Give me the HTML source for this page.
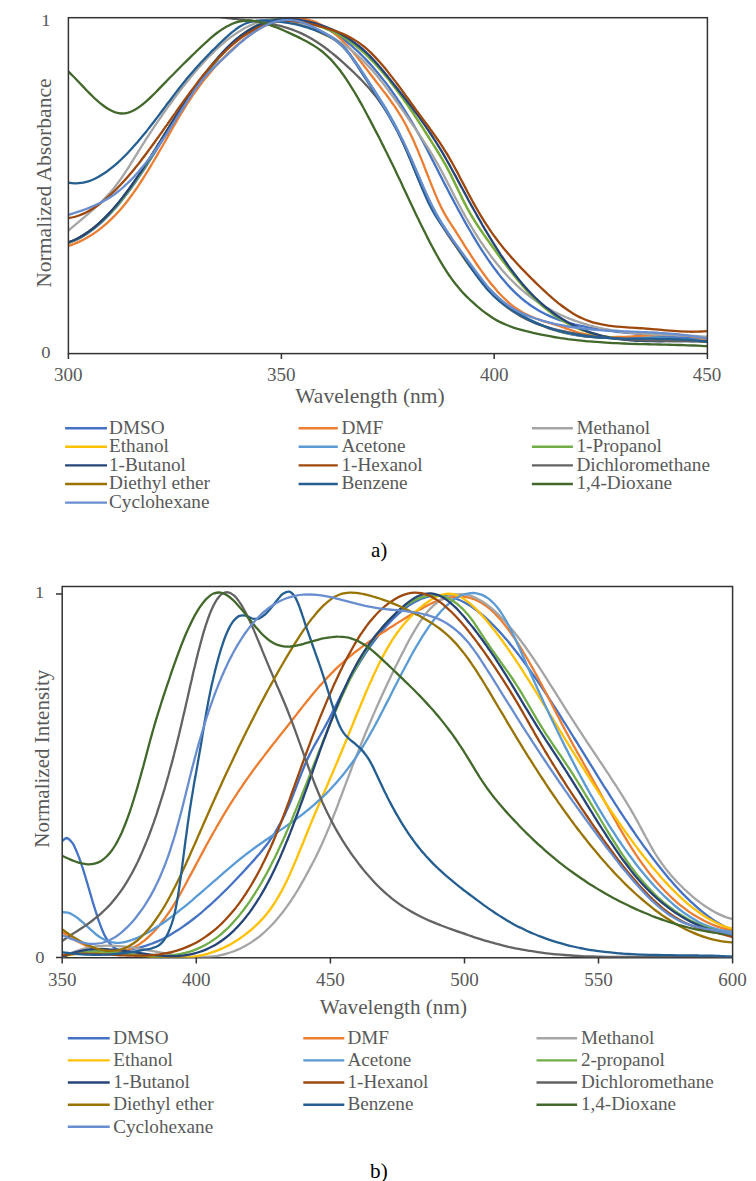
<!DOCTYPE html>
<html><head><meta charset="utf-8"><style>html,body{margin:0;padding:0;background:#fff;}svg{display:block;}</style></head>
<body><svg width="756" height="1181" viewBox="0 0 756 1181">
<defs>
<clipPath id="p1"><rect x="68" y="17.5" width="639" height="335.5"/></clipPath>
<clipPath id="p2"><rect x="62" y="586.5" width="670.5" height="371"/></clipPath>
</defs>
<rect width="756" height="1181" fill="#fff"/>
<path d="M62.2,957.7 H732.6" stroke="#333333" stroke-width="1.5"/>
<g fill="none" stroke-width="2.3" stroke-linejoin="round" stroke-linecap="round">
<path d="M67.6,242.8 C68.7,242.4 72.0,241.2 74.1,240.2 C76.2,239.2 78.3,238.1 80.3,237.0 C82.3,235.8 84.3,234.6 86.3,233.3 C88.2,232.0 90.1,230.6 92.0,229.2 C93.8,227.8 95.6,226.3 97.4,224.8 C99.2,223.3 100.9,221.7 102.6,220.1 C104.3,218.5 106.0,216.9 107.6,215.2 C109.2,213.5 110.8,211.8 112.4,210.1 C114.0,208.4 115.5,206.6 117.0,204.8 C118.5,203.0 120.0,201.2 121.5,199.4 C122.9,197.6 124.4,195.7 125.8,193.9 C127.2,192.0 128.6,190.1 129.9,188.2 C131.3,186.4 132.6,184.4 134.0,182.5 C135.3,180.6 136.6,178.7 137.9,176.7 C139.2,174.8 140.5,172.8 141.8,170.9 C143.0,168.9 144.3,167.0 145.6,165.0 C146.8,163.0 148.1,161.1 149.3,159.1 C150.5,157.1 151.8,155.1 153.0,153.1 C154.2,151.1 155.5,149.2 156.7,147.2 C157.9,145.2 159.1,143.2 160.4,141.2 C161.6,139.2 162.8,137.2 164.0,135.2 C165.2,133.2 166.5,131.3 167.7,129.3 C168.9,127.3 170.2,125.3 171.4,123.3 C172.6,121.3 173.9,119.4 175.1,117.4 C176.4,115.4 177.6,113.4 178.9,111.5 C180.2,109.5 181.4,107.6 182.7,105.6 C184.0,103.7 185.3,101.7 186.6,99.8 C187.9,97.8 189.2,95.9 190.5,94.0 C191.9,92.1 193.2,90.1 194.5,88.2 C195.9,86.3 197.2,84.4 198.6,82.5 C200.0,80.7 201.4,78.8 202.8,76.9 C204.2,75.1 205.6,73.2 207.1,71.4 C208.5,69.5 209.9,67.7 211.4,65.9 C212.9,64.1 214.4,62.3 215.9,60.5 C217.4,58.7 219.0,57.0 220.5,55.3 C222.1,53.5 223.7,51.8 225.3,50.1 C226.9,48.5 228.6,46.8 230.3,45.2 C232.0,43.6 233.7,42.0 235.4,40.4 C237.2,38.9 239.0,37.4 240.8,35.9 C242.6,34.5 244.5,33.1 246.4,31.8 C248.4,30.5 250.3,29.2 252.4,28.0 C254.4,26.9 256.4,25.8 258.6,24.8 C260.7,23.8 262.9,22.9 265.1,22.2 C267.3,21.5 269.6,20.9 271.9,20.5 C274.1,20.1 276.5,19.8 278.8,19.8 C281.1,19.7 283.5,19.8 285.8,20.1 C288.1,20.4 290.4,20.9 292.7,21.4 C294.9,22.0 297.2,22.7 299.4,23.5 C301.6,24.2 303.8,25.1 305.9,26.0 C308.1,26.9 310.2,27.8 312.3,28.8 C314.5,29.7 316.6,30.8 318.7,31.8 C320.8,32.8 322.9,33.8 325.0,34.8 C327.1,35.8 329.3,36.7 331.3,37.8 C333.3,38.9 335.4,40.1 337.3,41.5 C339.1,42.9 340.9,44.5 342.5,46.1 C344.2,47.7 345.8,49.5 347.3,51.3 C348.8,53.0 350.2,54.9 351.6,56.7 C353.0,58.6 354.4,60.5 355.7,62.4 C357.1,64.3 358.4,66.3 359.6,68.2 C360.9,70.2 362.2,72.1 363.4,74.1 C364.7,76.1 366.0,78.1 367.2,80.0 C368.5,82.0 369.7,84.0 371.0,85.9 C372.2,87.9 373.5,89.8 374.8,91.8 C376.0,93.8 377.3,95.7 378.5,97.7 C379.8,99.7 381.0,101.7 382.3,103.7 C383.5,105.6 384.7,107.6 385.9,109.6 C387.1,111.6 388.3,113.7 389.4,115.7 C390.6,117.7 391.7,119.8 392.8,121.8 C394.0,123.9 395.0,125.9 396.1,128.0 C397.2,130.1 398.2,132.2 399.3,134.3 C400.3,136.4 401.3,138.5 402.3,140.6 C403.3,142.7 404.2,144.8 405.2,147.0 C406.1,149.1 407.1,151.2 408.0,153.4 C408.9,155.5 409.9,157.6 410.8,159.8 C411.7,161.9 412.6,164.1 413.5,166.2 C414.4,168.4 415.4,170.5 416.3,172.7 C417.2,174.8 418.1,177.0 419.1,179.1 C420.0,181.3 420.9,183.4 421.9,185.5 C422.8,187.7 423.8,189.8 424.8,191.9 C425.7,194.0 426.7,196.2 427.7,198.3 C428.7,200.4 429.8,202.5 430.8,204.5 C431.9,206.6 433.0,208.7 434.1,210.7 C435.2,212.8 436.4,214.8 437.6,216.8 C438.7,218.8 439.9,220.8 441.2,222.8 C442.4,224.8 443.7,226.8 444.9,228.8 C446.1,230.7 447.4,232.7 448.7,234.7 C449.9,236.6 451.2,238.6 452.4,240.6 C453.7,242.5 454.9,244.5 456.2,246.5 C457.5,248.4 458.7,250.4 460.0,252.3 C461.3,254.3 462.6,256.2 463.9,258.1 C465.3,260.1 466.6,262.0 468.0,263.9 C469.3,265.8 470.7,267.6 472.2,269.5 C473.6,271.3 475.0,273.2 476.5,275.0 C478.0,276.8 479.5,278.6 481.0,280.4 C482.5,282.1 484.1,283.9 485.7,285.6 C487.3,287.3 488.9,289.0 490.5,290.6 C492.2,292.3 493.9,293.9 495.6,295.5 C497.3,297.1 499.0,298.6 500.8,300.2 C502.6,301.7 504.4,303.2 506.2,304.6 C508.0,306.1 509.9,307.5 511.8,308.8 C513.7,310.2 515.6,311.5 517.6,312.8 C519.5,314.1 521.5,315.3 523.5,316.5 C525.5,317.7 527.6,318.8 529.6,319.9 C531.7,321.0 533.8,322.0 535.9,323.0 C538.0,324.0 540.2,324.9 542.3,325.8 C544.5,326.7 546.7,327.5 548.9,328.3 C551.1,329.0 553.3,329.8 555.6,330.4 C557.8,331.1 560.1,331.7 562.3,332.3 C564.6,332.8 566.9,333.3 569.2,333.8 C571.4,334.3 573.7,334.7 576.0,335.0 C578.4,335.4 580.7,335.7 583.0,336.0 C585.3,336.3 587.6,336.6 589.9,336.8 C592.3,337.0 594.6,337.1 596.9,337.3 C599.3,337.4 601.6,337.5 603.9,337.6 C606.3,337.7 608.6,337.8 610.9,337.8 C613.3,337.9 615.6,337.9 617.9,337.9 C620.3,337.9 622.6,337.9 624.9,337.9 C627.3,337.8 629.6,337.8 631.9,337.8 C634.3,337.7 636.6,337.7 639.0,337.7 C641.3,337.6 643.6,337.6 646.0,337.6 C648.3,337.5 650.6,337.5 653.0,337.5 C655.3,337.5 657.6,337.5 660.0,337.5 C662.3,337.5 664.6,337.5 667.0,337.6 C669.3,337.6 671.6,337.7 674.0,337.8 C676.3,337.9 678.6,338.1 681.0,338.2 C683.3,338.4 685.6,338.6 687.9,338.8 C690.3,339.1 692.6,339.3 694.9,339.6 C697.2,340.0 699.5,340.3 701.8,340.7 C704.1,341.1 707.6,341.8 708.7,342.0" stroke="#997300" clip-path="url(#p1)"/>
<path d="M67.9,242.8 C69.0,242.4 72.3,241.1 74.4,240.2 C76.5,239.2 78.6,238.1 80.7,236.9 C82.7,235.8 84.7,234.5 86.7,233.2 C88.6,231.9 90.5,230.5 92.4,229.1 C94.2,227.7 96.0,226.2 97.8,224.7 C99.6,223.1 101.3,221.6 103.0,220.0 C104.8,218.3 106.4,216.7 108.1,215.0 C109.7,213.3 111.3,211.6 112.9,209.9 C114.4,208.1 116.0,206.4 117.5,204.6 C119.0,202.8 120.5,201.0 122.0,199.1 C123.4,197.3 124.9,195.4 126.3,193.6 C127.7,191.7 129.1,189.8 130.5,187.9 C131.8,186.0 133.2,184.1 134.5,182.2 C135.9,180.2 137.2,178.3 138.5,176.3 C139.8,174.4 141.1,172.4 142.3,170.4 C143.6,168.5 144.9,166.5 146.2,164.5 C147.4,162.6 148.7,160.6 149.9,158.6 C151.2,156.6 152.4,154.6 153.6,152.6 C154.9,150.6 156.1,148.6 157.3,146.6 C158.6,144.6 159.8,142.6 161.0,140.6 C162.3,138.6 163.5,136.6 164.7,134.6 C165.9,132.6 167.2,130.6 168.4,128.6 C169.6,126.6 170.9,124.6 172.1,122.7 C173.4,120.7 174.6,118.7 175.9,116.7 C177.1,114.7 178.4,112.7 179.7,110.8 C181.0,108.8 182.2,106.8 183.5,104.9 C184.8,102.9 186.1,101.0 187.4,99.0 C188.7,97.1 190.1,95.1 191.4,93.2 C192.7,91.3 194.1,89.4 195.4,87.4 C196.8,85.5 198.2,83.6 199.5,81.7 C200.9,79.8 202.3,78.0 203.8,76.1 C205.2,74.2 206.6,72.4 208.0,70.5 C209.5,68.7 211.0,66.8 212.5,65.0 C214.0,63.2 215.5,61.4 217.0,59.6 C218.5,57.9 220.1,56.1 221.7,54.4 C223.2,52.6 224.9,50.9 226.5,49.2 C228.1,47.6 229.8,45.9 231.5,44.3 C233.2,42.7 234.9,41.1 236.7,39.6 C238.5,38.0 240.3,36.5 242.1,35.1 C244.0,33.7 245.9,32.3 247.8,31.0 C249.8,29.7 251.8,28.4 253.8,27.3 C255.9,26.1 258.0,25.0 260.1,24.1 C262.2,23.1 264.4,22.3 266.7,21.6 C268.9,20.9 271.2,20.4 273.5,20.0 C275.8,19.6 278.2,19.4 280.5,19.3 C282.9,19.2 285.2,19.3 287.6,19.4 C289.9,19.5 292.2,19.8 294.6,20.1 C296.9,20.5 299.2,20.9 301.5,21.3 C303.8,21.8 306.1,22.3 308.4,22.9 C310.6,23.5 312.9,24.1 315.1,24.8 C317.4,25.5 319.6,26.2 321.8,27.0 C324.0,27.8 326.2,28.7 328.4,29.6 C330.5,30.5 332.7,31.5 334.8,32.6 C336.9,33.6 338.9,34.7 341.0,35.9 C343.0,37.0 345.0,38.3 347.0,39.5 C348.9,40.8 350.9,42.2 352.8,43.5 C354.7,44.9 356.5,46.4 358.3,47.8 C360.2,49.3 361.9,50.9 363.7,52.4 C365.4,54.0 367.1,55.6 368.8,57.3 C370.5,58.9 372.1,60.6 373.7,62.3 C375.3,64.0 376.9,65.7 378.5,67.5 C380.1,69.2 381.6,71.0 383.1,72.8 C384.6,74.6 386.1,76.4 387.6,78.2 C389.1,80.0 390.5,81.9 392.0,83.7 C393.4,85.6 394.8,87.4 396.2,89.3 C397.6,91.2 399.0,93.1 400.4,95.0 C401.8,96.9 403.1,98.8 404.5,100.7 C405.9,102.6 407.2,104.6 408.5,106.5 C409.9,108.4 411.2,110.4 412.5,112.3 C413.8,114.2 415.1,116.2 416.4,118.2 C417.7,120.1 419.0,122.1 420.3,124.0 C421.5,126.0 422.8,128.0 424.1,130.0 C425.3,131.9 426.6,133.9 427.9,135.9 C429.1,137.9 430.4,139.9 431.6,141.9 C432.8,143.8 434.1,145.8 435.3,147.8 C436.6,149.8 437.8,151.8 439.0,153.8 C440.2,155.8 441.4,157.8 442.6,159.9 C443.8,161.9 445.0,163.9 446.1,166.0 C447.3,168.0 448.4,170.1 449.4,172.2 C450.5,174.3 451.6,176.4 452.6,178.5 C453.6,180.6 454.6,182.7 455.7,184.8 C456.7,186.9 457.7,189.0 458.7,191.2 C459.7,193.3 460.8,195.4 461.8,197.5 C462.8,199.6 463.9,201.7 464.9,203.8 C466.0,205.9 467.1,207.9 468.2,210.0 C469.4,212.1 470.5,214.1 471.7,216.1 C472.9,218.1 474.2,220.1 475.4,222.1 C476.7,224.1 478.0,226.1 479.3,228.0 C480.6,229.9 481.9,231.9 483.3,233.8 C484.6,235.7 486.0,237.6 487.3,239.5 C488.7,241.5 490.1,243.4 491.4,245.3 C492.8,247.2 494.2,249.1 495.5,251.0 C496.9,252.9 498.3,254.8 499.7,256.7 C501.1,258.5 502.5,260.4 503.9,262.3 C505.3,264.2 506.7,266.0 508.2,267.9 C509.6,269.8 511.0,271.6 512.5,273.4 C514.0,275.3 515.4,277.1 516.9,278.9 C518.4,280.7 519.9,282.5 521.4,284.3 C523.0,286.1 524.5,287.9 526.1,289.6 C527.7,291.4 529.3,293.1 530.9,294.8 C532.5,296.5 534.2,298.1 535.8,299.8 C537.5,301.4 539.2,303.0 541.0,304.6 C542.8,306.1 544.5,307.6 546.4,309.1 C548.2,310.6 550.0,312.0 551.9,313.4 C553.8,314.8 555.7,316.2 557.7,317.5 C559.6,318.8 561.6,320.0 563.7,321.2 C565.7,322.4 567.7,323.5 569.8,324.6 C571.9,325.7 574.0,326.7 576.2,327.6 C578.3,328.6 580.5,329.5 582.7,330.3 C584.9,331.2 587.1,331.9 589.3,332.7 C591.5,333.4 593.8,334.0 596.1,334.6 C598.3,335.2 600.6,335.7 602.9,336.2 C605.2,336.7 607.5,337.1 609.8,337.5 C612.2,337.9 614.5,338.2 616.8,338.5 C619.1,338.8 621.5,339.0 623.8,339.2 C626.2,339.4 628.5,339.6 630.8,339.7 C633.2,339.8 635.5,339.9 637.9,340.0 C640.2,340.1 642.6,340.1 644.9,340.2 C647.3,340.2 649.6,340.2 651.9,340.2 C654.3,340.2 656.6,340.2 659.0,340.2 C661.3,340.2 663.7,340.1 666.0,340.1 C668.4,340.1 670.7,340.1 673.1,340.1 C675.4,340.1 677.8,340.1 680.1,340.2 C682.4,340.2 684.8,340.2 687.1,340.3 C689.5,340.4 691.8,340.5 694.2,340.6 C696.5,340.7 698.9,340.9 701.2,341.1 C703.5,341.3 707.0,341.7 708.2,341.8" stroke="#FFC000" clip-path="url(#p1)"/>
<path d="M67.7,242.8 C68.8,242.4 72.1,241.1 74.2,240.2 C76.3,239.2 78.4,238.1 80.4,237.0 C82.5,235.8 84.5,234.6 86.4,233.3 C88.3,232.0 90.2,230.6 92.1,229.2 C93.9,227.8 95.8,226.3 97.5,224.8 C99.3,223.2 101.0,221.7 102.7,220.1 C104.4,218.5 106.1,216.8 107.7,215.1 C109.4,213.5 110.9,211.8 112.5,210.0 C114.1,208.3 115.6,206.5 117.1,204.8 C118.6,203.0 120.1,201.2 121.6,199.3 C123.0,197.5 124.5,195.7 125.9,193.8 C127.3,191.9 128.7,190.1 130.1,188.2 C131.4,186.3 132.8,184.4 134.1,182.4 C135.4,180.5 136.8,178.6 138.1,176.6 C139.4,174.7 140.6,172.7 141.9,170.8 C143.2,168.8 144.5,166.9 145.7,164.9 C147.0,162.9 148.2,161.0 149.5,159.0 C150.7,157.0 151.9,155.0 153.2,153.0 C154.4,151.0 155.6,149.1 156.9,147.1 C158.1,145.1 159.3,143.1 160.5,141.1 C161.8,139.1 163.0,137.1 164.2,135.1 C165.4,133.1 166.7,131.1 167.9,129.2 C169.1,127.2 170.4,125.2 171.6,123.2 C172.8,121.2 174.1,119.2 175.3,117.3 C176.6,115.3 177.9,113.3 179.1,111.4 C180.4,109.4 181.7,107.4 182.9,105.5 C184.2,103.5 185.5,101.6 186.8,99.6 C188.1,97.7 189.4,95.8 190.8,93.8 C192.1,91.9 193.4,90.0 194.8,88.1 C196.1,86.2 197.5,84.3 198.9,82.4 C200.2,80.5 201.6,78.6 203.0,76.8 C204.4,74.9 205.9,73.0 207.3,71.2 C208.7,69.4 210.2,67.5 211.7,65.7 C213.1,63.9 214.6,62.1 216.2,60.3 C217.7,58.6 219.2,56.8 220.8,55.1 C222.4,53.3 224.0,51.6 225.6,49.9 C227.2,48.3 228.8,46.6 230.5,45.0 C232.2,43.4 233.9,41.8 235.7,40.2 C237.4,38.7 239.2,37.2 241.1,35.7 C242.9,34.3 244.8,32.9 246.7,31.6 C248.6,30.3 250.6,29.0 252.6,27.8 C254.7,26.7 256.7,25.6 258.9,24.6 C261.0,23.6 263.2,22.8 265.4,22.1 C267.6,21.4 269.9,20.8 272.2,20.4 C274.5,20.0 276.8,19.7 279.2,19.6 C281.5,19.6 283.8,19.7 286.2,19.9 C288.5,20.1 290.8,20.4 293.1,20.9 C295.4,21.3 297.6,21.9 299.9,22.6 C302.1,23.3 304.3,24.0 306.5,24.8 C308.7,25.7 310.9,26.6 313.0,27.5 C315.2,28.4 317.3,29.4 319.4,30.4 C321.5,31.4 323.6,32.5 325.6,33.6 C327.7,34.7 329.8,35.7 331.8,37.0 C333.8,38.2 335.7,39.5 337.5,41.0 C339.3,42.4 341.0,44.1 342.7,45.7 C344.3,47.4 345.8,49.2 347.3,51.0 C348.8,52.8 350.2,54.6 351.6,56.5 C353.0,58.4 354.4,60.3 355.7,62.2 C357.1,64.1 358.4,66.0 359.7,68.0 C361.0,69.9 362.3,71.9 363.6,73.8 C364.9,75.8 366.1,77.7 367.4,79.7 C368.7,81.6 370.0,83.6 371.3,85.6 C372.5,87.5 373.8,89.5 375.1,91.4 C376.4,93.4 377.6,95.3 378.9,97.3 C380.2,99.3 381.4,101.3 382.6,103.2 C383.9,105.2 385.1,107.2 386.3,109.2 C387.5,111.2 388.7,113.3 389.8,115.3 C391.0,117.3 392.1,119.4 393.2,121.4 C394.3,123.5 395.4,125.6 396.5,127.6 C397.5,129.7 398.5,131.8 399.6,133.9 C400.6,136.0 401.6,138.1 402.6,140.3 C403.5,142.4 404.5,144.5 405.5,146.7 C406.4,148.8 407.4,150.9 408.3,153.1 C409.2,155.2 410.2,157.3 411.1,159.5 C412.0,161.6 412.9,163.8 413.9,165.9 C414.8,168.1 415.7,170.2 416.6,172.4 C417.6,174.5 418.5,176.7 419.4,178.8 C420.4,180.9 421.3,183.1 422.3,185.2 C423.2,187.4 424.2,189.5 425.1,191.6 C426.1,193.7 427.1,195.9 428.1,198.0 C429.1,200.1 430.1,202.2 431.2,204.3 C432.3,206.3 433.3,208.4 434.5,210.5 C435.6,212.5 436.7,214.5 437.9,216.6 C439.1,218.6 440.3,220.6 441.5,222.6 C442.8,224.6 444.0,226.5 445.3,228.5 C446.5,230.5 447.8,232.4 449.1,234.4 C450.3,236.4 451.6,238.4 452.8,240.3 C454.1,242.3 455.3,244.3 456.6,246.2 C457.9,248.2 459.1,250.2 460.4,252.1 C461.7,254.1 463.0,256.0 464.3,257.9 C465.6,259.9 467.0,261.8 468.3,263.7 C469.7,265.6 471.1,267.5 472.5,269.3 C473.9,271.2 475.4,273.0 476.8,274.8 C478.3,276.6 479.8,278.4 481.3,280.2 C482.9,282.0 484.4,283.7 486.0,285.4 C487.6,287.2 489.2,288.8 490.9,290.5 C492.5,292.2 494.2,293.8 495.9,295.4 C497.6,297.0 499.3,298.5 501.1,300.0 C502.9,301.6 504.7,303.1 506.5,304.5 C508.4,305.9 510.2,307.4 512.1,308.7 C514.0,310.1 516.0,311.4 517.9,312.7 C519.9,314.0 521.9,315.2 523.9,316.4 C525.9,317.6 527.9,318.7 530.0,319.8 C532.1,320.9 534.2,321.9 536.3,322.9 C538.4,323.9 540.5,324.8 542.7,325.7 C544.9,326.6 547.1,327.4 549.3,328.2 C551.5,329.0 553.7,329.7 555.9,330.4 C558.2,331.0 560.4,331.6 562.7,332.2 C565.0,332.8 567.2,333.3 569.5,333.8 C571.8,334.2 574.1,334.6 576.4,335.0 C578.7,335.4 581.0,335.7 583.4,336.0 C585.7,336.3 588.0,336.5 590.3,336.7 C592.7,337.0 595.0,337.1 597.3,337.3 C599.7,337.4 602.0,337.5 604.3,337.6 C606.7,337.7 609.0,337.8 611.3,337.8 C613.7,337.9 616.0,337.9 618.3,337.9 C620.7,337.9 623.0,337.9 625.4,337.9 C627.7,337.9 630.0,337.8 632.4,337.8 C634.7,337.8 637.0,337.7 639.4,337.7 C641.7,337.7 644.1,337.6 646.4,337.6 C648.7,337.6 651.1,337.5 653.4,337.5 C655.7,337.5 658.1,337.5 660.4,337.5 C662.8,337.5 665.1,337.6 667.4,337.6 C669.8,337.7 672.1,337.8 674.4,337.9 C676.8,338.0 679.1,338.1 681.4,338.3 C683.8,338.4 686.1,338.6 688.4,338.8 C690.7,339.1 693.1,339.3 695.4,339.7 C697.7,340.0 700.0,340.3 702.3,340.7 C704.6,341.1 708.1,341.8 709.2,342.0" stroke="#5B9BD5" clip-path="url(#p1)"/>
<path d="M68.9,242.7 C70.0,242.3 73.3,241.1 75.5,240.2 C77.6,239.2 79.7,238.1 81.8,237.0 C83.8,235.8 85.8,234.6 87.7,233.3 C89.7,232.0 91.6,230.6 93.4,229.2 C95.3,227.7 97.1,226.2 98.9,224.7 C100.7,223.2 102.4,221.6 104.1,219.9 C105.8,218.3 107.4,216.7 109.1,215.0 C110.7,213.3 112.3,211.5 113.8,209.8 C115.4,208.1 116.9,206.3 118.5,204.5 C120.0,202.7 121.5,200.9 122.9,199.0 C124.4,197.2 125.8,195.3 127.2,193.5 C128.6,191.6 130.0,189.7 131.4,187.8 C132.8,185.9 134.1,184.0 135.5,182.1 C136.8,180.1 138.1,178.2 139.5,176.2 C140.8,174.3 142.1,172.3 143.4,170.4 C144.6,168.4 145.9,166.4 147.2,164.5 C148.5,162.5 149.7,160.5 151.0,158.5 C152.2,156.6 153.5,154.6 154.7,152.6 C156.0,150.6 157.2,148.6 158.4,146.6 C159.7,144.6 160.9,142.6 162.2,140.6 C163.4,138.6 164.6,136.6 165.9,134.6 C167.1,132.6 168.3,130.6 169.6,128.6 C170.8,126.7 172.0,124.7 173.3,122.7 C174.5,120.7 175.8,118.7 177.0,116.7 C178.3,114.7 179.6,112.7 180.8,110.8 C182.1,108.8 183.4,106.8 184.7,104.9 C185.9,102.9 187.2,100.9 188.5,99.0 C189.8,97.0 191.1,95.1 192.5,93.1 C193.8,91.2 195.1,89.3 196.5,87.4 C197.8,85.4 199.2,83.5 200.5,81.6 C201.9,79.7 203.3,77.8 204.7,75.9 C206.1,74.0 207.5,72.2 209.0,70.3 C210.4,68.5 211.9,66.6 213.3,64.8 C214.8,63.0 216.3,61.2 217.9,59.4 C219.4,57.6 220.9,55.9 222.5,54.1 C224.1,52.4 225.7,50.7 227.4,49.0 C229.0,47.3 230.7,45.7 232.4,44.1 C234.1,42.5 235.9,41.0 237.7,39.5 C239.5,38.0 241.3,36.5 243.2,35.1 C245.1,33.7 247.1,32.4 249.0,31.1 C251.0,29.9 253.1,28.7 255.1,27.6 C257.2,26.5 259.3,25.5 261.5,24.6 C263.6,23.7 265.9,22.9 268.1,22.1 C270.3,21.4 272.6,20.8 274.9,20.3 C277.2,19.8 279.5,19.5 281.8,19.2 C284.2,18.9 286.5,18.8 288.9,18.8 C291.2,18.8 293.6,18.9 295.9,19.1 C298.2,19.3 300.6,19.6 302.9,20.1 C305.2,20.5 307.4,21.1 309.7,21.7 C312.0,22.4 314.2,23.1 316.4,24.0 C318.6,24.8 320.7,25.7 322.9,26.7 C325.0,27.7 327.1,28.8 329.1,29.9 C331.2,31.1 333.2,32.3 335.2,33.5 C337.1,34.8 339.1,36.1 341.0,37.5 C342.9,38.9 344.8,40.3 346.6,41.7 C348.4,43.2 350.2,44.7 352.0,46.2 C353.8,47.8 355.5,49.3 357.3,50.9 C359.0,52.5 360.7,54.2 362.3,55.8 C364.0,57.5 365.6,59.2 367.2,60.9 C368.8,62.6 370.4,64.3 372.0,66.1 C373.5,67.8 375.1,69.6 376.6,71.4 C378.1,73.2 379.6,75.0 381.0,76.9 C382.5,78.7 383.9,80.5 385.4,82.4 C386.8,84.3 388.2,86.2 389.6,88.0 C391.0,89.9 392.3,91.9 393.7,93.8 C395.0,95.7 396.4,97.6 397.7,99.6 C399.0,101.5 400.3,103.5 401.6,105.4 C402.8,107.4 404.1,109.4 405.3,111.4 C406.6,113.4 407.8,115.4 409.0,117.4 C410.3,119.4 411.5,121.4 412.6,123.4 C413.8,125.4 415.0,127.5 416.2,129.5 C417.3,131.6 418.5,133.6 419.6,135.7 C420.8,137.7 421.9,139.8 423.0,141.8 C424.1,143.9 425.2,146.0 426.3,148.0 C427.4,150.1 428.5,152.2 429.5,154.3 C430.6,156.4 431.7,158.5 432.8,160.6 C433.8,162.7 434.9,164.8 435.9,166.8 C437.0,168.9 438.1,171.0 439.1,173.1 C440.2,175.2 441.3,177.3 442.4,179.4 C443.4,181.5 444.5,183.6 445.6,185.6 C446.7,187.7 447.7,189.8 448.8,191.9 C449.9,194.0 451.0,196.0 452.1,198.1 C453.2,200.2 454.3,202.3 455.4,204.3 C456.5,206.4 457.6,208.5 458.7,210.5 C459.9,212.6 461.0,214.7 462.1,216.7 C463.3,218.8 464.4,220.8 465.5,222.9 C466.7,224.9 467.9,227.0 469.0,229.0 C470.2,231.0 471.4,233.0 472.6,235.1 C473.8,237.1 475.0,239.1 476.2,241.1 C477.4,243.1 478.7,245.1 479.9,247.1 C481.2,249.1 482.4,251.0 483.7,253.0 C485.0,255.0 486.3,256.9 487.6,258.9 C489.0,260.8 490.3,262.7 491.7,264.6 C493.0,266.6 494.4,268.5 495.8,270.3 C497.2,272.2 498.7,274.1 500.1,275.9 C501.6,277.7 503.1,279.5 504.6,281.3 C506.1,283.1 507.7,284.9 509.3,286.6 C510.9,288.3 512.5,290.0 514.2,291.6 C515.9,293.3 517.6,294.9 519.3,296.4 C521.1,298.0 522.9,299.5 524.7,301.0 C526.6,302.4 528.4,303.8 530.4,305.2 C532.3,306.5 534.3,307.8 536.3,309.0 C538.3,310.3 540.3,311.4 542.4,312.5 C544.4,313.6 546.6,314.7 548.7,315.6 C550.8,316.6 553.0,317.5 555.2,318.4 C557.4,319.2 559.6,320.0 561.8,320.7 C564.0,321.5 566.3,322.2 568.5,322.8 C570.8,323.4 573.1,324.0 575.3,324.6 C577.6,325.1 579.9,325.7 582.2,326.2 C584.5,326.7 586.8,327.1 589.1,327.6 C591.4,328.0 593.7,328.4 596.0,328.8 C598.3,329.2 600.7,329.6 603.0,329.9 C605.3,330.3 607.6,330.6 610.0,330.9 C612.3,331.2 614.6,331.5 616.9,331.8 C619.3,332.1 621.6,332.3 623.9,332.6 C626.3,332.8 628.6,333.0 631.0,333.2 C633.3,333.5 635.6,333.7 638.0,333.9 C640.3,334.0 642.6,334.2 645.0,334.4 C647.3,334.6 649.7,334.7 652.0,334.9 C654.4,335.0 656.7,335.2 659.0,335.3 C661.4,335.5 663.7,335.6 666.1,335.8 C668.4,335.9 670.7,336.1 673.1,336.2 C675.4,336.4 677.8,336.5 680.1,336.7 C682.5,336.8 684.8,337.0 687.1,337.1 C689.5,337.3 691.8,337.5 694.2,337.6 C696.5,337.8 698.8,338.0 701.2,338.2 C703.5,338.4 707.0,338.7 708.2,338.8" stroke="#4472C4" clip-path="url(#p1)"/>
<path d="M67.4,246.2 C68.5,245.8 71.9,244.7 74.0,243.9 C76.2,243.0 78.4,242.1 80.5,241.1 C82.6,240.1 84.7,239.0 86.7,237.8 C88.8,236.7 90.8,235.4 92.7,234.2 C94.7,232.9 96.6,231.5 98.5,230.1 C100.4,228.7 102.2,227.3 104.0,225.7 C105.8,224.2 107.5,222.7 109.2,221.1 C111.0,219.5 112.6,217.8 114.3,216.2 C115.9,214.5 117.5,212.8 119.1,211.0 C120.6,209.3 122.1,207.5 123.6,205.7 C125.1,203.9 126.6,202.0 128.0,200.2 C129.4,198.3 130.8,196.4 132.2,194.5 C133.6,192.6 134.9,190.7 136.3,188.8 C137.6,186.9 138.9,184.9 140.2,182.9 C141.4,181.0 142.7,179.0 144.0,177.0 C145.2,175.0 146.4,173.0 147.7,171.1 C148.9,169.1 150.1,167.0 151.3,165.0 C152.5,163.0 153.7,161.0 154.9,159.0 C156.1,157.0 157.3,154.9 158.4,152.9 C159.6,150.9 160.8,148.9 162.0,146.8 C163.1,144.8 164.3,142.8 165.5,140.7 C166.6,138.7 167.8,136.7 168.9,134.6 C170.1,132.6 171.3,130.5 172.4,128.5 C173.6,126.5 174.7,124.4 175.9,122.4 C177.1,120.4 178.3,118.4 179.5,116.3 C180.7,114.3 181.9,112.3 183.1,110.3 C184.3,108.3 185.5,106.3 186.8,104.3 C188.1,102.4 189.3,100.4 190.7,98.5 C192.0,96.5 193.3,94.6 194.6,92.7 C196.0,90.8 197.4,88.9 198.8,87.0 C200.2,85.1 201.6,83.2 203.0,81.4 C204.5,79.5 205.9,77.7 207.4,75.9 C208.9,74.1 210.4,72.3 211.9,70.5 C213.5,68.7 215.0,67.0 216.6,65.2 C218.2,63.5 219.8,61.8 221.4,60.1 C223.0,58.4 224.6,56.7 226.3,55.1 C228.0,53.4 229.7,51.8 231.4,50.2 C233.1,48.6 234.8,47.0 236.6,45.5 C238.4,44.0 240.2,42.4 242.0,41.0 C243.8,39.5 245.7,38.1 247.5,36.7 C249.4,35.3 251.3,33.9 253.3,32.6 C255.3,31.3 257.2,30.1 259.3,28.9 C261.3,27.7 263.3,26.6 265.4,25.5 C267.5,24.5 269.7,23.5 271.9,22.7 C274.0,21.8 276.3,21.1 278.5,20.4 C280.8,19.8 283.1,19.2 285.4,18.8 C287.7,18.4 290.0,18.2 292.4,18.1 C294.7,18.0 297.0,18.0 299.4,18.2 C301.7,18.4 304.0,18.8 306.3,19.3 C308.6,19.8 310.9,20.4 313.1,21.2 C315.3,22.0 317.4,23.0 319.5,24.0 C321.6,25.0 323.7,26.2 325.7,27.4 C327.7,28.6 329.6,30.0 331.5,31.4 C333.4,32.7 335.2,34.2 337.0,35.7 C338.8,37.3 340.5,38.8 342.2,40.5 C343.9,42.1 345.5,43.8 347.1,45.5 C348.7,47.2 350.3,48.9 351.8,50.7 C353.4,52.5 354.9,54.3 356.4,56.1 C357.8,57.9 359.3,59.7 360.7,61.6 C362.2,63.4 363.6,65.3 365.0,67.2 C366.5,69.0 367.9,70.9 369.3,72.7 C370.7,74.6 372.1,76.5 373.6,78.3 C375.0,80.2 376.4,82.0 377.9,83.9 C379.3,85.7 380.8,87.6 382.2,89.4 C383.6,91.3 385.1,93.1 386.5,95.0 C387.9,96.9 389.3,98.8 390.6,100.7 C392.0,102.6 393.4,104.5 394.7,106.4 C396.0,108.4 397.3,110.3 398.5,112.3 C399.8,114.3 401.0,116.3 402.1,118.3 C403.3,120.4 404.5,122.4 405.6,124.5 C406.7,126.5 407.8,128.6 408.8,130.7 C409.9,132.8 410.9,134.9 411.9,137.0 C412.9,139.2 413.8,141.3 414.8,143.5 C415.7,145.6 416.6,147.8 417.6,149.9 C418.5,152.1 419.4,154.2 420.2,156.4 C421.1,158.6 422.0,160.8 422.9,162.9 C423.7,165.1 424.6,167.3 425.4,169.5 C426.3,171.7 427.1,173.8 428.0,176.0 C428.9,178.2 429.7,180.4 430.6,182.6 C431.4,184.8 432.3,186.9 433.2,189.1 C434.1,191.3 435.0,193.4 435.9,195.6 C436.8,197.8 437.7,199.9 438.7,202.0 C439.7,204.2 440.7,206.3 441.7,208.4 C442.8,210.5 443.9,212.5 445.1,214.6 C446.2,216.6 447.5,218.6 448.7,220.6 C450.0,222.6 451.3,224.5 452.5,226.5 C453.8,228.5 455.1,230.4 456.3,232.4 C457.6,234.4 458.8,236.4 460.1,238.4 C461.3,240.3 462.6,242.3 463.8,244.3 C465.1,246.3 466.3,248.3 467.6,250.2 C468.9,252.2 470.1,254.2 471.4,256.1 C472.7,258.1 474.0,260.1 475.3,262.0 C476.6,264.0 477.9,265.9 479.3,267.8 C480.6,269.7 482.0,271.6 483.3,273.5 C484.7,275.4 486.1,277.3 487.5,279.2 C489.0,281.0 490.4,282.9 491.9,284.7 C493.4,286.5 494.9,288.3 496.4,290.1 C498.0,291.9 499.5,293.6 501.1,295.3 C502.8,297.0 504.4,298.6 506.1,300.2 C507.9,301.8 509.6,303.4 511.4,304.8 C513.3,306.3 515.2,307.7 517.1,309.0 C519.1,310.3 521.1,311.5 523.1,312.7 C525.2,313.8 527.3,314.8 529.4,315.8 C531.5,316.8 533.7,317.6 535.9,318.5 C538.1,319.3 540.3,320.0 542.6,320.8 C544.8,321.5 547.0,322.2 549.3,322.9 C551.5,323.6 553.7,324.3 556.0,325.0 C558.2,325.7 560.4,326.4 562.7,327.2 C564.9,328.0 567.1,328.8 569.3,329.5 C571.5,330.3 573.7,331.1 575.9,331.8 C578.2,332.5 580.4,333.2 582.7,333.7 C585.0,334.3 587.3,334.8 589.6,335.2 C591.9,335.6 594.2,335.9 596.5,336.2 C598.9,336.5 601.2,336.7 603.5,336.8 C605.9,336.9 608.2,337.0 610.6,337.1 C612.9,337.1 615.3,337.1 617.6,337.0 C619.9,337.0 622.3,336.9 624.6,336.8 C627.0,336.7 629.3,336.5 631.6,336.4 C634.0,336.2 636.3,336.1 638.7,335.9 C641.0,335.7 643.3,335.6 645.7,335.4 C648.0,335.3 650.3,335.1 652.7,335.0 C655.0,334.8 657.4,334.7 659.7,334.6 C662.1,334.6 664.4,334.5 666.7,334.5 C669.1,334.5 671.4,334.5 673.8,334.6 C676.1,334.7 678.5,334.8 680.8,335.0 C683.1,335.2 685.5,335.5 687.8,335.8 C690.1,336.2 692.4,336.6 694.7,337.0 C697.0,337.5 699.3,338.1 701.5,338.7 C703.8,339.4 707.1,340.6 708.2,340.9" stroke="#ED7D31" clip-path="url(#p1)"/>
<path d="M67.4,231.5 C68.3,230.7 70.9,228.4 72.7,226.9 C74.5,225.3 76.3,223.8 78.1,222.3 C79.8,220.8 81.7,219.3 83.5,217.8 C85.3,216.3 87.1,214.8 88.9,213.3 C90.6,211.7 92.4,210.2 94.2,208.6 C95.9,207.1 97.6,205.5 99.3,203.9 C101.0,202.2 102.7,200.6 104.3,198.9 C106.0,197.2 107.6,195.5 109.1,193.7 C110.7,192.0 112.2,190.2 113.7,188.4 C115.2,186.6 116.6,184.7 118.0,182.8 C119.4,180.9 120.8,179.0 122.1,177.1 C123.4,175.2 124.7,173.2 126.0,171.2 C127.3,169.3 128.6,167.3 129.8,165.3 C131.1,163.3 132.3,161.3 133.5,159.3 C134.8,157.3 136.0,155.3 137.2,153.3 C138.5,151.3 139.7,149.3 140.9,147.4 C142.2,145.4 143.4,143.4 144.7,141.4 C145.9,139.4 147.2,137.4 148.5,135.5 C149.8,133.5 151.1,131.5 152.4,129.6 C153.7,127.6 155.0,125.7 156.3,123.7 C157.6,121.8 158.9,119.9 160.3,117.9 C161.6,116.0 163.0,114.1 164.3,112.1 C165.6,110.2 167.0,108.3 168.4,106.4 C169.7,104.5 171.1,102.6 172.5,100.7 C173.9,98.8 175.3,96.9 176.7,95.0 C178.1,93.1 179.5,91.3 180.9,89.4 C182.4,87.6 183.8,85.7 185.3,83.9 C186.7,82.0 188.2,80.2 189.7,78.4 C191.1,76.5 192.6,74.7 194.2,72.9 C195.7,71.2 197.2,69.4 198.8,67.6 C200.3,65.8 201.9,64.1 203.5,62.4 C205.0,60.6 206.7,58.9 208.3,57.2 C209.9,55.6 211.6,53.9 213.3,52.3 C214.9,50.6 216.6,49.0 218.4,47.4 C220.1,45.8 221.9,44.3 223.7,42.8 C225.5,41.3 227.3,39.8 229.2,38.4 C231.0,36.9 232.9,35.5 234.9,34.2 C236.8,32.9 238.8,31.6 240.8,30.4 C242.8,29.2 244.8,28.0 246.9,27.0 C249.0,25.9 251.1,24.9 253.3,24.1 C255.5,23.2 257.7,22.4 260.0,21.7 C262.2,21.0 264.5,20.5 266.8,20.1 C269.1,19.7 271.5,19.4 273.8,19.2 C276.1,19.1 278.5,19.1 280.8,19.2 C283.2,19.4 285.5,19.6 287.8,20.0 C290.1,20.3 292.4,20.8 294.7,21.4 C297.0,21.9 299.3,22.6 301.5,23.3 C303.7,24.1 305.9,24.9 308.1,25.7 C310.3,26.6 312.4,27.5 314.6,28.5 C316.7,29.5 318.8,30.5 320.9,31.5 C323.0,32.6 325.1,33.7 327.2,34.8 C329.3,35.9 331.3,37.0 333.4,38.2 C335.4,39.4 337.4,40.5 339.4,41.8 C341.4,43.0 343.4,44.3 345.3,45.6 C347.2,47.0 349.1,48.4 351.0,49.8 C352.8,51.2 354.6,52.7 356.4,54.3 C358.2,55.8 359.9,57.4 361.6,59.0 C363.3,60.7 364.9,62.4 366.5,64.1 C368.1,65.8 369.7,67.5 371.3,69.3 C372.8,71.0 374.4,72.8 375.9,74.6 C377.4,76.4 378.9,78.2 380.3,80.1 C381.8,81.9 383.2,83.7 384.7,85.6 C386.1,87.5 387.5,89.3 388.9,91.2 C390.3,93.1 391.7,95.0 393.1,96.9 C394.5,98.8 395.8,100.7 397.2,102.6 C398.6,104.5 399.9,106.4 401.3,108.4 C402.6,110.3 403.9,112.2 405.3,114.1 C406.6,116.1 408.0,118.0 409.3,119.9 C410.6,121.9 411.9,123.8 413.3,125.7 C414.6,127.7 415.9,129.6 417.2,131.6 C418.6,133.5 419.9,135.4 421.2,137.4 C422.5,139.4 423.8,141.3 425.0,143.3 C426.3,145.3 427.6,147.2 428.8,149.2 C430.1,151.2 431.3,153.2 432.5,155.2 C433.7,157.2 434.9,159.3 436.1,161.3 C437.2,163.3 438.4,165.4 439.5,167.4 C440.7,169.5 441.8,171.6 442.9,173.6 C444.0,175.7 445.0,177.8 446.1,179.9 C447.2,182.0 448.3,184.0 449.4,186.1 C450.4,188.2 451.5,190.3 452.6,192.4 C453.7,194.5 454.7,196.6 455.8,198.6 C456.9,200.7 458.0,202.8 459.1,204.9 C460.2,207.0 461.3,209.0 462.4,211.1 C463.5,213.1 464.7,215.2 465.8,217.2 C467.0,219.3 468.2,221.3 469.4,223.3 C470.5,225.4 471.8,227.4 473.0,229.4 C474.2,231.4 475.4,233.4 476.7,235.4 C478.0,237.3 479.2,239.3 480.5,241.3 C481.8,243.2 483.1,245.2 484.5,247.1 C485.8,249.0 487.2,250.9 488.6,252.8 C489.9,254.7 491.3,256.6 492.8,258.5 C494.2,260.4 495.6,262.2 497.1,264.0 C498.6,265.9 500.1,267.7 501.6,269.4 C503.1,271.2 504.7,273.0 506.3,274.7 C507.9,276.4 509.5,278.2 511.1,279.8 C512.8,281.5 514.4,283.1 516.2,284.8 C517.9,286.4 519.6,287.9 521.4,289.5 C523.1,291.0 524.9,292.5 526.8,294.0 C528.6,295.5 530.5,296.9 532.4,298.3 C534.3,299.7 536.2,301.0 538.1,302.3 C540.1,303.6 542.1,304.9 544.1,306.1 C546.1,307.3 548.1,308.4 550.2,309.6 C552.3,310.7 554.3,311.8 556.4,312.8 C558.6,313.9 560.7,314.9 562.8,315.8 C565.0,316.8 567.1,317.7 569.3,318.6 C571.5,319.4 573.7,320.3 575.9,321.0 C578.1,321.8 580.3,322.6 582.6,323.3 C584.8,324.0 587.1,324.7 589.3,325.3 C591.6,325.9 593.9,326.5 596.1,327.0 C598.4,327.6 600.7,328.1 603.0,328.6 C605.3,329.1 607.6,329.5 609.9,329.9 C612.2,330.3 614.6,330.7 616.9,331.0 C619.2,331.4 621.5,331.7 623.9,332.0 C626.2,332.3 628.5,332.5 630.9,332.8 C633.2,333.0 635.5,333.2 637.9,333.4 C640.2,333.6 642.5,333.8 644.9,333.9 C647.2,334.1 649.6,334.2 651.9,334.3 C654.3,334.5 656.6,334.6 659.0,334.7 C661.3,334.8 663.6,334.9 666.0,335.0 C668.3,335.1 670.7,335.2 673.0,335.2 C675.4,335.3 677.7,335.4 680.1,335.5 C682.4,335.6 684.8,335.7 687.1,335.7 C689.4,335.8 691.8,335.9 694.1,336.0 C696.5,336.1 698.8,336.3 701.2,336.4 C703.5,336.5 707.0,336.7 708.2,336.8" stroke="#A5A5A5" clip-path="url(#p1)"/>
<path d="M68.2,242.8 C69.3,242.4 72.6,241.1 74.7,240.2 C76.8,239.2 78.9,238.1 81.0,236.9 C83.0,235.8 85.0,234.5 86.9,233.2 C88.9,231.9 90.8,230.5 92.7,229.1 C94.5,227.7 96.3,226.2 98.1,224.7 C99.9,223.2 101.6,221.6 103.3,220.0 C105.0,218.4 106.7,216.7 108.3,215.0 C110.0,213.3 111.6,211.6 113.2,209.9 C114.7,208.1 116.3,206.4 117.8,204.6 C119.3,202.8 120.8,201.0 122.3,199.1 C123.7,197.3 125.2,195.5 126.6,193.6 C128.0,191.7 129.4,189.8 130.7,187.9 C132.1,186.0 133.5,184.1 134.8,182.2 C136.1,180.2 137.4,178.3 138.8,176.4 C140.1,174.4 141.3,172.4 142.6,170.5 C143.9,168.5 145.2,166.5 146.4,164.6 C147.7,162.6 148.9,160.6 150.2,158.6 C151.4,156.6 152.7,154.6 153.9,152.6 C155.2,150.6 156.4,148.6 157.6,146.7 C158.8,144.7 160.1,142.7 161.3,140.7 C162.5,138.7 163.8,136.7 165.0,134.7 C166.2,132.7 167.4,130.7 168.7,128.7 C169.9,126.7 171.2,124.7 172.4,122.7 C173.6,120.7 174.9,118.7 176.2,116.7 C177.4,114.8 178.7,112.8 179.9,110.8 C181.2,108.9 182.5,106.9 183.8,104.9 C185.1,103.0 186.4,101.0 187.7,99.1 C189.0,97.1 190.3,95.2 191.7,93.3 C193.0,91.3 194.3,89.4 195.7,87.5 C197.1,85.6 198.4,83.7 199.8,81.8 C201.2,79.9 202.6,78.0 204.0,76.1 C205.4,74.3 206.9,72.4 208.3,70.6 C209.8,68.7 211.2,66.9 212.7,65.1 C214.2,63.3 215.7,61.5 217.2,59.7 C218.8,57.9 220.3,56.2 221.9,54.4 C223.5,52.7 225.1,51.0 226.7,49.3 C228.4,47.6 230.0,46.0 231.7,44.4 C233.4,42.7 235.2,41.2 236.9,39.6 C238.7,38.1 240.5,36.6 242.4,35.2 C244.2,33.7 246.1,32.3 248.1,31.0 C250.0,29.7 252.0,28.4 254.0,27.3 C256.1,26.2 258.2,25.1 260.3,24.1 C262.5,23.2 264.7,22.3 266.9,21.6 C269.1,21.0 271.4,20.4 273.7,20.0 C276.0,19.6 278.4,19.4 280.7,19.3 C283.1,19.2 285.4,19.3 287.8,19.4 C290.1,19.6 292.4,19.8 294.8,20.2 C297.1,20.5 299.4,20.9 301.7,21.3 C304.0,21.8 306.3,22.3 308.6,22.9 C310.8,23.5 313.1,24.1 315.3,24.8 C317.6,25.5 319.8,26.3 322.0,27.1 C324.2,27.9 326.4,28.8 328.5,29.7 C330.7,30.6 332.8,31.6 334.9,32.7 C337.0,33.7 339.1,34.8 341.1,36.0 C343.1,37.1 345.2,38.4 347.1,39.6 C349.1,40.9 351.0,42.3 352.9,43.6 C354.8,45.0 356.7,46.5 358.5,47.9 C360.3,49.4 362.1,51.0 363.8,52.5 C365.5,54.1 367.2,55.7 368.9,57.4 C370.6,59.0 372.2,60.7 373.8,62.4 C375.5,64.1 377.0,65.8 378.6,67.6 C380.2,69.3 381.7,71.1 383.2,72.9 C384.7,74.7 386.2,76.5 387.7,78.3 C389.2,80.1 390.6,82.0 392.1,83.8 C393.5,85.7 394.9,87.6 396.3,89.4 C397.7,91.3 399.1,93.2 400.5,95.1 C401.9,97.0 403.2,98.9 404.6,100.8 C405.9,102.7 407.3,104.7 408.6,106.6 C409.9,108.5 411.3,110.5 412.6,112.4 C413.9,114.4 415.2,116.3 416.5,118.3 C417.8,120.2 419.1,122.2 420.3,124.2 C421.6,126.1 422.9,128.1 424.1,130.1 C425.4,132.0 426.7,134.0 427.9,136.0 C429.2,138.0 430.4,140.0 431.7,142.0 C432.9,144.0 434.1,145.9 435.4,147.9 C436.6,149.9 437.9,151.9 439.1,153.9 C440.3,155.9 441.5,157.9 442.7,160.0 C443.9,162.0 445.0,164.0 446.2,166.1 C447.3,168.1 448.4,170.2 449.5,172.3 C450.6,174.4 451.6,176.5 452.6,178.6 C453.7,180.7 454.7,182.8 455.7,184.9 C456.7,187.0 457.7,189.1 458.8,191.3 C459.8,193.4 460.8,195.5 461.8,197.6 C462.9,199.7 463.9,201.8 465.0,203.9 C466.1,206.0 467.2,208.0 468.3,210.1 C469.4,212.1 470.6,214.2 471.8,216.2 C473.0,218.2 474.2,220.2 475.5,222.2 C476.7,224.2 478.0,226.1 479.3,228.1 C480.6,230.0 482.0,232.0 483.3,233.9 C484.7,235.8 486.0,237.7 487.4,239.6 C488.7,241.5 490.1,243.4 491.5,245.3 C492.8,247.2 494.2,249.1 495.6,251.0 C497.0,252.9 498.4,254.8 499.7,256.7 C501.1,258.6 502.5,260.5 504.0,262.4 C505.4,264.2 506.8,266.1 508.2,268.0 C509.6,269.8 511.1,271.7 512.5,273.5 C514.0,275.3 515.5,277.2 517.0,279.0 C518.5,280.8 520.0,282.6 521.5,284.4 C523.0,286.2 524.6,287.9 526.1,289.7 C527.7,291.4 529.3,293.1 530.9,294.8 C532.6,296.5 534.2,298.2 535.9,299.8 C537.6,301.4 539.3,303.0 541.0,304.6 C542.8,306.2 544.6,307.7 546.4,309.2 C548.2,310.6 550.1,312.1 552.0,313.5 C553.9,314.9 555.8,316.2 557.7,317.5 C559.7,318.8 561.7,320.0 563.7,321.2 C565.7,322.4 567.8,323.5 569.9,324.6 C572.0,325.7 574.1,326.7 576.2,327.7 C578.3,328.6 580.5,329.5 582.7,330.3 C584.9,331.2 587.1,332.0 589.4,332.7 C591.6,333.4 593.8,334.0 596.1,334.6 C598.4,335.2 600.7,335.8 603.0,336.2 C605.3,336.7 607.6,337.1 609.9,337.5 C612.2,337.9 614.5,338.2 616.8,338.5 C619.2,338.8 621.5,339.0 623.8,339.2 C626.2,339.4 628.5,339.6 630.9,339.7 C633.2,339.8 635.5,339.9 637.9,340.0 C640.2,340.1 642.6,340.1 644.9,340.2 C647.3,340.2 649.6,340.2 652.0,340.2 C654.3,340.2 656.7,340.2 659.0,340.2 C661.3,340.2 663.7,340.1 666.0,340.1 C668.4,340.1 670.7,340.1 673.1,340.1 C675.4,340.1 677.8,340.1 680.1,340.2 C682.5,340.2 684.8,340.2 687.1,340.3 C689.5,340.4 691.8,340.5 694.2,340.6 C696.5,340.7 698.9,340.9 701.2,341.1 C703.5,341.3 707.0,341.7 708.2,341.8" stroke="#70AD47" clip-path="url(#p1)"/>
<path d="M67.4,242.6 C68.5,242.2 71.9,241.1 74.0,240.2 C76.2,239.2 78.3,238.2 80.3,237.0 C82.4,235.9 84.4,234.7 86.3,233.3 C88.3,232.0 90.2,230.6 92.0,229.2 C93.9,227.8 95.7,226.3 97.4,224.7 C99.2,223.2 100.9,221.6 102.6,219.9 C104.3,218.3 106.0,216.6 107.6,214.9 C109.2,213.2 110.8,211.5 112.3,209.7 C113.9,208.0 115.4,206.2 116.9,204.4 C118.4,202.6 119.9,200.8 121.4,198.9 C122.8,197.1 124.3,195.2 125.7,193.3 C127.1,191.5 128.5,189.6 129.9,187.7 C131.3,185.8 132.6,183.9 134.0,181.9 C135.3,180.0 136.6,178.1 137.9,176.1 C139.3,174.2 140.6,172.2 141.9,170.3 C143.2,168.3 144.4,166.3 145.7,164.4 C147.0,162.4 148.3,160.4 149.5,158.5 C150.8,156.5 152.0,154.5 153.3,152.5 C154.6,150.5 155.8,148.5 157.0,146.5 C158.3,144.5 159.5,142.5 160.8,140.6 C162.0,138.6 163.3,136.6 164.5,134.6 C165.7,132.6 167.0,130.6 168.2,128.6 C169.5,126.6 170.7,124.6 171.9,122.6 C173.2,120.6 174.4,118.6 175.7,116.6 C176.9,114.7 178.2,112.7 179.5,110.7 C180.7,108.7 182.0,106.7 183.3,104.8 C184.6,102.8 185.9,100.8 187.2,98.9 C188.5,96.9 189.8,95.0 191.1,93.0 C192.4,91.1 193.7,89.2 195.1,87.2 C196.4,85.3 197.8,83.4 199.2,81.5 C200.5,79.6 201.9,77.7 203.3,75.8 C204.7,73.9 206.1,72.0 207.6,70.2 C209.0,68.3 210.5,66.5 212.0,64.7 C213.4,62.9 214.9,61.0 216.5,59.3 C218.0,57.5 219.5,55.7 221.1,54.0 C222.7,52.2 224.3,50.5 226.0,48.9 C227.6,47.2 229.3,45.5 231.0,43.9 C232.7,42.3 234.5,40.7 236.3,39.2 C238.1,37.7 239.9,36.3 241.8,34.9 C243.7,33.5 245.6,32.1 247.6,30.9 C249.6,29.7 251.6,28.5 253.7,27.4 C255.8,26.3 257.9,25.3 260.1,24.5 C262.3,23.6 264.5,22.8 266.7,22.1 C269.0,21.4 271.3,20.9 273.6,20.4 C275.9,20.0 278.2,19.7 280.6,19.4 C282.9,19.2 285.2,19.1 287.6,19.1 C289.9,19.1 292.3,19.2 294.6,19.4 C297.0,19.6 299.3,19.9 301.6,20.3 C303.9,20.6 306.2,21.1 308.5,21.6 C310.8,22.2 313.1,22.8 315.3,23.4 C317.6,24.1 319.8,24.8 322.0,25.6 C324.3,26.4 326.5,27.2 328.6,28.1 C330.8,29.0 333.0,29.9 335.1,30.9 C337.2,31.9 339.3,33.0 341.3,34.2 C343.4,35.3 345.4,36.5 347.4,37.7 C349.4,39.0 351.3,40.3 353.2,41.7 C355.1,43.1 357.0,44.5 358.8,46.0 C360.6,47.5 362.4,49.0 364.2,50.6 C365.9,52.1 367.6,53.8 369.3,55.4 C370.9,57.1 372.5,58.8 374.1,60.5 C375.7,62.2 377.3,64.0 378.8,65.8 C380.4,67.6 381.9,69.4 383.4,71.2 C384.8,73.0 386.3,74.8 387.8,76.6 C389.3,78.5 390.7,80.3 392.2,82.2 C393.6,84.0 395.1,85.8 396.6,87.7 C398.0,89.5 399.5,91.4 400.9,93.2 C402.4,95.1 403.8,96.9 405.3,98.8 C406.7,100.6 408.1,102.5 409.6,104.4 C411.0,106.2 412.4,108.1 413.8,110.0 C415.2,111.9 416.6,113.7 418.0,115.6 C419.4,117.5 420.7,119.4 422.1,121.4 C423.5,123.3 424.8,125.2 426.1,127.1 C427.5,129.1 428.8,131.0 430.1,133.0 C431.4,134.9 432.7,136.9 433.9,138.9 C435.2,140.8 436.5,142.8 437.7,144.8 C438.9,146.8 440.2,148.8 441.4,150.8 C442.6,152.9 443.7,154.9 444.9,156.9 C446.1,159.0 447.2,161.0 448.4,163.1 C449.5,165.1 450.7,167.2 451.8,169.2 C452.9,171.3 454.0,173.3 455.2,175.4 C456.3,177.5 457.4,179.6 458.5,181.6 C459.6,183.7 460.7,185.8 461.8,187.8 C462.9,189.9 464.1,192.0 465.2,194.0 C466.3,196.1 467.4,198.2 468.5,200.2 C469.7,202.3 470.8,204.3 471.9,206.4 C473.1,208.4 474.2,210.5 475.4,212.5 C476.5,214.6 477.7,216.6 478.8,218.7 C480.0,220.7 481.2,222.8 482.3,224.8 C483.5,226.8 484.7,228.8 485.9,230.9 C487.1,232.9 488.3,234.9 489.5,236.9 C490.7,238.9 492.0,240.9 493.2,242.9 C494.5,244.9 495.7,246.9 497.0,248.9 C498.2,250.8 499.5,252.8 500.8,254.8 C502.1,256.7 503.4,258.7 504.8,260.6 C506.1,262.5 507.4,264.5 508.8,266.4 C510.2,268.3 511.6,270.2 513.0,272.0 C514.4,273.9 515.8,275.8 517.3,277.6 C518.8,279.4 520.3,281.3 521.8,283.1 C523.3,284.8 524.9,286.6 526.4,288.4 C528.0,290.1 529.6,291.8 531.2,293.5 C532.9,295.2 534.5,296.9 536.2,298.5 C537.9,300.1 539.6,301.7 541.4,303.3 C543.1,304.8 544.9,306.4 546.7,307.8 C548.6,309.3 550.4,310.8 552.3,312.2 C554.2,313.6 556.1,315.0 558.0,316.3 C560.0,317.6 562.0,318.9 564.0,320.1 C566.0,321.3 568.0,322.5 570.1,323.6 C572.1,324.7 574.2,325.7 576.4,326.7 C578.5,327.7 580.6,328.7 582.8,329.6 C585.0,330.5 587.2,331.3 589.4,332.1 C591.6,332.9 593.9,333.6 596.1,334.2 C598.4,334.9 600.6,335.5 602.9,336.1 C605.2,336.6 607.5,337.1 609.8,337.6 C612.1,338.0 614.4,338.4 616.7,338.8 C619.1,339.1 621.4,339.4 623.7,339.7 C626.1,340.0 628.4,340.2 630.7,340.4 C633.1,340.5 635.4,340.7 637.8,340.8 C640.1,340.9 642.5,341.0 644.8,341.1 C647.2,341.2 649.5,341.2 651.8,341.2 C654.2,341.3 656.5,341.3 658.9,341.3 C661.2,341.3 663.6,341.2 665.9,341.2 C668.3,341.2 670.6,341.2 673.0,341.1 C675.3,341.1 677.7,341.1 680.0,341.1 C682.4,341.0 684.7,341.0 687.1,341.0 C689.4,341.0 691.8,341.0 694.1,341.1 C696.5,341.1 698.8,341.2 701.2,341.2 C703.5,341.3 707.0,341.5 708.2,341.5" stroke="#264478" clip-path="url(#p1)"/>
<path d="M67.4,218.3 C68.6,218.1 72.0,217.6 74.3,217.0 C76.6,216.4 78.8,215.6 81.0,214.7 C83.2,213.9 85.3,212.8 87.4,211.8 C89.4,210.7 91.4,209.5 93.4,208.2 C95.4,206.9 97.3,205.6 99.2,204.2 C101.1,202.8 102.9,201.3 104.8,199.8 C106.6,198.3 108.3,196.8 110.1,195.2 C111.8,193.6 113.5,192.0 115.2,190.3 C116.8,188.7 118.5,187.0 120.1,185.3 C121.7,183.6 123.3,181.9 124.9,180.1 C126.4,178.4 128.0,176.6 129.5,174.8 C131.0,173.0 132.5,171.2 134.0,169.4 C135.5,167.6 136.9,165.7 138.4,163.9 C139.8,162.1 141.3,160.2 142.7,158.3 C144.1,156.5 145.5,154.6 146.9,152.7 C148.3,150.8 149.7,148.9 151.1,147.0 C152.5,145.1 153.9,143.2 155.3,141.3 C156.6,139.4 158.0,137.5 159.3,135.6 C160.7,133.7 162.1,131.8 163.4,129.8 C164.8,127.9 166.1,126.0 167.5,124.1 C168.8,122.2 170.2,120.2 171.5,118.3 C172.9,116.4 174.2,114.5 175.6,112.6 C176.9,110.6 178.3,108.7 179.6,106.8 C181.0,104.9 182.4,103.0 183.7,101.1 C185.1,99.2 186.5,97.3 187.9,95.4 C189.3,93.5 190.7,91.6 192.1,89.7 C193.5,87.8 194.9,86.0 196.3,84.1 C197.7,82.2 199.2,80.4 200.6,78.5 C202.1,76.7 203.6,74.9 205.1,73.0 C206.6,71.2 208.1,69.4 209.6,67.7 C211.1,65.9 212.7,64.1 214.3,62.4 C215.8,60.6 217.5,58.9 219.1,57.2 C220.7,55.6 222.4,53.9 224.1,52.3 C225.8,50.6 227.5,49.0 229.2,47.5 C231.0,45.9 232.7,44.4 234.6,42.9 C236.4,41.4 238.2,39.9 240.1,38.5 C242.0,37.1 243.9,35.8 245.9,34.5 C247.9,33.2 249.9,32.0 251.9,30.9 C254.0,29.7 256.1,28.6 258.2,27.6 C260.3,26.7 262.5,25.8 264.7,25.0 C266.9,24.2 269.2,23.5 271.4,22.9 C273.7,22.4 276.0,21.9 278.4,21.6 C280.7,21.3 283.0,21.1 285.4,21.0 C287.7,20.9 290.1,21.0 292.4,21.1 C294.8,21.3 297.1,21.5 299.4,21.9 C301.7,22.2 304.1,22.6 306.4,23.0 C308.7,23.5 311.0,24.0 313.2,24.6 C315.5,25.1 317.8,25.8 320.0,26.4 C322.3,27.0 324.6,27.7 326.8,28.3 C329.1,29.0 331.3,29.7 333.5,30.4 C335.8,31.2 338.0,32.0 340.2,32.8 C342.3,33.7 344.5,34.6 346.6,35.6 C348.8,36.6 350.8,37.7 352.9,38.9 C354.9,40.0 356.9,41.3 358.8,42.6 C360.7,44.0 362.6,45.4 364.4,46.9 C366.2,48.4 368.0,50.0 369.7,51.6 C371.4,53.2 373.0,54.9 374.7,56.6 C376.3,58.3 377.9,60.0 379.4,61.8 C381.0,63.5 382.5,65.3 384.0,67.1 C385.5,68.9 387.0,70.7 388.5,72.6 C389.9,74.4 391.4,76.3 392.8,78.1 C394.2,80.0 395.7,81.8 397.1,83.7 C398.5,85.6 399.9,87.5 401.3,89.4 C402.7,91.3 404.0,93.2 405.4,95.1 C406.8,97.0 408.2,98.9 409.6,100.8 C410.9,102.7 412.3,104.6 413.7,106.5 C415.1,108.4 416.4,110.3 417.8,112.2 C419.2,114.1 420.6,116.0 422.0,117.9 C423.4,119.8 424.8,121.6 426.2,123.5 C427.6,125.4 429.0,127.3 430.3,129.2 C431.7,131.1 433.1,133.0 434.4,134.9 C435.8,136.9 437.1,138.8 438.5,140.7 C439.8,142.7 441.1,144.6 442.4,146.6 C443.6,148.6 444.9,150.5 446.1,152.5 C447.4,154.5 448.6,156.6 449.7,158.6 C450.9,160.6 452.1,162.7 453.2,164.7 C454.3,166.8 455.4,168.8 456.6,170.9 C457.7,173.0 458.7,175.1 459.8,177.2 C460.9,179.2 462.0,181.3 463.1,183.4 C464.2,185.5 465.3,187.6 466.3,189.6 C467.4,191.7 468.5,193.8 469.6,195.9 C470.7,197.9 471.9,200.0 473.0,202.1 C474.1,204.1 475.3,206.2 476.4,208.2 C477.6,210.2 478.8,212.3 480.0,214.3 C481.2,216.3 482.4,218.3 483.7,220.3 C484.9,222.3 486.2,224.3 487.5,226.2 C488.7,228.2 490.1,230.1 491.4,232.1 C492.7,234.0 494.1,235.9 495.5,237.8 C496.9,239.7 498.3,241.6 499.8,243.4 C501.2,245.3 502.7,247.1 504.2,248.9 C505.7,250.7 507.2,252.5 508.7,254.3 C510.2,256.1 511.8,257.8 513.4,259.6 C514.9,261.3 516.5,263.1 518.1,264.8 C519.7,266.5 521.4,268.2 523.0,269.9 C524.6,271.6 526.3,273.2 527.9,274.9 C529.6,276.6 531.2,278.3 532.9,279.9 C534.5,281.6 536.2,283.2 537.9,284.8 C539.6,286.5 541.3,288.1 543.0,289.7 C544.7,291.3 546.4,292.9 548.2,294.5 C549.9,296.0 551.7,297.6 553.5,299.1 C555.3,300.6 557.1,302.1 558.9,303.6 C560.8,305.0 562.6,306.5 564.6,307.8 C566.5,309.2 568.4,310.5 570.4,311.8 C572.3,313.1 574.4,314.3 576.4,315.4 C578.5,316.5 580.6,317.6 582.7,318.5 C584.9,319.5 587.1,320.4 589.3,321.1 C591.5,321.9 593.7,322.6 596.0,323.2 C598.3,323.8 600.6,324.3 602.9,324.7 C605.2,325.2 607.5,325.5 609.8,325.8 C612.2,326.1 614.5,326.4 616.8,326.6 C619.2,326.8 621.5,327.0 623.9,327.1 C626.2,327.3 628.6,327.4 630.9,327.6 C633.2,327.7 635.6,327.8 637.9,328.0 C640.3,328.1 642.6,328.3 645.0,328.5 C647.3,328.7 649.6,328.9 652.0,329.1 C654.3,329.3 656.6,329.5 659.0,329.7 C661.3,330.0 663.7,330.2 666.0,330.4 C668.3,330.6 670.7,330.8 673.0,330.9 C675.4,331.1 677.7,331.3 680.1,331.4 C682.4,331.5 684.7,331.6 687.1,331.7 C689.4,331.7 691.8,331.8 694.1,331.7 C696.5,331.7 698.8,331.7 701.2,331.5 C703.5,331.4 707.0,331.1 708.2,331.0" stroke="#9E480E" clip-path="url(#p1)"/>
<path d="M203.8,14.0 C204.9,14.2 208.4,15.0 210.7,15.4 C213.0,15.9 215.3,16.3 217.6,16.6 C220.0,17.0 222.3,17.3 224.6,17.6 C227.0,17.9 229.3,18.2 231.6,18.5 C234.0,18.8 236.3,19.0 238.6,19.3 C241.0,19.5 243.3,19.8 245.6,20.1 C248.0,20.3 250.3,20.6 252.6,20.9 C255.0,21.2 257.3,21.5 259.6,21.8 C261.9,22.2 264.3,22.5 266.6,23.0 C268.9,23.4 271.2,23.8 273.5,24.3 C275.8,24.8 278.1,25.3 280.4,25.9 C282.6,26.5 284.9,27.2 287.1,27.9 C289.4,28.6 291.6,29.4 293.8,30.2 C296.0,31.1 298.1,32.0 300.3,32.9 C302.4,33.9 304.5,34.9 306.6,36.0 C308.7,37.1 310.7,38.3 312.8,39.5 C314.8,40.7 316.8,42.0 318.7,43.3 C320.7,44.6 322.6,45.9 324.5,47.3 C326.4,48.7 328.3,50.1 330.1,51.6 C332.0,53.0 333.8,54.5 335.6,56.0 C337.4,57.5 339.2,59.0 341.0,60.6 C342.7,62.1 344.5,63.7 346.2,65.3 C347.9,66.9 349.6,68.5 351.4,70.1 C353.1,71.7 354.7,73.4 356.4,75.0 C358.1,76.7 359.8,78.3 361.4,80.0 C363.0,81.7 364.6,83.4 366.2,85.1 C367.8,86.9 369.4,88.6 370.9,90.4 C372.4,92.2 373.9,94.0 375.4,95.9 C376.8,97.7 378.2,99.6 379.6,101.5 C381.0,103.4 382.4,105.3 383.7,107.3 C385.0,109.2 386.2,111.2 387.5,113.2 C388.7,115.2 389.9,117.2 391.1,119.2 C392.3,121.3 393.4,123.3 394.5,125.4 C395.6,127.5 396.7,129.6 397.8,131.7 C398.8,133.8 399.8,135.9 400.9,138.0 C401.9,140.1 402.8,142.3 403.8,144.4 C404.8,146.5 405.7,148.7 406.6,150.9 C407.5,153.0 408.4,155.2 409.3,157.4 C410.2,159.5 411.1,161.7 412.0,163.9 C412.9,166.1 413.8,168.2 414.7,170.4 C415.6,172.6 416.5,174.7 417.4,176.9 C418.3,179.1 419.3,181.2 420.2,183.4 C421.2,185.5 422.1,187.7 423.1,189.8 C424.1,192.0 425.1,194.1 426.1,196.2 C427.1,198.3 428.1,200.4 429.1,202.5 C430.2,204.7 431.3,206.7 432.4,208.8 C433.5,210.9 434.6,213.0 435.7,215.0 C436.9,217.1 438.0,219.1 439.2,221.1 C440.4,223.1 441.7,225.2 442.9,227.1 C444.2,229.1 445.5,231.1 446.8,233.1 C448.0,235.0 449.4,237.0 450.7,238.9 C452.0,240.8 453.4,242.7 454.8,244.7 C456.1,246.6 457.5,248.5 458.9,250.4 C460.3,252.3 461.7,254.2 463.1,256.1 C464.4,258.0 465.8,259.9 467.2,261.8 C468.6,263.7 470.0,265.6 471.4,267.5 C472.8,269.4 474.1,271.3 475.5,273.1 C476.9,275.0 478.3,276.9 479.8,278.8 C481.2,280.6 482.7,282.5 484.1,284.3 C485.6,286.1 487.1,287.9 488.7,289.7 C490.2,291.5 491.8,293.2 493.5,294.9 C495.1,296.6 496.8,298.2 498.5,299.8 C500.2,301.4 502.0,303.0 503.8,304.5 C505.6,306.0 507.4,307.4 509.3,308.8 C511.2,310.2 513.1,311.6 515.1,312.8 C517.1,314.1 519.1,315.3 521.2,316.5 C523.2,317.6 525.3,318.7 527.4,319.7 C529.5,320.7 531.7,321.7 533.9,322.6 C536.0,323.5 538.2,324.3 540.5,325.0 C542.7,325.8 544.9,326.5 547.2,327.2 C549.4,327.9 551.7,328.5 554.0,329.0 C556.3,329.6 558.5,330.2 560.8,330.7 C563.1,331.2 565.4,331.7 567.7,332.1 C570.0,332.6 572.3,333.1 574.7,333.5 C577.0,333.9 579.3,334.3 581.6,334.6 C583.9,335.0 586.3,335.4 588.6,335.7 C590.9,336.0 593.2,336.3 595.6,336.6 C597.9,336.9 600.2,337.2 602.6,337.4 C604.9,337.7 607.2,337.9 609.6,338.1 C611.9,338.3 614.3,338.5 616.6,338.7 C619.0,338.9 621.3,339.0 623.6,339.2 C626.0,339.4 628.3,339.5 630.7,339.6 C633.0,339.7 635.4,339.9 637.7,340.0 C640.1,340.1 642.4,340.2 644.8,340.3 C647.1,340.3 649.5,340.4 651.8,340.5 C654.2,340.6 656.5,340.6 658.9,340.7 C661.2,340.7 663.6,340.8 665.9,340.9 C668.3,340.9 670.6,340.9 673.0,341.0 C675.3,341.0 677.7,341.1 680.0,341.1 C682.4,341.2 684.7,341.2 687.1,341.2 C689.4,341.3 691.8,341.3 694.1,341.4 C696.5,341.4 698.8,341.5 701.2,341.5 C703.5,341.6 707.0,341.7 708.2,341.7" stroke="#636363" clip-path="url(#p1)"/>
<path d="M67.4,182.4 C68.6,182.6 72.0,183.3 74.4,183.3 C76.7,183.4 79.1,183.3 81.4,182.9 C83.7,182.6 86.0,182.0 88.3,181.3 C90.5,180.6 92.7,179.7 94.8,178.7 C96.9,177.7 99.0,176.6 101.0,175.3 C103.0,174.1 105.0,172.8 106.9,171.5 C108.8,170.1 110.7,168.7 112.5,167.2 C114.3,165.7 116.1,164.1 117.8,162.6 C119.6,161.0 121.3,159.4 123.0,157.7 C124.7,156.1 126.3,154.4 127.9,152.7 C129.5,151.0 131.1,149.3 132.7,147.5 C134.3,145.8 135.8,144.0 137.4,142.2 C138.9,140.4 140.4,138.6 141.9,136.8 C143.4,135.0 144.9,133.2 146.4,131.4 C147.8,129.5 149.3,127.7 150.7,125.8 C152.2,124.0 153.6,122.1 155.0,120.3 C156.5,118.4 157.9,116.5 159.3,114.6 C160.7,112.8 162.1,110.9 163.5,109.0 C164.9,107.1 166.3,105.2 167.7,103.3 C169.2,101.5 170.6,99.6 172.0,97.7 C173.4,95.8 174.8,93.9 176.2,92.1 C177.7,90.2 179.1,88.4 180.6,86.5 C182.0,84.7 183.5,82.8 185.0,81.0 C186.4,79.2 187.9,77.4 189.5,75.6 C191.0,73.8 192.5,72.0 194.1,70.2 C195.6,68.4 197.2,66.7 198.8,65.0 C200.3,63.2 201.9,61.5 203.6,59.8 C205.2,58.1 206.8,56.4 208.4,54.7 C210.1,53.0 211.7,51.3 213.4,49.7 C215.1,48.0 216.7,46.4 218.4,44.7 C220.1,43.1 221.8,41.4 223.5,39.8 C225.2,38.2 226.9,36.6 228.7,35.1 C230.5,33.6 232.3,32.0 234.2,30.6 C236.0,29.2 237.9,27.8 239.9,26.6 C241.9,25.4 244.0,24.2 246.2,23.3 C248.3,22.4 250.6,21.7 252.9,21.3 C255.2,20.8 257.6,20.6 259.9,20.5 C262.3,20.3 264.6,20.4 267.0,20.5 C269.3,20.6 271.7,20.8 274.0,21.1 C276.3,21.3 278.7,21.5 281.0,21.8 C283.3,22.1 285.7,22.5 288.0,22.9 C290.3,23.3 292.6,23.7 294.9,24.2 C297.2,24.7 299.5,25.2 301.8,25.8 C304.0,26.5 306.3,27.1 308.5,27.8 C310.8,28.5 313.0,29.3 315.2,30.1 C317.4,31.0 319.6,31.9 321.7,32.8 C323.9,33.8 326.0,34.7 328.1,35.8 C330.2,36.9 332.3,38.0 334.2,39.3 C336.2,40.6 338.1,42.0 339.8,43.6 C341.6,45.1 343.3,46.8 344.8,48.5 C346.4,50.3 347.8,52.2 349.2,54.0 C350.6,55.9 352.0,57.9 353.3,59.8 C354.6,61.8 355.9,63.7 357.2,65.7 C358.5,67.7 359.8,69.6 361.0,71.6 C362.3,73.6 363.6,75.5 364.9,77.5 C366.2,79.5 367.5,81.4 368.8,83.4 C370.0,85.4 371.3,87.3 372.6,89.3 C373.8,91.3 375.1,93.3 376.4,95.3 C377.6,97.3 378.9,99.3 380.1,101.3 C381.3,103.3 382.5,105.3 383.8,107.3 C385.0,109.3 386.2,111.3 387.4,113.3 C388.6,115.4 389.7,117.4 390.9,119.4 C392.1,121.5 393.2,123.5 394.3,125.6 C395.5,127.7 396.6,129.7 397.7,131.8 C398.7,133.9 399.8,136.0 400.8,138.1 C401.9,140.2 402.9,142.3 403.9,144.5 C404.9,146.6 405.8,148.8 406.8,150.9 C407.7,153.1 408.6,155.2 409.6,157.4 C410.5,159.6 411.4,161.7 412.2,163.9 C413.1,166.1 414.0,168.3 414.9,170.5 C415.8,172.6 416.6,174.8 417.5,177.0 C418.4,179.2 419.3,181.4 420.2,183.5 C421.1,185.7 422.0,187.9 422.9,190.0 C423.8,192.2 424.7,194.4 425.7,196.5 C426.6,198.7 427.6,200.8 428.6,202.9 C429.7,205.0 430.7,207.1 431.8,209.2 C432.9,211.3 434.1,213.3 435.3,215.3 C436.6,217.3 437.9,219.3 439.2,221.2 C440.5,223.2 441.9,225.0 443.3,226.9 C444.7,228.8 446.1,230.7 447.5,232.6 C448.8,234.6 450.2,236.5 451.5,238.4 C452.9,240.3 454.2,242.3 455.5,244.3 C456.8,246.2 458.1,248.2 459.4,250.1 C460.7,252.1 462.0,254.1 463.3,256.0 C464.5,258.0 465.8,259.9 467.1,261.9 C468.4,263.9 469.8,265.8 471.1,267.8 C472.4,269.7 473.7,271.6 475.1,273.6 C476.5,275.5 477.8,277.4 479.2,279.3 C480.7,281.1 482.1,283.0 483.6,284.8 C485.0,286.6 486.6,288.4 488.1,290.2 C489.7,291.9 491.4,293.6 493.0,295.3 C494.7,296.9 496.5,298.5 498.3,300.0 C500.1,301.5 501.9,303.0 503.8,304.4 C505.7,305.8 507.6,307.1 509.6,308.4 C511.5,309.8 513.5,311.0 515.5,312.2 C517.5,313.5 519.5,314.6 521.6,315.8 C523.6,316.9 525.7,318.0 527.8,319.1 C529.9,320.1 532.1,321.1 534.2,322.1 C536.3,323.1 538.5,324.0 540.7,324.8 C542.9,325.7 545.1,326.5 547.3,327.3 C549.5,328.1 551.8,328.8 554.0,329.5 C556.3,330.2 558.5,330.8 560.8,331.4 C563.1,332.0 565.4,332.5 567.7,333.0 C570.0,333.5 572.3,334.0 574.6,334.4 C576.9,334.8 579.2,335.2 581.5,335.5 C583.9,335.9 586.2,336.2 588.5,336.5 C590.9,336.7 593.2,337.0 595.5,337.2 C597.9,337.4 600.2,337.6 602.6,337.7 C604.9,337.9 607.3,338.0 609.6,338.1 C612.0,338.3 614.3,338.3 616.7,338.4 C619.0,338.5 621.4,338.5 623.7,338.6 C626.1,338.6 628.4,338.6 630.8,338.7 C633.1,338.7 635.5,338.7 637.8,338.7 C640.2,338.7 642.5,338.7 644.9,338.7 C647.2,338.7 649.6,338.7 651.9,338.7 C654.3,338.8 656.6,338.8 659.0,338.8 C661.3,338.8 663.7,338.8 666.0,338.9 C668.4,338.9 670.7,339.0 673.1,339.0 C675.4,339.1 677.8,339.2 680.1,339.3 C682.5,339.4 684.8,339.5 687.2,339.7 C689.5,339.9 691.9,340.0 694.2,340.3 C696.5,340.5 698.9,340.7 701.2,341.0 C703.5,341.2 707.0,341.7 708.2,341.9" stroke="#255E91" clip-path="url(#p1)"/>
<path d="M67.4,70.5 C68.2,71.4 70.8,73.8 72.4,75.5 C74.1,77.1 75.7,78.8 77.3,80.5 C78.9,82.2 80.5,83.9 82.2,85.6 C83.8,87.3 85.4,89.0 87.0,90.7 C88.7,92.4 90.3,94.1 92.0,95.7 C93.6,97.3 95.3,99.0 97.1,100.5 C98.8,102.1 100.6,103.6 102.5,105.0 C104.4,106.5 106.3,107.8 108.3,109.0 C110.3,110.2 112.4,111.3 114.6,112.1 C116.8,112.8 119.2,113.4 121.5,113.5 C123.8,113.5 126.2,113.2 128.4,112.6 C130.7,111.9 132.8,110.9 134.9,109.8 C136.9,108.6 138.8,107.3 140.7,105.9 C142.6,104.5 144.4,103.0 146.2,101.4 C147.9,99.9 149.6,98.3 151.3,96.6 C153.0,95.0 154.7,93.3 156.3,91.7 C157.9,90.0 159.6,88.3 161.2,86.6 C162.8,84.9 164.5,83.2 166.1,81.6 C167.7,79.9 169.4,78.2 171.0,76.5 C172.7,74.9 174.3,73.2 176.0,71.5 C177.6,69.9 179.3,68.2 180.9,66.5 C182.6,64.9 184.2,63.2 185.9,61.6 C187.6,59.9 189.3,58.3 190.9,56.6 C192.6,55.0 194.3,53.4 196.0,51.7 C197.7,50.1 199.4,48.5 201.1,46.9 C202.8,45.3 204.5,43.7 206.2,42.1 C208.0,40.5 209.7,38.9 211.5,37.4 C213.3,35.9 215.1,34.4 216.9,33.0 C218.8,31.6 220.7,30.2 222.7,28.9 C224.7,27.7 226.7,26.5 228.8,25.5 C230.9,24.4 233.1,23.5 235.3,22.7 C237.5,22.0 239.8,21.3 242.1,21.0 C244.4,20.6 246.8,20.5 249.1,20.5 C251.4,20.5 253.8,20.9 256.1,21.2 C258.4,21.6 260.7,22.2 262.9,22.8 C265.2,23.4 267.4,24.2 269.7,24.9 C271.9,25.7 274.1,26.5 276.3,27.3 C278.5,28.2 280.6,29.1 282.8,30.0 C284.9,30.9 287.1,31.9 289.2,32.9 C291.3,33.8 293.5,34.9 295.6,35.9 C297.7,36.9 299.8,37.9 301.9,39.0 C304.0,40.1 306.1,41.1 308.1,42.3 C310.1,43.4 312.2,44.6 314.2,45.9 C316.1,47.1 318.1,48.4 319.9,49.8 C321.8,51.2 323.7,52.7 325.4,54.3 C327.2,55.8 328.9,57.5 330.5,59.1 C332.1,60.8 333.7,62.6 335.2,64.4 C336.7,66.1 338.2,68.0 339.6,69.8 C341.0,71.7 342.4,73.6 343.8,75.5 C345.1,77.4 346.4,79.4 347.7,81.3 C349.0,83.3 350.3,85.3 351.5,87.3 C352.8,89.2 354.0,91.3 355.2,93.3 C356.4,95.3 357.5,97.3 358.7,99.4 C359.9,101.4 361.0,103.4 362.2,105.5 C363.3,107.5 364.4,109.6 365.5,111.7 C366.6,113.7 367.7,115.8 368.8,117.9 C369.9,119.9 371.0,122.0 372.1,124.1 C373.2,126.2 374.3,128.3 375.3,130.4 C376.4,132.4 377.5,134.5 378.6,136.6 C379.6,138.7 380.7,140.8 381.7,142.9 C382.8,145.0 383.9,147.1 384.9,149.2 C385.9,151.3 387.0,153.4 388.0,155.5 C389.1,157.6 390.1,159.7 391.1,161.8 C392.2,163.9 393.2,166.0 394.2,168.1 C395.2,170.2 396.2,172.3 397.2,174.5 C398.2,176.6 399.3,178.7 400.3,180.8 C401.3,182.9 402.3,185.1 403.2,187.2 C404.2,189.3 405.2,191.4 406.2,193.6 C407.2,195.7 408.2,197.8 409.2,199.9 C410.2,202.1 411.2,204.2 412.2,206.3 C413.2,208.4 414.2,210.5 415.2,212.7 C416.2,214.8 417.2,216.9 418.3,219.0 C419.3,221.1 420.3,223.2 421.3,225.3 C422.4,227.4 423.4,229.5 424.5,231.6 C425.5,233.7 426.6,235.8 427.6,237.9 C428.7,240.0 429.8,242.1 430.9,244.2 C432.0,246.2 433.1,248.3 434.2,250.4 C435.3,252.4 436.4,254.5 437.6,256.5 C438.7,258.6 439.9,260.6 441.1,262.6 C442.3,264.6 443.5,266.6 444.8,268.6 C446.0,270.6 447.3,272.6 448.6,274.5 C450.0,276.4 451.3,278.4 452.7,280.3 C454.1,282.1 455.5,284.0 457.0,285.8 C458.5,287.6 460.0,289.4 461.6,291.2 C463.1,292.9 464.8,294.6 466.4,296.3 C468.1,297.9 469.7,299.6 471.5,301.2 C473.2,302.8 474.9,304.3 476.7,305.9 C478.5,307.4 480.3,308.9 482.1,310.3 C484.0,311.8 485.9,313.2 487.8,314.5 C489.7,315.9 491.6,317.2 493.6,318.4 C495.6,319.6 497.7,320.8 499.8,321.9 C501.9,322.9 504.0,323.9 506.2,324.8 C508.3,325.7 510.5,326.5 512.8,327.3 C515.0,328.0 517.2,328.7 519.5,329.3 C521.7,330.0 524.0,330.6 526.3,331.2 C528.5,331.7 530.8,332.3 533.1,332.8 C535.4,333.4 537.7,333.9 540.0,334.3 C542.3,334.8 544.6,335.3 546.9,335.7 C549.2,336.2 551.5,336.6 553.8,337.0 C556.1,337.4 558.4,337.7 560.8,338.1 C563.1,338.4 565.4,338.7 567.7,339.1 C570.0,339.4 572.4,339.7 574.7,339.9 C577.0,340.2 579.4,340.5 581.7,340.7 C584.0,340.9 586.4,341.2 588.7,341.4 C591.0,341.6 593.4,341.8 595.7,341.9 C598.1,342.1 600.4,342.3 602.7,342.4 C605.1,342.6 607.4,342.7 609.8,342.8 C612.1,343.0 614.4,343.1 616.8,343.2 C619.1,343.3 621.5,343.4 623.8,343.5 C626.2,343.6 628.5,343.7 630.8,343.8 C633.2,343.8 635.5,343.9 637.9,344.0 C640.2,344.0 642.6,344.1 644.9,344.2 C647.3,344.2 649.6,344.3 651.9,344.3 C654.3,344.4 656.6,344.4 659.0,344.5 C661.3,344.6 663.7,344.6 666.0,344.7 C668.4,344.7 670.7,344.8 673.0,344.8 C675.4,344.9 677.7,345.0 680.1,345.0 C682.4,345.1 684.8,345.2 687.1,345.3 C689.5,345.3 691.8,345.4 694.1,345.5 C696.5,345.6 698.8,345.7 701.2,345.8 C703.5,345.9 707.0,346.1 708.2,346.2" stroke="#43682B" clip-path="url(#p1)"/>
<path d="M67.4,215.3 C68.5,214.9 71.9,213.8 74.1,213.1 C76.3,212.4 78.6,211.7 80.8,210.9 C83.0,210.1 85.2,209.4 87.4,208.5 C89.6,207.7 91.8,206.8 93.9,205.8 C96.1,204.9 98.2,203.9 100.3,202.8 C102.4,201.8 104.5,200.6 106.5,199.5 C108.5,198.3 110.5,197.0 112.4,195.7 C114.3,194.4 116.2,193.0 118.1,191.5 C119.9,190.1 121.7,188.6 123.5,187.0 C125.2,185.4 127.0,183.8 128.6,182.2 C130.3,180.6 131.9,178.9 133.6,177.2 C135.2,175.4 136.7,173.7 138.3,171.9 C139.8,170.2 141.3,168.4 142.8,166.6 C144.3,164.8 145.8,162.9 147.2,161.1 C148.7,159.2 150.1,157.4 151.5,155.5 C152.9,153.6 154.3,151.7 155.7,149.8 C157.0,147.9 158.4,146.0 159.7,144.0 C161.1,142.1 162.4,140.2 163.7,138.2 C165.0,136.3 166.3,134.3 167.6,132.3 C168.8,130.4 170.1,128.4 171.4,126.4 C172.6,124.4 173.9,122.4 175.1,120.5 C176.4,118.5 177.6,116.5 178.9,114.5 C180.1,112.5 181.3,110.5 182.6,108.5 C183.9,106.5 185.1,104.6 186.4,102.6 C187.7,100.6 189.0,98.7 190.3,96.7 C191.6,94.8 192.9,92.8 194.2,90.9 C195.6,89.0 196.9,87.1 198.4,85.2 C199.8,83.3 201.2,81.4 202.7,79.6 C204.2,77.8 205.7,76.1 207.3,74.3 C208.9,72.6 210.5,70.9 212.2,69.2 C213.8,67.6 215.5,66.0 217.2,64.3 C218.9,62.7 220.6,61.1 222.4,59.5 C224.1,57.9 225.8,56.3 227.5,54.7 C229.2,53.1 230.9,51.5 232.6,49.9 C234.3,48.3 236.1,46.7 237.8,45.1 C239.6,43.6 241.3,42.0 243.2,40.5 C245.0,39.0 246.8,37.5 248.6,36.1 C250.5,34.7 252.4,33.3 254.4,32.0 C256.3,30.7 258.3,29.4 260.3,28.2 C262.3,27.1 264.4,26.0 266.5,25.0 C268.7,24.0 270.9,23.1 273.1,22.4 C275.3,21.6 277.6,21.0 279.9,20.6 C282.2,20.2 284.6,19.9 286.9,19.9 C289.2,19.8 291.6,20.0 293.9,20.4 C296.2,20.7 298.5,21.3 300.8,21.9 C303.0,22.6 305.2,23.4 307.4,24.3 C309.6,25.1 311.7,26.1 313.8,27.2 C315.9,28.2 318.0,29.3 320.1,30.4 C322.1,31.5 324.2,32.7 326.2,33.9 C328.2,35.1 330.1,36.4 332.1,37.8 C334.0,39.1 335.8,40.6 337.6,42.1 C339.4,43.6 341.1,45.2 342.8,46.9 C344.4,48.5 346.0,50.3 347.5,52.1 C349.0,53.9 350.5,55.7 351.9,57.6 C353.3,59.4 354.7,61.4 356.1,63.3 C357.4,65.2 358.8,67.1 360.1,69.1 C361.4,71.0 362.7,72.9 364.0,74.9 C365.3,76.9 366.6,78.8 367.9,80.8 C369.1,82.8 370.4,84.7 371.7,86.7 C372.9,88.7 374.2,90.7 375.4,92.7 C376.7,94.7 377.9,96.7 379.1,98.7 C380.4,100.7 381.6,102.7 382.8,104.7 C384.0,106.7 385.2,108.7 386.4,110.7 C387.6,112.7 388.8,114.7 390.0,116.8 C391.2,118.8 392.3,120.8 393.5,122.9 C394.6,124.9 395.7,127.0 396.9,129.1 C398.0,131.1 399.1,133.2 400.1,135.3 C401.2,137.4 402.3,139.5 403.3,141.6 C404.3,143.7 405.4,145.8 406.4,147.9 C407.4,150.0 408.4,152.2 409.3,154.3 C410.3,156.4 411.2,158.6 412.2,160.7 C413.1,162.9 414.1,165.0 415.0,167.2 C415.9,169.4 416.8,171.5 417.8,173.7 C418.7,175.8 419.6,178.0 420.5,180.1 C421.5,182.3 422.4,184.5 423.3,186.6 C424.3,188.8 425.2,190.9 426.2,193.1 C427.1,195.2 428.1,197.3 429.1,199.5 C430.1,201.6 431.1,203.7 432.1,205.8 C433.2,207.9 434.2,210.0 435.3,212.1 C436.4,214.2 437.5,216.2 438.7,218.3 C439.9,220.3 441.1,222.3 442.3,224.3 C443.6,226.3 444.8,228.3 446.1,230.2 C447.4,232.2 448.7,234.1 450.1,236.1 C451.4,238.0 452.8,239.9 454.1,241.8 C455.5,243.7 456.9,245.6 458.3,247.5 C459.7,249.4 461.1,251.3 462.5,253.2 C463.9,255.1 465.3,256.9 466.6,258.8 C468.0,260.7 469.4,262.6 470.8,264.5 C472.2,266.4 473.6,268.3 475.0,270.2 C476.4,272.1 477.7,274.0 479.2,275.8 C480.6,277.7 482.0,279.6 483.5,281.4 C484.9,283.3 486.4,285.1 487.9,286.9 C489.4,288.7 491.0,290.4 492.6,292.1 C494.3,293.8 495.9,295.4 497.7,297.0 C499.4,298.6 501.2,300.1 503.0,301.6 C504.9,303.0 506.8,304.4 508.7,305.8 C510.6,307.1 512.6,308.3 514.7,309.5 C516.7,310.6 518.8,311.7 520.9,312.7 C523.0,313.8 525.2,314.7 527.4,315.6 C529.5,316.4 531.7,317.2 534.0,318.0 C536.2,318.8 538.4,319.5 540.7,320.2 C542.9,320.8 545.2,321.5 547.4,322.1 C549.7,322.7 552.0,323.2 554.3,323.8 C556.6,324.3 558.9,324.8 561.2,325.2 C563.5,325.7 565.8,326.1 568.1,326.5 C570.4,326.9 572.7,327.2 575.1,327.5 C577.4,327.9 579.7,328.2 582.0,328.4 C584.4,328.7 586.7,329.0 589.0,329.2 C591.4,329.4 593.7,329.6 596.1,329.8 C598.4,330.0 600.7,330.1 603.1,330.3 C605.4,330.4 607.8,330.6 610.1,330.7 C612.4,330.8 614.8,330.9 617.1,331.0 C619.5,331.2 621.8,331.2 624.2,331.3 C626.5,331.4 628.9,331.5 631.2,331.6 C633.6,331.7 635.9,331.8 638.2,331.9 C640.6,332.0 642.9,332.1 645.3,332.2 C647.6,332.3 650.0,332.4 652.3,332.5 C654.7,332.6 657.0,332.7 659.3,332.9 C661.7,333.0 664.0,333.1 666.4,333.3 C668.7,333.5 671.1,333.7 673.4,333.9 C675.7,334.1 678.1,334.3 680.4,334.6 C682.7,334.8 685.1,335.1 687.4,335.4 C689.7,335.7 692.0,336.1 694.4,336.4 C696.7,336.8 699.0,337.2 701.3,337.6 C703.6,338.0 707.0,338.8 708.2,339.0" stroke="#698ED0" clip-path="url(#p1)"/>
</g>
<g fill="none" stroke-width="2.3" stroke-linejoin="round" stroke-linecap="round">
<path d="M61.2,841.9 C62.1,841.3 64.8,838.0 66.6,838.0 C68.4,838.1 70.4,840.5 71.9,842.3 C73.4,844.0 74.3,846.3 75.3,848.4 C76.3,850.5 77.2,852.7 78.0,854.9 C78.9,857.1 79.7,859.3 80.5,861.5 C81.2,863.7 81.9,865.9 82.7,868.2 C83.4,870.4 84.1,872.6 84.8,874.9 C85.5,877.1 86.1,879.3 86.8,881.6 C87.5,883.8 88.1,886.1 88.8,888.3 C89.4,890.6 90.1,892.8 90.8,895.1 C91.4,897.3 92.1,899.6 92.7,901.8 C93.4,904.1 94.1,906.3 94.8,908.5 C95.5,910.8 96.2,913.0 96.9,915.2 C97.6,917.5 98.4,919.7 99.1,921.9 C99.9,924.1 100.7,926.3 101.6,928.5 C102.5,930.7 103.4,932.8 104.4,934.9 C105.5,937.0 106.6,939.1 107.9,941.0 C109.2,942.9 110.7,944.9 112.5,946.3 C114.2,947.8 116.4,949.1 118.5,949.7 C120.7,950.4 123.2,950.3 125.5,950.2 C127.8,950.1 130.1,949.5 132.4,949.1 C134.7,948.7 137.0,948.1 139.3,947.6 C141.6,947.0 143.8,946.4 146.1,945.7 C148.3,944.9 150.5,944.2 152.7,943.3 C154.9,942.5 157.0,941.5 159.2,940.6 C161.3,939.6 163.4,938.5 165.5,937.4 C167.5,936.4 169.6,935.2 171.6,934.0 C173.6,932.8 175.6,931.6 177.6,930.3 C179.6,929.1 181.5,927.8 183.4,926.4 C185.3,925.1 187.2,923.7 189.1,922.3 C191.0,920.9 192.9,919.5 194.7,918.0 C196.5,916.6 198.4,915.1 200.2,913.6 C202.0,912.1 203.7,910.6 205.5,909.0 C207.3,907.5 209.0,905.9 210.8,904.4 C212.5,902.8 214.2,901.2 215.9,899.6 C217.6,898.0 219.3,896.4 221.0,894.7 C222.7,893.1 224.4,891.5 226.0,889.8 C227.7,888.2 229.3,886.5 231.0,884.8 C232.6,883.1 234.2,881.5 235.8,879.8 C237.5,878.1 239.1,876.4 240.7,874.6 C242.3,872.9 243.9,871.2 245.4,869.5 C247.0,867.8 248.6,866.0 250.2,864.3 C251.7,862.6 253.3,860.8 254.9,859.1 C256.4,857.3 258.0,855.5 259.5,853.8 C261.0,852.0 262.5,850.2 263.9,848.3 C265.4,846.5 266.8,844.6 268.2,842.7 C269.5,840.8 270.9,838.9 272.2,836.9 C273.5,835.0 274.7,833.0 275.9,831.0 C277.1,829.0 278.3,827.0 279.4,824.9 C280.6,822.9 281.7,820.8 282.7,818.7 C283.8,816.6 284.8,814.5 285.8,812.4 C286.8,810.2 287.7,808.1 288.7,806.0 C289.6,803.8 290.5,801.6 291.4,799.5 C292.2,797.3 293.1,795.1 293.9,792.9 C294.8,790.7 295.6,788.5 296.4,786.4 C297.3,784.2 298.1,782.0 298.9,779.8 C299.8,777.6 300.6,775.4 301.5,773.2 C302.3,771.1 303.2,768.9 304.1,766.7 C305.0,764.6 305.9,762.4 306.9,760.3 C307.9,758.1 308.9,756.0 310.0,753.9 C311.0,751.8 312.1,749.8 313.2,747.7 C314.3,745.6 315.5,743.6 316.6,741.6 C317.8,739.5 319.0,737.5 320.1,735.5 C321.3,733.4 322.4,731.4 323.6,729.3 C324.7,727.3 325.8,725.2 326.9,723.1 C328.0,721.1 329.1,719.0 330.1,716.9 C331.2,714.8 332.2,712.7 333.3,710.6 C334.4,708.5 335.4,706.4 336.5,704.4 C337.5,702.3 338.6,700.2 339.7,698.1 C340.7,696.0 341.8,693.9 342.9,691.9 C344.0,689.8 345.1,687.7 346.2,685.7 C347.4,683.6 348.5,681.6 349.6,679.5 C350.8,677.5 352.0,675.4 353.1,673.4 C354.3,671.4 355.5,669.4 356.7,667.4 C357.9,665.4 359.1,663.4 360.4,661.4 C361.6,659.4 362.9,657.4 364.2,655.4 C365.4,653.5 366.7,651.5 368.1,649.6 C369.4,647.7 370.7,645.7 372.1,643.8 C373.5,641.9 374.8,640.0 376.3,638.2 C377.7,636.3 379.1,634.5 380.6,632.7 C382.1,630.8 383.6,629.0 385.1,627.3 C386.7,625.5 388.2,623.8 389.8,622.1 C391.4,620.4 393.1,618.7 394.8,617.1 C396.5,615.5 398.2,613.9 400.0,612.4 C401.8,610.8 403.6,609.4 405.5,608.0 C407.4,606.6 409.3,605.2 411.3,604.0 C413.3,602.8 415.3,601.6 417.5,600.6 C419.6,599.6 421.7,598.7 423.9,598.0 C426.2,597.2 428.4,596.6 430.7,596.1 C433.0,595.7 435.4,595.5 437.7,595.4 C440.0,595.3 442.4,595.5 444.7,595.8 C447.0,596.1 449.4,596.6 451.6,597.2 C453.9,597.8 456.1,598.6 458.2,599.5 C460.4,600.4 462.5,601.4 464.6,602.5 C466.6,603.7 468.6,604.9 470.6,606.1 C472.6,607.4 474.5,608.8 476.4,610.2 C478.2,611.6 480.1,613.0 481.9,614.5 C483.7,616.1 485.4,617.6 487.1,619.2 C488.9,620.8 490.6,622.4 492.2,624.1 C493.9,625.7 495.5,627.4 497.1,629.1 C498.7,630.8 500.3,632.5 501.9,634.3 C503.4,636.0 504.9,637.8 506.5,639.6 C508.0,641.4 509.5,643.2 510.9,645.0 C512.4,646.8 513.9,648.7 515.3,650.5 C516.8,652.3 518.2,654.2 519.6,656.1 C521.0,657.9 522.4,659.8 523.8,661.7 C525.2,663.6 526.6,665.5 527.9,667.4 C529.3,669.3 530.7,671.2 532.0,673.1 C533.4,675.0 534.7,677.0 536.0,678.9 C537.4,680.8 538.7,682.8 540.0,684.7 C541.3,686.7 542.6,688.6 543.9,690.5 C545.2,692.5 546.5,694.5 547.8,696.4 C549.1,698.4 550.3,700.3 551.6,702.3 C552.9,704.3 554.1,706.2 555.4,708.2 C556.7,710.2 557.9,712.2 559.2,714.1 C560.4,716.1 561.7,718.1 562.9,720.1 C564.2,722.1 565.4,724.0 566.7,726.0 C567.9,728.0 569.2,730.0 570.4,732.0 C571.6,734.0 572.9,736.0 574.1,738.0 C575.4,740.0 576.6,741.9 577.8,743.9 C579.0,745.9 580.3,747.9 581.5,749.9 C582.7,751.9 584.0,753.9 585.2,755.9 C586.4,757.9 587.7,759.9 588.9,761.9 C590.1,763.9 591.4,765.9 592.6,767.9 C593.8,769.9 595.1,771.8 596.3,773.8 C597.5,775.8 598.8,777.8 600.0,779.8 C601.2,781.8 602.5,783.8 603.7,785.8 C605.0,787.7 606.2,789.7 607.5,791.7 C608.7,793.7 610.0,795.7 611.2,797.7 C612.5,799.6 613.8,801.6 615.0,803.6 C616.3,805.5 617.6,807.5 618.8,809.5 C620.1,811.4 621.4,813.4 622.7,815.4 C624.0,817.3 625.3,819.3 626.6,821.2 C627.9,823.2 629.2,825.1 630.5,827.0 C631.8,829.0 633.1,830.9 634.5,832.8 C635.8,834.8 637.1,836.7 638.5,838.6 C639.8,840.5 641.2,842.4 642.5,844.3 C643.9,846.3 645.3,848.2 646.7,850.0 C648.1,851.9 649.5,853.8 650.9,855.7 C652.3,857.6 653.7,859.4 655.1,861.3 C656.5,863.1 658.0,865.0 659.4,866.8 C660.9,868.7 662.4,870.5 663.8,872.3 C665.3,874.1 666.8,875.9 668.3,877.7 C669.9,879.5 671.4,881.3 672.9,883.0 C674.5,884.8 676.0,886.5 677.6,888.3 C679.2,890.0 680.8,891.7 682.4,893.4 C684.1,895.1 685.7,896.7 687.4,898.4 C689.0,900.0 690.7,901.6 692.5,903.2 C694.2,904.8 695.9,906.4 697.7,907.9 C699.5,909.5 701.3,911.0 703.1,912.4 C704.9,913.9 706.8,915.3 708.7,916.7 C710.6,918.0 712.5,919.4 714.5,920.7 C716.5,921.9 718.5,923.1 720.5,924.3 C722.5,925.4 724.6,926.5 726.7,927.5 C728.9,928.5 732.1,929.8 733.2,930.3" stroke="#4472C4" clip-path="url(#p2)"/>
<path d="M61.2,931.4 C62.2,932.0 65.1,934.0 67.1,935.2 C69.1,936.5 71.0,937.7 73.1,938.9 C75.1,940.1 77.1,941.2 79.2,942.3 C81.2,943.4 83.3,944.5 85.5,945.4 C87.6,946.4 89.7,947.3 91.9,948.1 C94.1,948.9 96.4,949.7 98.6,950.3 C100.9,950.9 103.2,951.4 105.5,951.7 C107.8,952.0 110.1,952.3 112.5,952.3 C114.8,952.3 117.1,952.2 119.5,951.9 C121.8,951.5 124.1,951.0 126.3,950.4 C128.5,949.7 130.7,948.8 132.8,947.9 C135.0,946.9 137.0,945.7 139.0,944.5 C140.9,943.2 142.8,941.8 144.7,940.4 C146.5,938.9 148.2,937.3 149.9,935.7 C151.6,934.1 153.2,932.4 154.8,930.7 C156.4,929.0 157.9,927.2 159.4,925.4 C160.8,923.6 162.3,921.7 163.7,919.8 C165.1,918.0 166.4,916.0 167.7,914.1 C169.1,912.2 170.4,910.2 171.6,908.3 C172.9,906.3 174.1,904.3 175.3,902.3 C176.5,900.3 177.7,898.3 178.9,896.3 C180.1,894.3 181.2,892.2 182.3,890.2 C183.5,888.1 184.6,886.1 185.7,884.0 C186.8,882.0 187.9,879.9 189.0,877.8 C190.1,875.8 191.2,873.7 192.3,871.6 C193.4,869.6 194.5,867.5 195.6,865.4 C196.7,863.4 197.8,861.3 198.9,859.2 C200.0,857.2 201.1,855.1 202.2,853.1 C203.3,851.0 204.4,848.9 205.5,846.9 C206.6,844.8 207.8,842.8 208.9,840.7 C210.0,838.7 211.2,836.7 212.3,834.6 C213.4,832.6 214.6,830.5 215.8,828.5 C216.9,826.5 218.1,824.5 219.3,822.4 C220.4,820.4 221.6,818.4 222.8,816.4 C224.0,814.4 225.2,812.4 226.4,810.4 C227.6,808.4 228.9,806.4 230.1,804.4 C231.3,802.4 232.6,800.4 233.8,798.5 C235.1,796.5 236.4,794.6 237.7,792.6 C239.0,790.7 240.3,788.7 241.6,786.8 C242.9,784.8 244.2,782.9 245.6,781.0 C246.9,779.1 248.3,777.2 249.6,775.3 C251.0,773.4 252.4,771.5 253.7,769.6 C255.1,767.7 256.5,765.8 257.9,764.0 C259.3,762.1 260.7,760.2 262.2,758.4 C263.6,756.5 265.0,754.7 266.4,752.8 C267.9,751.0 269.3,749.1 270.7,747.3 C272.2,745.4 273.6,743.6 275.1,741.8 C276.5,739.9 278.0,738.1 279.4,736.3 C280.9,734.4 282.3,732.6 283.8,730.8 C285.2,728.9 286.7,727.1 288.1,725.2 C289.6,723.4 291.0,721.6 292.4,719.7 C293.9,717.9 295.3,716.0 296.8,714.2 C298.2,712.4 299.6,710.5 301.1,708.7 C302.5,706.8 304.0,705.0 305.4,703.2 C306.9,701.4 308.4,699.5 309.8,697.7 C311.3,695.9 312.8,694.1 314.3,692.3 C315.8,690.5 317.3,688.7 318.8,687.0 C320.4,685.2 321.9,683.4 323.5,681.7 C325.0,680.0 326.6,678.3 328.3,676.6 C329.9,674.9 331.5,673.2 333.2,671.6 C334.8,669.9 336.5,668.3 338.2,666.7 C339.9,665.1 341.7,663.5 343.4,662.0 C345.1,660.4 346.9,658.9 348.7,657.4 C350.5,655.9 352.3,654.4 354.1,652.9 C356.0,651.5 357.8,650.0 359.7,648.6 C361.5,647.2 363.4,645.8 365.3,644.4 C367.2,643.1 369.1,641.7 371.0,640.4 C372.9,639.0 374.9,637.7 376.8,636.4 C378.7,635.1 380.7,633.8 382.6,632.6 C384.6,631.3 386.6,630.0 388.5,628.7 C390.5,627.5 392.5,626.2 394.5,625.0 C396.4,623.7 398.4,622.5 400.4,621.2 C402.4,620.0 404.3,618.8 406.3,617.5 C408.3,616.3 410.3,615.0 412.3,613.8 C414.3,612.6 416.3,611.4 418.3,610.3 C420.4,609.1 422.4,608.0 424.5,606.9 C426.5,605.8 428.6,604.7 430.8,603.7 C432.9,602.8 435.0,601.8 437.2,601.0 C439.4,600.2 441.6,599.4 443.9,598.8 C446.1,598.1 448.4,597.6 450.7,597.2 C453.0,596.8 455.3,596.6 457.7,596.5 C460.0,596.5 462.4,596.6 464.7,596.9 C467.0,597.2 469.3,597.7 471.5,598.4 C473.7,599.1 475.9,600.0 478.0,601.0 C480.1,602.0 482.1,603.2 484.1,604.5 C486.0,605.8 487.9,607.2 489.6,608.7 C491.4,610.3 493.1,611.9 494.8,613.5 C496.4,615.2 498.0,616.9 499.6,618.6 C501.1,620.4 502.6,622.2 504.1,624.0 C505.5,625.8 507.0,627.7 508.4,629.6 C509.7,631.4 511.1,633.4 512.4,635.3 C513.8,637.2 515.1,639.1 516.4,641.1 C517.6,643.0 518.9,645.0 520.1,647.0 C521.4,649.0 522.6,651.0 523.8,653.0 C525.0,655.0 526.2,657.0 527.4,659.0 C528.6,661.0 529.7,663.0 530.9,665.1 C532.0,667.1 533.2,669.2 534.3,671.2 C535.4,673.2 536.6,675.3 537.7,677.4 C538.8,679.4 539.9,681.5 541.0,683.5 C542.1,685.6 543.2,687.7 544.3,689.7 C545.4,691.8 546.4,693.9 547.5,696.0 C548.6,698.0 549.6,700.1 550.7,702.2 C551.8,704.3 552.9,706.4 553.9,708.4 C555.0,710.5 556.1,712.6 557.1,714.7 C558.2,716.8 559.3,718.8 560.4,720.9 C561.4,723.0 562.5,725.0 563.6,727.1 C564.7,729.2 565.8,731.2 566.9,733.3 C568.0,735.4 569.1,737.4 570.3,739.5 C571.4,741.5 572.5,743.6 573.6,745.6 C574.8,747.7 575.9,749.7 577.0,751.8 C578.2,753.8 579.3,755.8 580.5,757.9 C581.6,759.9 582.8,761.9 583.9,764.0 C585.1,766.0 586.2,768.0 587.4,770.1 C588.5,772.1 589.7,774.2 590.8,776.2 C592.0,778.2 593.1,780.3 594.2,782.3 C595.4,784.4 596.5,786.4 597.6,788.4 C598.8,790.5 599.9,792.5 601.0,794.6 C602.1,796.6 603.3,798.7 604.4,800.7 C605.5,802.8 606.6,804.8 607.8,806.9 C608.9,808.9 610.0,811.0 611.2,813.0 C612.3,815.1 613.4,817.1 614.6,819.2 C615.7,821.2 616.9,823.2 618.0,825.3 C619.2,827.3 620.4,829.3 621.5,831.3 C622.7,833.4 623.9,835.4 625.1,837.4 C626.3,839.4 627.5,841.4 628.7,843.4 C630.0,845.4 631.2,847.3 632.5,849.3 C633.7,851.3 635.0,853.2 636.3,855.2 C637.6,857.1 639.0,859.0 640.3,860.9 C641.7,862.9 643.0,864.8 644.4,866.6 C645.8,868.5 647.2,870.4 648.6,872.2 C650.1,874.1 651.5,875.9 653.0,877.7 C654.5,879.5 656.0,881.3 657.6,883.0 C659.1,884.8 660.7,886.5 662.3,888.2 C663.9,889.9 665.5,891.6 667.2,893.3 C668.8,894.9 670.5,896.6 672.2,898.1 C673.9,899.7 675.7,901.3 677.5,902.8 C679.2,904.3 681.1,905.8 682.9,907.2 C684.7,908.6 686.6,910.0 688.5,911.4 C690.5,912.7 692.4,914.0 694.4,915.3 C696.4,916.5 698.4,917.7 700.4,918.8 C702.5,919.9 704.6,921.0 706.7,922.0 C708.8,923.0 710.9,924.0 713.1,924.9 C715.2,925.7 717.4,926.6 719.7,927.3 C721.9,928.0 724.1,928.7 726.4,929.3 C728.6,929.9 732.1,930.6 733.2,930.9" stroke="#ED7D31" clip-path="url(#p2)"/>
<path d="M61.2,958.0 C62.2,957.4 65.3,955.7 67.4,954.6 C69.5,953.6 71.6,952.7 73.8,951.8 C76.0,951.0 78.2,950.2 80.5,949.5 C82.7,948.9 85.0,948.3 87.3,947.8 C89.6,947.3 91.9,946.9 94.2,946.6 C96.5,946.3 98.9,946.0 101.2,945.9 C103.5,945.7 105.9,945.7 108.2,945.7 C110.6,945.7 112.9,945.7 115.3,945.8 C117.6,946.0 119.9,946.2 122.3,946.4 C124.6,946.6 126.9,946.9 129.3,947.2 C131.6,947.5 133.9,947.8 136.2,948.2 C138.5,948.6 140.8,949.0 143.2,949.4 C145.5,949.8 147.8,950.2 150.1,950.6 C152.4,951.1 154.7,951.5 157.0,951.9 C159.3,952.4 161.6,952.8 163.9,953.2 C166.2,953.6 168.5,954.0 170.8,954.4 C173.1,954.8 175.5,955.1 177.8,955.5 C180.1,955.8 182.4,956.1 184.8,956.3 C187.1,956.6 189.4,956.8 191.8,956.9 C194.1,957.1 196.4,957.1 198.8,957.2 C201.1,957.2 203.5,957.2 205.8,957.0 C208.2,956.9 210.5,956.7 212.8,956.4 C215.1,956.2 217.5,955.8 219.8,955.3 C222.1,954.9 224.4,954.4 226.6,953.7 C228.9,953.1 231.1,952.3 233.3,951.5 C235.5,950.7 237.7,949.8 239.8,948.8 C241.9,947.8 244.0,946.7 246.0,945.6 C248.1,944.4 250.0,943.2 252.0,941.9 C253.9,940.6 255.8,939.2 257.7,937.8 C259.6,936.3 261.4,934.8 263.1,933.3 C264.9,931.8 266.6,930.2 268.3,928.5 C270.0,926.9 271.6,925.2 273.2,923.5 C274.8,921.8 276.3,920.0 277.8,918.2 C279.4,916.4 280.8,914.6 282.3,912.8 C283.7,910.9 285.1,909.0 286.5,907.1 C287.9,905.2 289.2,903.3 290.5,901.4 C291.8,899.4 293.1,897.5 294.4,895.5 C295.6,893.5 296.9,891.5 298.1,889.5 C299.3,887.5 300.5,885.5 301.6,883.4 C302.8,881.4 303.9,879.4 305.1,877.3 C306.2,875.3 307.3,873.2 308.4,871.1 C309.5,869.1 310.6,867.0 311.7,864.9 C312.8,862.8 313.9,860.8 314.9,858.7 C316.0,856.6 317.0,854.5 318.0,852.4 C319.1,850.2 320.1,848.1 321.0,846.0 C322.0,843.9 323.0,841.7 323.9,839.6 C324.9,837.4 325.8,835.3 326.7,833.1 C327.6,830.9 328.5,828.8 329.4,826.6 C330.2,824.4 331.1,822.3 332.0,820.1 C332.8,817.9 333.7,815.7 334.5,813.5 C335.4,811.3 336.2,809.2 337.1,807.0 C337.9,804.8 338.7,802.6 339.5,800.4 C340.4,798.2 341.2,796.0 342.0,793.8 C342.8,791.6 343.7,789.4 344.5,787.2 C345.3,785.0 346.1,782.8 347.0,780.6 C347.8,778.4 348.6,776.2 349.4,774.1 C350.3,771.9 351.1,769.7 351.9,767.5 C352.8,765.3 353.6,763.1 354.5,760.9 C355.3,758.7 356.2,756.6 357.0,754.4 C357.9,752.2 358.7,750.0 359.6,747.8 C360.5,745.7 361.4,743.5 362.2,741.3 C363.1,739.1 364.0,737.0 364.9,734.8 C365.8,732.6 366.7,730.5 367.6,728.3 C368.5,726.2 369.4,724.0 370.4,721.8 C371.3,719.7 372.2,717.5 373.1,715.4 C374.1,713.2 375.0,711.1 376.0,708.9 C376.9,706.8 377.9,704.7 378.8,702.5 C379.8,700.4 380.7,698.2 381.7,696.1 C382.7,694.0 383.7,691.8 384.6,689.7 C385.6,687.6 386.6,685.5 387.6,683.3 C388.6,681.2 389.6,679.1 390.6,677.0 C391.6,674.9 392.7,672.8 393.7,670.7 C394.7,668.5 395.7,666.4 396.8,664.3 C397.8,662.2 398.9,660.1 399.9,658.0 C401.0,655.9 402.0,653.9 403.1,651.8 C404.2,649.7 405.2,647.6 406.3,645.5 C407.4,643.5 408.5,641.4 409.6,639.3 C410.8,637.3 411.9,635.2 413.1,633.2 C414.2,631.2 415.4,629.1 416.7,627.1 C417.9,625.2 419.2,623.2 420.5,621.2 C421.8,619.3 423.1,617.4 424.6,615.5 C426.0,613.7 427.5,611.8 429.0,610.1 C430.6,608.3 432.2,606.7 434.0,605.1 C435.7,603.5 437.5,602.0 439.5,600.7 C441.4,599.4 443.4,598.2 445.6,597.2 C447.7,596.2 449.9,595.4 452.2,594.9 C454.4,594.4 456.8,594.1 459.2,594.1 C461.5,594.0 463.9,594.3 466.1,594.7 C468.4,595.2 470.7,595.9 472.9,596.7 C475.1,597.5 477.2,598.5 479.2,599.7 C481.3,600.8 483.3,602.1 485.2,603.4 C487.1,604.7 489.0,606.2 490.8,607.6 C492.6,609.1 494.4,610.7 496.1,612.3 C497.8,613.9 499.5,615.5 501.1,617.2 C502.7,618.9 504.3,620.6 505.9,622.3 C507.5,624.1 509.0,625.9 510.5,627.7 C512.0,629.5 513.5,631.3 515.0,633.1 C516.4,634.9 517.8,636.8 519.3,638.7 C520.7,640.5 522.1,642.4 523.4,644.3 C524.8,646.2 526.2,648.1 527.5,650.0 C528.9,651.9 530.2,653.9 531.5,655.8 C532.9,657.7 534.2,659.7 535.5,661.6 C536.8,663.6 538.1,665.5 539.4,667.5 C540.6,669.5 541.9,671.4 543.2,673.4 C544.5,675.4 545.7,677.3 547.0,679.3 C548.2,681.3 549.5,683.3 550.8,685.3 C552.0,687.2 553.3,689.2 554.5,691.2 C555.8,693.2 557.0,695.2 558.2,697.2 C559.5,699.1 560.7,701.1 562.0,703.1 C563.2,705.1 564.5,707.1 565.7,709.1 C567.0,711.1 568.2,713.0 569.5,715.0 C570.7,717.0 572.0,719.0 573.3,720.9 C574.5,722.9 575.8,724.9 577.1,726.9 C578.3,728.8 579.6,730.8 580.9,732.7 C582.2,734.7 583.5,736.7 584.8,738.6 C586.1,740.6 587.4,742.5 588.7,744.5 C590.0,746.4 591.3,748.4 592.6,750.3 C593.9,752.3 595.2,754.2 596.5,756.2 C597.8,758.1 599.1,760.1 600.4,762.0 C601.7,764.0 603.0,765.9 604.3,767.9 C605.6,769.8 606.9,771.8 608.2,773.7 C609.5,775.7 610.8,777.6 612.0,779.6 C613.3,781.6 614.6,783.5 615.9,785.5 C617.1,787.5 618.4,789.5 619.6,791.4 C620.9,793.4 622.1,795.4 623.4,797.4 C624.6,799.4 625.8,801.4 627.0,803.4 C628.3,805.4 629.5,807.4 630.7,809.4 C631.8,811.4 633.0,813.5 634.2,815.5 C635.3,817.6 636.5,819.6 637.6,821.7 C638.7,823.7 639.8,825.8 640.9,827.9 C642.0,829.9 643.1,832.0 644.2,834.1 C645.3,836.1 646.4,838.2 647.6,840.2 C648.7,842.3 649.8,844.4 651.0,846.4 C652.1,848.4 653.3,850.5 654.5,852.5 C655.7,854.5 657.0,856.5 658.3,858.4 C659.6,860.4 660.9,862.3 662.3,864.2 C663.6,866.1 665.0,868.0 666.5,869.8 C668.0,871.7 669.5,873.5 671.0,875.2 C672.5,877.0 674.1,878.7 675.7,880.4 C677.3,882.2 678.9,883.8 680.6,885.5 C682.3,887.1 683.9,888.8 685.7,890.4 C687.4,892.0 689.1,893.6 690.9,895.1 C692.6,896.6 694.4,898.2 696.3,899.6 C698.1,901.1 700.0,902.5 701.9,903.9 C703.8,905.2 705.7,906.6 707.7,907.8 C709.6,909.1 711.6,910.3 713.7,911.4 C715.8,912.6 717.8,913.6 720.0,914.6 C722.1,915.6 724.3,916.5 726.5,917.3 C728.7,918.1 732.1,919.0 733.2,919.3" stroke="#A5A5A5" clip-path="url(#p2)"/>
<path d="M61.2,957.4 C62.3,957.1 65.7,956.1 68.0,955.5 C70.2,955.0 72.5,954.5 74.8,954.1 C77.2,953.8 79.5,953.4 81.8,953.2 C84.1,952.9 86.5,952.7 88.8,952.6 C91.1,952.5 93.5,952.4 95.8,952.4 C98.1,952.3 100.5,952.4 102.8,952.4 C105.2,952.5 107.5,952.6 109.8,952.8 C112.2,952.9 114.5,953.1 116.8,953.3 C119.2,953.4 121.5,953.7 123.8,953.9 C126.1,954.1 128.5,954.4 130.8,954.6 C133.1,954.9 135.4,955.1 137.8,955.4 C140.1,955.6 142.4,955.9 144.7,956.1 C147.1,956.4 149.4,956.6 151.7,956.8 C154.1,957.0 156.4,957.2 158.7,957.4 C161.1,957.5 163.4,957.7 165.7,957.8 C168.1,957.9 170.4,957.9 172.7,958.0 C175.1,958.0 177.4,958.0 179.8,957.9 C182.1,957.8 184.4,957.6 186.8,957.4 C189.1,957.2 191.4,957.0 193.7,956.6 C196.0,956.3 198.4,955.9 200.6,955.4 C202.9,955.0 205.2,954.4 207.5,953.8 C209.7,953.2 212.0,952.5 214.2,951.7 C216.4,950.9 218.5,950.1 220.7,949.1 C222.8,948.2 225.0,947.2 227.0,946.1 C229.1,945.1 231.2,943.9 233.2,942.7 C235.2,941.5 237.2,940.3 239.1,939.0 C241.0,937.7 242.9,936.3 244.8,934.9 C246.7,933.5 248.5,932.0 250.3,930.5 C252.1,929.0 253.8,927.4 255.5,925.8 C257.2,924.3 258.9,922.6 260.5,920.9 C262.1,919.2 263.7,917.5 265.2,915.7 C266.7,913.9 268.2,912.1 269.6,910.2 C271.0,908.3 272.3,906.4 273.6,904.5 C274.9,902.5 276.1,900.5 277.3,898.5 C278.6,896.5 279.7,894.5 280.8,892.4 C282.0,890.4 283.0,888.3 284.1,886.2 C285.2,884.1 286.2,882.0 287.2,879.9 C288.2,877.8 289.2,875.7 290.1,873.6 C291.1,871.4 292.0,869.3 292.9,867.1 C293.9,865.0 294.8,862.8 295.7,860.7 C296.6,858.5 297.5,856.4 298.4,854.2 C299.3,852.0 300.2,849.9 301.0,847.7 C301.9,845.5 302.8,843.4 303.7,841.2 C304.6,839.0 305.4,836.9 306.3,834.7 C307.2,832.5 308.1,830.4 309.0,828.2 C309.8,826.0 310.7,823.9 311.6,821.7 C312.5,819.5 313.4,817.4 314.3,815.2 C315.3,813.1 316.2,810.9 317.1,808.8 C318.0,806.6 318.9,804.5 319.8,802.3 C320.8,800.2 321.7,798.0 322.6,795.9 C323.5,793.7 324.5,791.6 325.4,789.4 C326.3,787.3 327.3,785.1 328.2,783.0 C329.1,780.8 330.0,778.7 331.0,776.6 C331.9,774.4 332.8,772.3 333.7,770.1 C334.7,768.0 335.6,765.8 336.5,763.7 C337.4,761.5 338.3,759.3 339.2,757.2 C340.1,755.0 341.0,752.9 341.9,750.7 C342.8,748.6 343.7,746.4 344.6,744.2 C345.5,742.1 346.4,739.9 347.3,737.7 C348.2,735.6 349.0,733.4 349.9,731.2 C350.8,729.1 351.7,726.9 352.6,724.7 C353.4,722.6 354.3,720.4 355.2,718.2 C356.1,716.1 357.0,713.9 357.9,711.7 C358.8,709.6 359.7,707.4 360.6,705.3 C361.5,703.1 362.4,700.9 363.3,698.8 C364.2,696.6 365.1,694.5 366.0,692.3 C366.9,690.2 367.9,688.0 368.8,685.9 C369.7,683.8 370.7,681.6 371.7,679.5 C372.6,677.4 373.6,675.2 374.6,673.1 C375.6,671.0 376.6,668.9 377.6,666.8 C378.6,664.7 379.6,662.6 380.7,660.5 C381.8,658.4 382.8,656.3 384.0,654.3 C385.1,652.2 386.2,650.2 387.4,648.1 C388.6,646.1 389.8,644.1 391.0,642.1 C392.2,640.1 393.5,638.2 394.8,636.2 C396.1,634.3 397.5,632.4 398.9,630.5 C400.3,628.7 401.7,626.8 403.2,625.0 C404.7,623.2 406.2,621.4 407.8,619.7 C409.4,618.0 411.0,616.3 412.6,614.6 C414.3,613.0 416.0,611.3 417.7,609.8 C419.5,608.2 421.3,606.7 423.1,605.3 C425.0,603.9 426.9,602.5 428.8,601.2 C430.8,599.9 432.8,598.7 434.9,597.6 C437.0,596.6 439.1,595.6 441.3,594.9 C443.5,594.2 445.9,593.7 448.2,593.6 C450.5,593.6 452.9,594.0 455.1,594.6 C457.3,595.3 459.5,596.3 461.5,597.5 C463.6,598.6 465.5,600.0 467.3,601.4 C469.2,602.8 471.0,604.3 472.7,605.9 C474.4,607.5 476.1,609.1 477.7,610.8 C479.3,612.5 480.9,614.2 482.5,615.9 C484.0,617.7 485.6,619.4 487.1,621.2 C488.6,623.0 490.1,624.8 491.5,626.7 C493.0,628.5 494.4,630.3 495.9,632.2 C497.3,634.0 498.7,635.9 500.1,637.8 C501.5,639.7 502.9,641.6 504.2,643.5 C505.6,645.4 506.9,647.3 508.3,649.2 C509.6,651.1 510.9,653.0 512.2,655.0 C513.6,656.9 514.9,658.9 516.2,660.8 C517.5,662.7 518.7,664.7 520.0,666.7 C521.3,668.6 522.6,670.6 523.8,672.5 C525.1,674.5 526.4,676.5 527.6,678.5 C528.9,680.4 530.1,682.4 531.4,684.4 C532.6,686.4 533.8,688.4 535.1,690.3 C536.3,692.3 537.6,694.3 538.8,696.3 C540.0,698.3 541.3,700.3 542.5,702.3 C543.7,704.3 544.9,706.2 546.2,708.2 C547.4,710.2 548.6,712.2 549.8,714.2 C551.1,716.2 552.3,718.2 553.5,720.2 C554.7,722.2 556.0,724.2 557.2,726.2 C558.4,728.2 559.6,730.2 560.9,732.1 C562.1,734.1 563.3,736.1 564.5,738.1 C565.8,740.1 567.0,742.1 568.2,744.1 C569.5,746.1 570.7,748.1 571.9,750.1 C573.2,752.0 574.4,754.0 575.6,756.0 C576.9,758.0 578.1,760.0 579.3,762.0 C580.6,764.0 581.8,765.9 583.1,767.9 C584.3,769.9 585.6,771.9 586.8,773.8 C588.1,775.8 589.3,777.8 590.6,779.8 C591.8,781.7 593.1,783.7 594.4,785.7 C595.6,787.6 596.9,789.6 598.2,791.6 C599.5,793.5 600.7,795.5 602.0,797.4 C603.3,799.4 604.6,801.4 605.9,803.3 C607.2,805.3 608.5,807.2 609.8,809.1 C611.1,811.1 612.4,813.0 613.7,815.0 C615.0,816.9 616.3,818.8 617.7,820.7 C619.0,822.7 620.3,824.6 621.7,826.5 C623.0,828.4 624.4,830.3 625.7,832.2 C627.1,834.1 628.5,836.0 629.8,837.9 C631.2,839.8 632.6,841.7 634.0,843.6 C635.4,845.5 636.8,847.3 638.2,849.2 C639.6,851.1 641.0,852.9 642.5,854.8 C643.9,856.6 645.4,858.4 646.8,860.3 C648.3,862.1 649.8,863.9 651.2,865.7 C652.7,867.5 654.2,869.3 655.7,871.1 C657.3,872.9 658.8,874.6 660.3,876.4 C661.9,878.2 663.4,879.9 665.0,881.6 C666.6,883.3 668.2,885.0 669.8,886.7 C671.5,888.4 673.1,890.1 674.8,891.7 C676.4,893.4 678.1,895.0 679.8,896.6 C681.5,898.2 683.2,899.8 685.0,901.3 C686.7,902.9 688.5,904.4 690.3,905.9 C692.1,907.4 694.0,908.8 695.9,910.2 C697.7,911.6 699.6,913.0 701.6,914.3 C703.5,915.6 705.5,916.9 707.5,918.1 C709.5,919.3 711.5,920.5 713.6,921.5 C715.7,922.6 717.8,923.6 719.9,924.6 C722.1,925.5 724.2,926.3 726.5,927.1 C728.7,927.8 732.1,928.7 733.2,929.0" stroke="#FFC000" clip-path="url(#p2)"/>
<path d="M61.2,912.3 C62.4,912.3 65.9,912.1 68.1,912.7 C70.3,913.3 72.4,914.6 74.4,915.8 C76.4,917.0 78.2,918.5 80.0,920.0 C81.8,921.4 83.5,923.0 85.2,924.6 C87.0,926.2 88.7,927.8 90.4,929.4 C92.1,930.9 93.8,932.5 95.6,934.0 C97.5,935.5 99.3,936.9 101.3,938.1 C103.3,939.3 105.4,940.4 107.6,941.2 C109.8,942.0 112.1,942.5 114.4,942.7 C116.7,943.0 119.1,942.9 121.4,942.6 C123.7,942.4 126.0,941.9 128.2,941.2 C130.5,940.6 132.7,939.8 134.9,938.9 C137.0,938.0 139.1,937.0 141.2,936.0 C143.3,935.0 145.4,933.9 147.4,932.8 C149.5,931.6 151.5,930.4 153.5,929.2 C155.5,928.0 157.4,926.7 159.4,925.4 C161.3,924.2 163.3,922.8 165.2,921.5 C167.1,920.1 169.0,918.7 170.8,917.4 C172.7,916.0 174.6,914.5 176.4,913.1 C178.2,911.7 180.1,910.2 181.9,908.7 C183.7,907.3 185.5,905.8 187.3,904.3 C189.1,902.8 190.9,901.3 192.7,899.8 C194.4,898.3 196.2,896.8 198.0,895.2 C199.8,893.7 201.5,892.2 203.3,890.6 C205.1,889.1 206.8,887.6 208.6,886.0 C210.3,884.5 212.1,883.0 213.8,881.4 C215.6,879.9 217.4,878.4 219.1,876.8 C220.9,875.3 222.7,873.8 224.4,872.2 C226.2,870.7 228.0,869.2 229.8,867.7 C231.5,866.2 233.3,864.7 235.1,863.2 C236.9,861.7 238.7,860.2 240.5,858.7 C242.4,857.3 244.2,855.8 246.0,854.4 C247.9,853.0 249.7,851.5 251.6,850.1 C253.5,848.7 255.4,847.4 257.3,846.0 C259.2,844.6 261.1,843.3 263.0,842.0 C264.9,840.6 266.8,839.3 268.8,838.0 C270.7,836.7 272.6,835.4 274.5,834.0 C276.5,832.7 278.4,831.4 280.3,830.1 C282.3,828.8 284.2,827.5 286.1,826.1 C288.0,824.8 290.0,823.5 291.9,822.1 C293.8,820.8 295.6,819.4 297.5,818.0 C299.4,816.6 301.3,815.2 303.1,813.8 C305.0,812.3 306.8,810.9 308.6,809.4 C310.4,807.9 312.2,806.4 314.0,804.9 C315.7,803.4 317.5,801.8 319.2,800.2 C320.9,798.7 322.6,797.1 324.3,795.4 C326.0,793.8 327.6,792.1 329.2,790.5 C330.8,788.8 332.4,787.1 334.0,785.3 C335.6,783.6 337.1,781.8 338.6,780.1 C340.1,778.3 341.6,776.5 343.1,774.7 C344.6,772.9 346.0,771.0 347.4,769.1 C348.8,767.3 350.2,765.4 351.6,763.5 C352.9,761.6 354.3,759.7 355.6,757.8 C356.9,755.8 358.2,753.9 359.4,751.9 C360.7,750.0 361.9,748.0 363.2,746.0 C364.4,744.0 365.6,742.0 366.8,740.0 C368.0,738.0 369.1,735.9 370.3,733.9 C371.4,731.9 372.5,729.8 373.7,727.8 C374.8,725.7 375.9,723.7 377.0,721.6 C378.1,719.5 379.2,717.5 380.2,715.4 C381.3,713.3 382.4,711.3 383.5,709.2 C384.5,707.1 385.6,705.0 386.7,702.9 C387.7,700.9 388.8,698.8 389.9,696.7 C390.9,694.6 392.0,692.5 393.0,690.5 C394.1,688.4 395.1,686.3 396.2,684.2 C397.3,682.1 398.3,680.0 399.4,678.0 C400.5,675.9 401.5,673.8 402.6,671.7 C403.7,669.7 404.8,667.6 405.9,665.5 C407.0,663.5 408.1,661.4 409.2,659.4 C410.3,657.3 411.4,655.3 412.5,653.2 C413.7,651.2 414.8,649.1 416.0,647.1 C417.2,645.1 418.4,643.1 419.6,641.1 C420.8,639.1 422.0,637.1 423.3,635.1 C424.5,633.2 425.8,631.2 427.1,629.3 C428.4,627.4 429.8,625.4 431.1,623.6 C432.5,621.7 433.9,619.8 435.4,618.0 C436.8,616.1 438.3,614.3 439.9,612.6 C441.4,610.8 443.0,609.1 444.7,607.5 C446.3,605.8 448.0,604.2 449.8,602.8 C451.6,601.3 453.5,599.9 455.5,598.6 C457.4,597.4 459.5,596.2 461.7,595.3 C463.8,594.4 466.1,593.7 468.4,593.4 C470.6,593.0 473.1,592.9 475.3,593.1 C477.6,593.4 480.0,594.1 482.1,594.9 C484.2,595.8 486.3,597.1 488.2,598.4 C490.0,599.8 491.8,601.4 493.4,603.0 C495.1,604.7 496.6,606.5 498.0,608.3 C499.4,610.2 500.8,612.1 502.0,614.0 C503.3,616.0 504.5,618.0 505.7,620.0 C506.8,622.1 507.9,624.1 509.0,626.2 C510.1,628.3 511.1,630.4 512.1,632.5 C513.2,634.6 514.2,636.7 515.2,638.8 C516.1,640.9 517.1,643.0 518.1,645.2 C519.0,647.3 520.0,649.4 520.9,651.6 C521.9,653.7 522.8,655.8 523.8,658.0 C524.7,660.1 525.7,662.2 526.6,664.4 C527.5,666.5 528.5,668.7 529.4,670.8 C530.4,672.9 531.3,675.1 532.3,677.2 C533.2,679.3 534.2,681.4 535.2,683.6 C536.1,685.7 537.1,687.8 538.1,690.0 C539.0,692.1 540.0,694.2 541.0,696.3 C542.0,698.4 542.9,700.6 543.9,702.7 C544.9,704.8 545.9,706.9 546.9,709.0 C547.9,711.1 548.9,713.3 549.9,715.4 C550.9,717.5 551.9,719.6 552.9,721.7 C553.9,723.8 554.9,725.9 555.9,728.0 C557.0,730.1 558.0,732.2 559.0,734.3 C560.0,736.4 561.1,738.5 562.1,740.6 C563.2,742.7 564.2,744.8 565.2,746.9 C566.3,748.9 567.4,751.0 568.4,753.1 C569.5,755.2 570.5,757.3 571.6,759.3 C572.7,761.4 573.8,763.5 574.9,765.6 C575.9,767.6 577.0,769.7 578.1,771.7 C579.2,773.8 580.3,775.9 581.4,777.9 C582.6,780.0 583.7,782.0 584.8,784.1 C585.9,786.1 587.1,788.2 588.2,790.2 C589.3,792.2 590.5,794.3 591.7,796.3 C592.8,798.3 594.0,800.3 595.2,802.4 C596.3,804.4 597.5,806.4 598.7,808.4 C599.9,810.4 601.1,812.4 602.3,814.4 C603.5,816.4 604.7,818.4 606.0,820.4 C607.2,822.4 608.4,824.4 609.7,826.3 C611.0,828.3 612.2,830.3 613.5,832.2 C614.8,834.2 616.0,836.1 617.3,838.1 C618.6,840.0 620.0,841.9 621.3,843.9 C622.6,845.8 623.9,847.7 625.3,849.6 C626.6,851.5 628.0,853.4 629.4,855.3 C630.8,857.2 632.2,859.1 633.6,860.9 C635.0,862.8 636.4,864.6 637.8,866.5 C639.3,868.3 640.7,870.1 642.2,871.9 C643.7,873.8 645.2,875.5 646.7,877.3 C648.2,879.1 649.8,880.9 651.3,882.6 C652.9,884.3 654.4,886.1 656.0,887.8 C657.6,889.5 659.3,891.2 660.9,892.8 C662.6,894.5 664.2,896.1 665.9,897.7 C667.6,899.3 669.3,900.9 671.1,902.4 C672.8,904.0 674.6,905.5 676.4,907.0 C678.2,908.4 680.1,909.9 682.0,911.3 C683.8,912.7 685.7,914.0 687.7,915.3 C689.6,916.6 691.6,917.9 693.6,919.1 C695.6,920.3 697.7,921.4 699.7,922.5 C701.8,923.5 703.9,924.5 706.1,925.4 C708.2,926.4 710.4,927.2 712.6,927.9 C714.8,928.7 717.1,929.3 719.3,929.9 C721.6,930.4 723.9,930.9 726.2,931.2 C728.5,931.5 732.0,931.7 733.2,931.9" stroke="#5B9BD5" clip-path="url(#p2)"/>
<path d="M61.2,956.7 C62.3,956.4 65.6,955.3 67.9,954.7 C70.2,954.1 72.4,953.6 74.7,953.2 C77.0,952.7 79.4,952.4 81.7,952.2 C84.0,951.9 86.3,951.7 88.7,951.6 C91.0,951.5 93.3,951.5 95.7,951.5 C98.0,951.5 100.3,951.5 102.7,951.6 C105.0,951.7 107.3,951.9 109.7,952.1 C112.0,952.2 114.3,952.5 116.6,952.7 C119.0,952.9 121.3,953.1 123.6,953.4 C125.9,953.6 128.3,953.9 130.6,954.1 C132.9,954.4 135.2,954.6 137.6,954.8 C139.9,955.1 142.2,955.3 144.5,955.4 C146.9,955.6 149.2,955.8 151.5,955.9 C153.9,956.0 156.2,956.0 158.5,956.0 C160.9,956.0 163.2,956.0 165.6,955.8 C167.9,955.7 170.2,955.5 172.5,955.3 C174.9,955.0 177.2,954.7 179.5,954.2 C181.8,953.8 184.0,953.3 186.3,952.7 C188.5,952.1 190.8,951.4 193.0,950.6 C195.2,949.8 197.3,948.9 199.5,947.9 C201.6,947.0 203.7,945.9 205.7,944.8 C207.8,943.6 209.8,942.4 211.7,941.1 C213.7,939.9 215.6,938.5 217.4,937.1 C219.3,935.7 221.1,934.2 222.8,932.6 C224.6,931.1 226.3,929.5 228.0,927.9 C229.6,926.2 231.3,924.5 232.8,922.8 C234.4,921.1 236.0,919.3 237.5,917.6 C239.0,915.8 240.4,913.9 241.9,912.1 C243.3,910.3 244.7,908.4 246.1,906.5 C247.5,904.6 248.8,902.7 250.1,900.8 C251.4,898.8 252.7,896.9 254.0,894.9 C255.2,893.0 256.5,891.0 257.7,889.0 C258.9,887.0 260.1,885.0 261.3,883.0 C262.5,880.9 263.6,878.9 264.7,876.9 C265.9,874.8 267.0,872.8 268.1,870.7 C269.2,868.6 270.3,866.6 271.3,864.5 C272.4,862.4 273.4,860.3 274.5,858.2 C275.5,856.1 276.5,854.0 277.5,851.9 C278.5,849.8 279.5,847.7 280.5,845.6 C281.5,843.5 282.5,841.3 283.4,839.2 C284.4,837.1 285.3,834.9 286.2,832.8 C287.2,830.7 288.1,828.5 289.0,826.4 C289.9,824.2 290.9,822.1 291.8,819.9 C292.7,817.8 293.6,815.6 294.4,813.4 C295.3,811.3 296.2,809.1 297.1,806.9 C298.0,804.8 298.9,802.6 299.7,800.5 C300.6,798.3 301.5,796.1 302.3,793.9 C303.2,791.8 304.1,789.6 304.9,787.4 C305.8,785.3 306.7,783.1 307.5,780.9 C308.4,778.7 309.2,776.6 310.1,774.4 C310.9,772.2 311.8,770.0 312.6,767.9 C313.5,765.7 314.4,763.5 315.2,761.4 C316.1,759.2 316.9,757.0 317.8,754.8 C318.6,752.7 319.5,750.5 320.4,748.3 C321.2,746.1 322.1,744.0 322.9,741.8 C323.8,739.6 324.7,737.5 325.6,735.3 C326.4,733.1 327.3,731.0 328.2,728.8 C329.1,726.6 330.0,724.5 330.9,722.3 C331.7,720.2 332.6,718.0 333.5,715.8 C334.5,713.7 335.4,711.5 336.3,709.4 C337.2,707.2 338.1,705.1 339.1,703.0 C340.0,700.8 340.9,698.7 341.9,696.6 C342.9,694.4 343.8,692.3 344.8,690.2 C345.8,688.1 346.8,685.9 347.8,683.8 C348.8,681.7 349.8,679.6 350.9,677.5 C351.9,675.5 353.0,673.4 354.1,671.3 C355.1,669.2 356.2,667.2 357.4,665.1 C358.5,663.1 359.6,661.0 360.8,659.0 C361.9,657.0 363.1,655.0 364.3,653.0 C365.6,651.0 366.8,649.0 368.1,647.0 C369.3,645.1 370.6,643.1 371.9,641.2 C373.3,639.3 374.6,637.4 376.0,635.5 C377.4,633.6 378.8,631.8 380.3,629.9 C381.7,628.1 383.2,626.3 384.8,624.6 C386.3,622.8 387.9,621.1 389.5,619.4 C391.1,617.7 392.8,616.1 394.5,614.5 C396.2,612.9 398.0,611.4 399.8,609.9 C401.7,608.4 403.5,607.0 405.4,605.7 C407.4,604.4 409.4,603.1 411.4,602.0 C413.4,600.9 415.5,599.8 417.7,598.9 C419.8,598.0 422.0,597.2 424.3,596.6 C426.5,596.0 428.9,595.6 431.2,595.4 C433.5,595.2 435.9,595.3 438.2,595.6 C440.5,595.9 442.8,596.4 445.0,597.2 C447.2,597.9 449.3,598.9 451.3,600.1 C453.4,601.2 455.3,602.6 457.2,604.0 C459.0,605.4 460.7,607.0 462.4,608.6 C464.1,610.2 465.6,612.0 467.2,613.8 C468.7,615.5 470.1,617.4 471.5,619.3 C472.9,621.1 474.2,623.1 475.5,625.0 C476.8,626.9 478.1,628.9 479.4,630.8 C480.7,632.8 481.9,634.8 483.2,636.7 C484.5,638.7 485.8,640.6 487.1,642.6 C488.4,644.5 489.7,646.4 491.0,648.3 C492.4,650.3 493.7,652.2 495.1,654.1 C496.4,656.0 497.8,657.9 499.2,659.8 C500.5,661.7 501.9,663.6 503.2,665.5 C504.6,667.4 505.9,669.3 507.3,671.2 C508.6,673.1 509.9,675.0 511.3,677.0 C512.6,678.9 513.9,680.8 515.1,682.8 C516.4,684.8 517.6,686.7 518.9,688.7 C520.1,690.7 521.3,692.7 522.5,694.7 C523.7,696.7 524.9,698.8 526.1,700.8 C527.2,702.8 528.4,704.8 529.6,706.8 C530.7,708.9 531.9,710.9 533.1,712.9 C534.3,714.9 535.5,716.9 536.6,718.9 C537.8,720.9 539.1,722.9 540.3,724.9 C541.5,726.9 542.8,728.9 544.0,730.9 C545.3,732.8 546.5,734.8 547.8,736.7 C549.1,738.7 550.4,740.6 551.7,742.6 C553.0,744.5 554.3,746.5 555.6,748.4 C556.9,750.3 558.2,752.3 559.6,754.2 C560.9,756.1 562.2,758.0 563.5,760.0 C564.8,761.9 566.1,763.9 567.4,765.8 C568.7,767.8 570.0,769.7 571.2,771.7 C572.5,773.6 573.8,775.6 575.0,777.6 C576.3,779.5 577.5,781.5 578.7,783.5 C580.0,785.5 581.2,787.5 582.4,789.5 C583.6,791.5 584.8,793.5 586.0,795.5 C587.3,797.5 588.5,799.5 589.7,801.5 C590.9,803.5 592.1,805.5 593.3,807.5 C594.5,809.5 595.7,811.5 596.9,813.5 C598.1,815.5 599.3,817.5 600.5,819.5 C601.7,821.5 602.9,823.5 604.1,825.5 C605.3,827.5 606.5,829.5 607.7,831.5 C609.0,833.5 610.2,835.5 611.4,837.5 C612.7,839.4 613.9,841.4 615.2,843.4 C616.4,845.3 617.7,847.3 619.0,849.3 C620.2,851.2 621.5,853.2 622.8,855.1 C624.2,857.0 625.5,859.0 626.8,860.9 C628.2,862.8 629.5,864.7 630.9,866.6 C632.3,868.4 633.7,870.3 635.1,872.2 C636.6,874.0 638.0,875.8 639.5,877.6 C641.0,879.4 642.5,881.2 644.1,883.0 C645.6,884.7 647.2,886.4 648.8,888.1 C650.4,889.8 652.0,891.5 653.7,893.2 C655.3,894.8 657.0,896.4 658.8,898.0 C660.5,899.6 662.2,901.1 664.0,902.6 C665.8,904.1 667.6,905.6 669.5,907.0 C671.3,908.4 673.2,909.8 675.2,911.1 C677.1,912.5 679.0,913.8 681.0,915.0 C683.0,916.2 685.0,917.4 687.0,918.6 C689.1,919.7 691.1,920.8 693.2,921.8 C695.3,922.8 697.5,923.8 699.6,924.7 C701.8,925.6 703.9,926.5 706.1,927.3 C708.3,928.1 710.5,928.9 712.8,929.6 C715.0,930.3 717.2,930.9 719.5,931.5 C721.8,932.1 724.0,932.6 726.3,933.1 C728.6,933.6 732.1,934.2 733.2,934.4" stroke="#70AD47" clip-path="url(#p2)"/>
<path d="M61.2,957.6 C62.3,957.2 65.4,955.6 67.6,954.8 C69.8,953.9 72.0,953.2 74.2,952.5 C76.5,951.8 78.7,951.3 81.0,950.8 C83.3,950.4 85.6,950.0 88.0,949.7 C90.3,949.4 92.6,949.3 95.0,949.1 C97.3,949.0 99.6,949.0 102.0,949.0 C104.3,949.1 106.6,949.2 109.0,949.3 C111.3,949.5 113.6,949.7 116.0,949.9 C118.3,950.1 120.6,950.4 122.9,950.7 C125.2,951.0 127.6,951.3 129.9,951.7 C132.2,952.0 134.5,952.3 136.8,952.7 C139.1,953.0 141.4,953.4 143.8,953.7 C146.1,954.0 148.4,954.3 150.7,954.6 C153.0,954.9 155.4,955.2 157.7,955.4 C160.0,955.6 162.3,955.8 164.7,955.9 C167.0,956.0 169.3,956.1 171.7,956.1 C174.0,956.1 176.4,956.0 178.7,955.8 C181.0,955.7 183.4,955.5 185.7,955.1 C188.0,954.8 190.3,954.4 192.6,953.9 C194.8,953.4 197.1,952.7 199.3,952.0 C201.6,951.3 203.8,950.5 205.9,949.6 C208.1,948.7 210.2,947.7 212.2,946.6 C214.3,945.5 216.3,944.3 218.3,943.0 C220.2,941.8 222.2,940.4 224.0,939.0 C225.9,937.6 227.7,936.1 229.5,934.6 C231.2,933.0 232.9,931.4 234.6,929.8 C236.3,928.1 237.9,926.5 239.4,924.7 C241.0,923.0 242.5,921.2 244.0,919.4 C245.5,917.6 247.0,915.8 248.4,913.9 C249.8,912.0 251.1,910.1 252.5,908.2 C253.8,906.3 255.1,904.4 256.4,902.4 C257.7,900.4 258.9,898.4 260.1,896.5 C261.3,894.5 262.5,892.4 263.7,890.4 C264.8,888.4 265.9,886.3 267.0,884.3 C268.2,882.2 269.2,880.1 270.3,878.1 C271.4,876.0 272.4,873.9 273.4,871.8 C274.5,869.7 275.5,867.6 276.4,865.4 C277.4,863.3 278.4,861.2 279.3,859.1 C280.3,856.9 281.2,854.8 282.1,852.6 C283.1,850.5 284.0,848.3 284.8,846.1 C285.7,844.0 286.6,841.8 287.5,839.7 C288.4,837.5 289.2,835.3 290.1,833.1 C290.9,830.9 291.8,828.8 292.6,826.6 C293.4,824.4 294.2,822.2 295.1,820.0 C295.9,817.8 296.7,815.6 297.5,813.5 C298.3,811.3 299.1,809.1 299.9,806.9 C300.7,804.7 301.5,802.5 302.3,800.3 C303.1,798.1 303.9,795.9 304.7,793.7 C305.5,791.5 306.3,789.3 307.1,787.1 C307.9,784.9 308.6,782.7 309.4,780.5 C310.2,778.3 311.0,776.1 311.8,773.9 C312.6,771.7 313.3,769.5 314.1,767.3 C314.9,765.0 315.7,762.8 316.5,760.6 C317.3,758.4 318.1,756.2 318.9,754.0 C319.6,751.8 320.4,749.6 321.2,747.4 C322.0,745.2 322.8,743.1 323.6,740.9 C324.4,738.7 325.3,736.5 326.1,734.3 C326.9,732.1 327.7,729.9 328.5,727.7 C329.4,725.5 330.2,723.3 331.0,721.2 C331.9,719.0 332.7,716.8 333.6,714.6 C334.4,712.4 335.3,710.3 336.2,708.1 C337.0,705.9 337.9,703.8 338.8,701.6 C339.7,699.4 340.6,697.3 341.6,695.1 C342.5,693.0 343.4,690.9 344.4,688.7 C345.3,686.6 346.3,684.5 347.3,682.4 C348.3,680.2 349.3,678.1 350.4,676.0 C351.4,674.0 352.5,671.9 353.6,669.8 C354.7,667.7 355.8,665.7 356.9,663.6 C358.0,661.6 359.2,659.6 360.4,657.6 C361.6,655.5 362.8,653.6 364.1,651.6 C365.4,649.6 366.7,647.7 368.0,645.8 C369.3,643.8 370.7,641.9 372.1,640.1 C373.5,638.2 374.9,636.4 376.4,634.5 C377.9,632.7 379.4,630.9 380.9,629.2 C382.4,627.4 384.0,625.6 385.6,623.9 C387.1,622.2 388.7,620.5 390.4,618.8 C392.0,617.1 393.6,615.4 395.3,613.8 C396.9,612.1 398.6,610.5 400.3,608.9 C402.0,607.3 403.8,605.8 405.6,604.3 C407.4,602.8 409.3,601.4 411.2,600.1 C413.1,598.8 415.1,597.5 417.2,596.5 C419.3,595.5 421.5,594.6 423.8,594.1 C426.0,593.5 428.4,593.2 430.7,593.3 C433.0,593.5 435.4,594.1 437.6,594.8 C439.7,595.6 441.8,596.8 443.8,598.0 C445.8,599.2 447.7,600.6 449.5,602.1 C451.3,603.5 453.1,605.1 454.7,606.7 C456.4,608.3 458.0,610.0 459.6,611.7 C461.2,613.5 462.8,615.2 464.3,617.0 C465.8,618.8 467.3,620.6 468.8,622.4 C470.3,624.2 471.7,626.0 473.2,627.8 C474.6,629.7 476.0,631.5 477.5,633.4 C478.9,635.3 480.3,637.1 481.7,639.0 C483.0,640.9 484.4,642.8 485.8,644.7 C487.1,646.6 488.5,648.5 489.8,650.4 C491.1,652.4 492.5,654.3 493.8,656.2 C495.1,658.2 496.4,660.1 497.6,662.1 C498.9,664.0 500.2,666.0 501.5,668.0 C502.7,669.9 504.0,671.9 505.2,673.9 C506.5,675.9 507.7,677.9 508.9,679.8 C510.1,681.8 511.4,683.8 512.6,685.8 C513.8,687.8 515.0,689.8 516.2,691.8 C517.4,693.8 518.6,695.8 519.8,697.8 C521.0,699.8 522.2,701.8 523.4,703.8 C524.6,705.9 525.8,707.9 527.1,709.9 C528.3,711.9 529.5,713.9 530.7,715.9 C531.9,717.8 533.1,719.8 534.4,721.8 C535.6,723.8 536.8,725.8 538.1,727.8 C539.3,729.8 540.6,731.7 541.8,733.7 C543.1,735.7 544.4,737.6 545.6,739.6 C546.9,741.6 548.2,743.5 549.5,745.5 C550.7,747.4 552.0,749.4 553.3,751.3 C554.6,753.3 555.9,755.3 557.1,757.2 C558.4,759.2 559.7,761.1 561.0,763.1 C562.2,765.1 563.5,767.0 564.8,769.0 C566.0,771.0 567.3,772.9 568.5,774.9 C569.8,776.9 571.0,778.9 572.3,780.8 C573.5,782.8 574.8,784.8 576.0,786.8 C577.2,788.8 578.5,790.8 579.7,792.7 C580.9,794.7 582.1,796.7 583.4,798.7 C584.6,800.7 585.8,802.7 587.0,804.7 C588.3,806.7 589.5,808.7 590.7,810.7 C592.0,812.6 593.2,814.6 594.4,816.6 C595.7,818.6 596.9,820.6 598.1,822.6 C599.4,824.6 600.6,826.5 601.9,828.5 C603.1,830.5 604.4,832.4 605.7,834.4 C606.9,836.4 608.2,838.3 609.5,840.3 C610.8,842.2 612.1,844.2 613.4,846.1 C614.7,848.1 616.0,850.0 617.3,851.9 C618.6,853.9 620.0,855.8 621.3,857.7 C622.7,859.6 624.1,861.5 625.5,863.3 C626.9,865.2 628.3,867.1 629.7,868.9 C631.1,870.8 632.6,872.6 634.1,874.4 C635.6,876.2 637.1,878.0 638.6,879.8 C640.1,881.5 641.7,883.3 643.3,885.0 C644.9,886.7 646.5,888.4 648.2,890.0 C649.8,891.7 651.5,893.3 653.2,894.9 C654.9,896.5 656.6,898.1 658.4,899.7 C660.1,901.2 661.9,902.7 663.8,904.2 C665.6,905.6 667.4,907.0 669.3,908.4 C671.2,909.8 673.1,911.2 675.0,912.5 C677.0,913.8 679.0,915.0 681.0,916.2 C683.0,917.4 685.0,918.6 687.0,919.7 C689.1,920.8 691.2,921.9 693.3,922.9 C695.4,923.9 697.5,924.9 699.7,925.8 C701.8,926.7 704.0,927.6 706.2,928.4 C708.4,929.2 710.6,930.0 712.8,930.7 C715.0,931.4 717.3,932.1 719.5,932.7 C721.8,933.3 724.1,933.9 726.3,934.4 C728.6,935.0 732.1,935.6 733.2,935.9" stroke="#264478" clip-path="url(#p2)"/>
<path d="M61.2,955.2 C62.4,955.1 65.8,954.6 68.2,954.4 C70.5,954.2 72.9,954.0 75.2,953.9 C77.5,953.8 79.9,953.8 82.2,953.7 C84.6,953.7 86.9,953.7 89.2,953.8 C91.6,953.8 93.9,953.9 96.3,954.0 C98.6,954.1 101.0,954.2 103.3,954.3 C105.6,954.4 108.0,954.6 110.3,954.7 C112.6,954.8 115.0,955.0 117.3,955.1 C119.7,955.2 122.0,955.4 124.3,955.4 C126.7,955.5 129.0,955.6 131.4,955.7 C133.7,955.7 136.1,955.8 138.4,955.7 C140.7,955.7 143.1,955.7 145.4,955.6 C147.8,955.5 150.1,955.3 152.4,955.1 C154.8,954.9 157.1,954.7 159.4,954.4 C161.7,954.0 164.1,953.7 166.4,953.2 C168.7,952.8 170.9,952.2 173.2,951.6 C175.5,951.0 177.7,950.4 179.9,949.6 C182.2,948.9 184.4,948.0 186.5,947.1 C188.7,946.2 190.8,945.3 192.9,944.2 C195.0,943.2 197.1,942.1 199.1,940.9 C201.1,939.7 203.1,938.4 205.0,937.1 C207.0,935.8 208.9,934.4 210.7,933.0 C212.6,931.6 214.4,930.1 216.2,928.6 C218.0,927.0 219.7,925.5 221.4,923.8 C223.1,922.2 224.7,920.5 226.3,918.8 C227.9,917.1 229.5,915.4 231.0,913.6 C232.5,911.8 234.0,910.0 235.5,908.2 C236.9,906.3 238.3,904.5 239.7,902.6 C241.1,900.7 242.4,898.8 243.7,896.8 C245.1,894.9 246.3,892.9 247.6,890.9 C248.9,889.0 250.1,887.0 251.3,885.0 C252.5,882.9 253.7,880.9 254.8,878.9 C256.0,876.8 257.1,874.8 258.2,872.7 C259.3,870.7 260.4,868.6 261.5,866.5 C262.5,864.4 263.6,862.3 264.6,860.2 C265.6,858.1 266.6,856.0 267.6,853.9 C268.6,851.7 269.6,849.6 270.6,847.5 C271.5,845.3 272.5,843.2 273.4,841.0 C274.3,838.9 275.2,836.7 276.1,834.6 C277.0,832.4 277.9,830.2 278.8,828.1 C279.7,825.9 280.5,823.7 281.4,821.5 C282.2,819.3 283.0,817.1 283.9,815.0 C284.7,812.8 285.5,810.6 286.3,808.4 C287.1,806.2 288.0,804.0 288.8,801.8 C289.6,799.6 290.4,797.4 291.1,795.2 C291.9,793.0 292.7,790.8 293.5,788.5 C294.3,786.3 295.1,784.1 295.9,781.9 C296.7,779.7 297.5,777.5 298.2,775.3 C299.0,773.1 299.8,770.9 300.6,768.7 C301.4,766.5 302.2,764.3 303.0,762.1 C303.8,759.9 304.6,757.7 305.4,755.5 C306.2,753.3 307.0,751.1 307.9,748.9 C308.7,746.7 309.5,744.5 310.3,742.3 C311.2,740.1 312.0,737.9 312.8,735.7 C313.7,733.6 314.5,731.4 315.4,729.2 C316.2,727.0 317.1,724.8 318.0,722.6 C318.8,720.5 319.7,718.3 320.6,716.1 C321.5,714.0 322.4,711.8 323.3,709.6 C324.2,707.5 325.1,705.3 326.0,703.1 C326.9,701.0 327.8,698.8 328.7,696.7 C329.7,694.5 330.6,692.4 331.6,690.2 C332.5,688.1 333.5,686.0 334.4,683.8 C335.4,681.7 336.4,679.6 337.4,677.5 C338.4,675.3 339.4,673.2 340.4,671.1 C341.4,669.0 342.5,666.9 343.5,664.8 C344.6,662.7 345.7,660.6 346.7,658.6 C347.8,656.5 348.9,654.4 350.1,652.4 C351.2,650.3 352.3,648.3 353.5,646.2 C354.7,644.2 355.9,642.2 357.1,640.2 C358.3,638.2 359.6,636.2 360.8,634.2 C362.1,632.3 363.5,630.4 364.8,628.5 C366.2,626.5 367.6,624.7 369.0,622.8 C370.5,621.0 372.0,619.2 373.5,617.4 C375.1,615.7 376.7,613.9 378.3,612.3 C380.0,610.6 381.7,609.0 383.4,607.5 C385.2,605.9 387.0,604.4 388.9,603.1 C390.8,601.7 392.8,600.4 394.8,599.2 C396.8,598.0 398.9,596.9 401.0,595.9 C403.2,595.0 405.4,594.2 407.6,593.6 C409.9,593.1 412.3,592.7 414.6,592.6 C416.9,592.5 419.3,592.8 421.6,593.2 C423.8,593.7 426.1,594.4 428.3,595.3 C430.4,596.2 432.5,597.3 434.5,598.4 C436.6,599.6 438.5,601.0 440.4,602.4 C442.3,603.7 444.1,605.2 445.8,606.8 C447.6,608.3 449.3,609.9 451.0,611.5 C452.7,613.2 454.3,614.8 455.9,616.5 C457.5,618.2 459.1,620.0 460.7,621.8 C462.2,623.5 463.7,625.3 465.2,627.1 C466.7,628.9 468.2,630.7 469.6,632.6 C471.1,634.4 472.5,636.3 474.0,638.1 C475.4,640.0 476.8,641.8 478.2,643.7 C479.6,645.6 481.0,647.5 482.3,649.4 C483.7,651.3 485.1,653.2 486.4,655.1 C487.7,657.0 489.1,659.0 490.4,660.9 C491.7,662.8 493.1,664.8 494.4,666.7 C495.7,668.7 497.0,670.6 498.3,672.6 C499.6,674.5 500.8,676.5 502.1,678.4 C503.4,680.4 504.7,682.4 505.9,684.4 C507.2,686.3 508.4,688.3 509.7,690.3 C510.9,692.3 512.1,694.3 513.4,696.3 C514.6,698.3 515.8,700.3 517.0,702.3 C518.2,704.3 519.4,706.3 520.5,708.4 C521.7,710.4 522.9,712.4 524.0,714.5 C525.2,716.5 526.3,718.5 527.5,720.6 C528.6,722.6 529.8,724.7 530.9,726.7 C532.1,728.7 533.3,730.8 534.4,732.8 C535.6,734.8 536.7,736.9 537.9,738.9 C539.1,740.9 540.3,743.0 541.5,745.0 C542.7,747.0 543.8,749.0 545.0,751.0 C546.3,753.0 547.5,755.0 548.7,757.0 C549.9,759.0 551.1,761.0 552.3,763.0 C553.6,765.0 554.8,767.0 556.1,769.0 C557.3,771.0 558.5,773.0 559.8,775.0 C561.0,776.9 562.3,778.9 563.6,780.9 C564.8,782.9 566.1,784.8 567.4,786.8 C568.7,788.8 569.9,790.7 571.2,792.7 C572.5,794.6 573.8,796.6 575.1,798.5 C576.4,800.5 577.7,802.4 579.0,804.4 C580.3,806.3 581.6,808.3 582.9,810.2 C584.2,812.2 585.5,814.1 586.9,816.0 C588.2,818.0 589.5,819.9 590.8,821.8 C592.2,823.8 593.5,825.7 594.8,827.6 C596.2,829.6 597.5,831.5 598.9,833.4 C600.2,835.3 601.6,837.2 602.9,839.1 C604.3,841.0 605.6,842.9 607.0,844.8 C608.4,846.7 609.8,848.6 611.2,850.5 C612.6,852.4 614.0,854.3 615.4,856.1 C616.8,858.0 618.2,859.9 619.7,861.7 C621.1,863.6 622.5,865.4 624.0,867.2 C625.5,869.1 626.9,870.9 628.4,872.7 C629.9,874.5 631.4,876.3 632.9,878.1 C634.4,879.9 636.0,881.7 637.5,883.4 C639.1,885.2 640.6,886.9 642.2,888.6 C643.8,890.3 645.4,892.1 647.1,893.7 C648.7,895.4 650.4,897.1 652.1,898.7 C653.7,900.3 655.5,901.9 657.2,903.5 C658.9,905.0 660.7,906.6 662.5,908.1 C664.3,909.5 666.2,911.0 668.1,912.4 C669.9,913.8 671.9,915.1 673.8,916.4 C675.8,917.7 677.8,918.9 679.8,920.0 C681.9,921.2 684.0,922.2 686.1,923.2 C688.3,924.2 690.4,925.1 692.6,925.9 C694.8,926.7 697.0,927.5 699.3,928.2 C701.5,928.9 703.8,929.5 706.0,930.1 C708.3,930.7 710.5,931.3 712.8,931.9 C715.1,932.5 717.4,933.0 719.6,933.6 C721.9,934.2 724.2,934.7 726.4,935.3 C728.7,935.9 732.1,936.9 733.2,937.3" stroke="#9E480E" clip-path="url(#p2)"/>
<path d="M61.2,941.6 C62.2,941.0 65.1,938.9 67.0,937.6 C69.0,936.3 70.9,935.1 72.9,933.8 C74.9,932.5 76.9,931.3 78.8,930.0 C80.8,928.7 82.8,927.4 84.7,926.1 C86.6,924.8 88.6,923.4 90.5,922.0 C92.3,920.6 94.2,919.2 96.0,917.7 C97.9,916.3 99.7,914.7 101.4,913.2 C103.1,911.6 104.8,910.0 106.5,908.3 C108.1,906.6 109.8,904.9 111.3,903.2 C112.9,901.4 114.4,899.6 115.8,897.8 C117.3,895.9 118.7,894.0 120.1,892.1 C121.5,890.2 122.8,888.3 124.1,886.3 C125.4,884.4 126.6,882.4 127.8,880.4 C129.0,878.4 130.2,876.3 131.3,874.3 C132.5,872.2 133.6,870.1 134.6,868.0 C135.7,866.0 136.7,863.8 137.8,861.7 C138.8,859.6 139.8,857.5 140.7,855.3 C141.7,853.2 142.6,851.0 143.5,848.9 C144.5,846.7 145.3,844.5 146.2,842.4 C147.1,840.2 148.0,838.0 148.8,835.8 C149.6,833.6 150.5,831.4 151.3,829.2 C152.1,827.0 152.9,824.8 153.7,822.6 C154.4,820.4 155.2,818.2 156.0,815.9 C156.7,813.7 157.5,811.5 158.2,809.2 C158.9,807.0 159.6,804.8 160.3,802.5 C161.0,800.3 161.7,798.1 162.4,795.8 C163.1,793.6 163.8,791.3 164.5,789.1 C165.1,786.8 165.8,784.6 166.4,782.3 C167.1,780.0 167.7,777.8 168.4,775.5 C169.0,773.3 169.6,771.0 170.2,768.7 C170.9,766.5 171.5,764.2 172.1,761.9 C172.7,759.7 173.3,757.4 173.9,755.1 C174.4,752.9 175.0,750.6 175.6,748.3 C176.2,746.0 176.8,743.7 177.3,741.5 C177.9,739.2 178.4,736.9 179.0,734.6 C179.5,732.3 180.1,730.1 180.6,727.8 C181.2,725.5 181.7,723.2 182.2,720.9 C182.8,718.6 183.3,716.3 183.8,714.1 C184.4,711.8 184.9,709.5 185.4,707.2 C185.9,704.9 186.4,702.6 187.0,700.3 C187.5,698.0 188.0,695.7 188.5,693.4 C189.0,691.2 189.6,688.9 190.1,686.6 C190.6,684.3 191.1,682.0 191.7,679.7 C192.2,677.4 192.7,675.1 193.2,672.8 C193.8,670.6 194.3,668.3 194.9,666.0 C195.4,663.7 196.0,661.4 196.5,659.1 C197.1,656.9 197.6,654.6 198.2,652.3 C198.8,650.0 199.4,647.8 200.0,645.5 C200.6,643.2 201.2,640.9 201.8,638.7 C202.4,636.4 203.1,634.2 203.7,631.9 C204.4,629.7 205.1,627.4 205.8,625.2 C206.6,623.0 207.3,620.7 208.1,618.5 C208.9,616.3 209.7,614.1 210.6,611.9 C211.5,609.8 212.5,607.6 213.5,605.5 C214.6,603.4 215.7,601.3 217.0,599.4 C218.4,597.5 219.8,595.3 221.6,594.1 C223.5,593.0 226.1,592.0 228.2,592.3 C230.3,592.5 232.5,594.3 234.2,595.7 C236.0,597.2 237.4,599.2 238.8,601.1 C240.2,602.9 241.4,605.0 242.6,607.0 C243.8,609.0 244.9,611.1 246.0,613.2 C247.1,615.3 248.1,617.4 249.1,619.5 C250.1,621.6 251.0,623.8 252.0,625.9 C252.9,628.1 253.9,630.2 254.8,632.4 C255.7,634.5 256.6,636.7 257.5,638.9 C258.4,641.0 259.3,643.2 260.2,645.4 C261.1,647.6 262.0,649.7 262.8,651.9 C263.7,654.1 264.6,656.3 265.5,658.4 C266.4,660.6 267.3,662.8 268.2,664.9 C269.1,667.1 270.0,669.3 271.0,671.4 C271.9,673.6 272.8,675.7 273.7,677.9 C274.7,680.1 275.6,682.2 276.5,684.4 C277.5,686.5 278.4,688.7 279.3,690.8 C280.2,693.0 281.2,695.2 282.1,697.3 C283.0,699.5 283.9,701.6 284.8,703.8 C285.7,706.0 286.6,708.2 287.5,710.3 C288.3,712.5 289.2,714.7 290.0,716.9 C290.9,719.1 291.7,721.3 292.6,723.5 C293.4,725.7 294.2,727.9 295.0,730.1 C295.8,732.3 296.6,734.5 297.4,736.7 C298.2,738.9 299.0,741.1 299.8,743.3 C300.6,745.5 301.4,747.7 302.2,749.9 C303.0,752.2 303.8,754.4 304.6,756.6 C305.4,758.8 306.2,761.0 307.0,763.2 C307.8,765.4 308.6,767.6 309.4,769.8 C310.2,772.0 311.1,774.2 311.9,776.4 C312.7,778.6 313.6,780.8 314.4,783.0 C315.3,785.2 316.1,787.4 317.0,789.5 C317.9,791.7 318.8,793.9 319.7,796.0 C320.6,798.2 321.6,800.3 322.5,802.5 C323.5,804.6 324.5,806.8 325.5,808.9 C326.5,811.0 327.5,813.1 328.6,815.2 C329.6,817.3 330.7,819.4 331.8,821.5 C332.9,823.6 334.0,825.6 335.1,827.7 C336.3,829.8 337.4,831.8 338.6,833.8 C339.8,835.8 341.0,837.9 342.2,839.9 C343.5,841.9 344.7,843.8 346.0,845.8 C347.3,847.8 348.6,849.7 349.9,851.7 C351.3,853.6 352.6,855.5 354.0,857.4 C355.4,859.3 356.8,861.2 358.2,863.1 C359.6,864.9 361.0,866.8 362.5,868.6 C364.0,870.5 365.5,872.3 367.0,874.1 C368.5,875.8 370.1,877.6 371.7,879.3 C373.2,881.1 374.8,882.8 376.5,884.5 C378.1,886.2 379.8,887.8 381.5,889.4 C383.2,891.0 384.9,892.6 386.7,894.2 C388.5,895.7 390.3,897.2 392.1,898.7 C393.9,900.1 395.8,901.6 397.7,902.9 C399.6,904.3 401.6,905.6 403.5,906.9 C405.5,908.2 407.5,909.4 409.5,910.6 C411.5,911.8 413.6,913.0 415.7,914.1 C417.7,915.2 419.8,916.2 422.0,917.2 C424.1,918.2 426.2,919.2 428.4,920.2 C430.5,921.1 432.7,922.0 434.9,922.9 C437.0,923.8 439.2,924.6 441.4,925.5 C443.6,926.3 445.8,927.1 448.0,928.0 C450.2,928.8 452.4,929.6 454.6,930.4 C456.8,931.2 459.0,932.0 461.3,932.7 C463.5,933.5 465.7,934.3 467.9,935.0 C470.1,935.8 472.4,936.5 474.6,937.3 C476.8,938.0 479.1,938.7 481.3,939.4 C483.6,940.1 485.8,940.8 488.1,941.4 C490.3,942.1 492.6,942.7 494.8,943.3 C497.1,943.9 499.4,944.5 501.7,945.1 C503.9,945.7 506.2,946.2 508.5,946.8 C510.8,947.3 513.1,947.8 515.4,948.3 C517.7,948.7 520.0,949.2 522.3,949.6 C524.6,950.0 526.9,950.4 529.2,950.8 C531.6,951.2 533.9,951.6 536.2,951.9 C538.5,952.2 540.9,952.6 543.2,952.9 C545.5,953.2 547.8,953.4 550.2,953.7 C552.5,953.9 554.8,954.2 557.2,954.4 C559.5,954.6 561.9,954.8 564.2,955.0 C566.5,955.2 568.9,955.4 571.2,955.5 C573.6,955.7 575.9,955.8 578.3,955.9 C580.6,956.1 583.0,956.2 585.3,956.3 C587.6,956.4 590.0,956.5 592.3,956.5 C594.7,956.6 597.0,956.7 599.4,956.7 C601.7,956.8 604.1,956.8 606.4,956.8 C608.8,956.9 611.1,956.9 613.5,956.9 C615.8,956.9 618.2,956.9 620.5,956.9 C622.9,956.9 625.2,956.9 627.6,956.9 C629.9,956.9 632.3,956.9 634.6,956.9 C636.9,956.9 639.3,956.8 641.6,956.8 C644.0,956.8 646.3,956.8 648.7,956.7 C651.0,956.7 653.4,956.7 655.7,956.7 C658.1,956.6 660.4,956.6 662.8,956.6 C665.1,956.5 667.5,956.5 669.8,956.5 C672.2,956.5 674.5,956.5 676.9,956.4 C679.2,956.4 681.6,956.4 683.9,956.4 C686.3,956.4 688.6,956.4 691.0,956.4 C693.3,956.4 695.7,956.4 698.0,956.5 C700.3,956.5 702.7,956.5 705.0,956.5 C707.4,956.6 709.7,956.6 712.1,956.7 C714.4,956.8 716.8,956.8 719.1,956.9 C721.5,957.0 723.8,957.1 726.2,957.2 C728.5,957.3 732.0,957.5 733.2,957.6" stroke="#636363" clip-path="url(#p2)"/>
<path d="M61.2,928.6 C62.2,929.3 65.0,931.3 66.9,932.7 C68.9,934.0 70.8,935.3 72.8,936.6 C74.7,937.9 76.7,939.1 78.7,940.3 C80.8,941.5 82.8,942.6 84.9,943.7 C87.0,944.7 89.1,945.7 91.3,946.6 C93.4,947.5 95.6,948.3 97.9,949.0 C100.1,949.6 102.4,950.1 104.8,950.5 C107.1,950.8 109.4,950.9 111.8,950.9 C114.1,950.8 116.4,950.5 118.7,950.0 C121.0,949.5 123.3,948.8 125.4,947.9 C127.5,947.0 129.6,945.8 131.6,944.6 C133.6,943.4 135.5,941.9 137.3,940.5 C139.1,939.0 140.8,937.4 142.5,935.7 C144.2,934.1 145.8,932.4 147.3,930.6 C148.8,928.9 150.3,927.0 151.8,925.2 C153.2,923.3 154.6,921.4 155.9,919.5 C157.3,917.6 158.6,915.7 159.9,913.7 C161.1,911.7 162.4,909.8 163.6,907.7 C164.8,905.7 166.0,903.7 167.1,901.7 C168.3,899.6 169.4,897.6 170.5,895.5 C171.6,893.5 172.7,891.4 173.7,889.3 C174.8,887.2 175.9,885.1 176.9,883.0 C177.9,880.9 178.9,878.8 180.0,876.7 C181.0,874.6 182.0,872.5 182.9,870.3 C183.9,868.2 184.9,866.1 185.9,863.9 C186.9,861.8 187.8,859.7 188.8,857.5 C189.7,855.4 190.7,853.3 191.6,851.1 C192.6,849.0 193.5,846.8 194.5,844.7 C195.4,842.6 196.4,840.4 197.3,838.3 C198.2,836.1 199.2,834.0 200.1,831.8 C201.0,829.7 202.0,827.5 202.9,825.4 C203.9,823.2 204.8,821.1 205.7,819.0 C206.7,816.8 207.6,814.7 208.6,812.5 C209.5,810.4 210.5,808.2 211.4,806.1 C212.4,804.0 213.3,801.8 214.3,799.7 C215.3,797.6 216.2,795.4 217.2,793.3 C218.2,791.2 219.1,789.0 220.1,786.9 C221.1,784.8 222.1,782.6 223.0,780.5 C224.0,778.4 225.0,776.3 226.0,774.1 C227.0,772.0 228.0,769.9 229.0,767.8 C230.0,765.6 231.0,763.5 232.0,761.4 C233.0,759.3 234.0,757.2 235.0,755.1 C236.0,753.0 237.0,750.8 238.0,748.7 C239.0,746.6 240.1,744.5 241.1,742.4 C242.1,740.3 243.2,738.2 244.2,736.1 C245.2,734.0 246.3,731.9 247.3,729.8 C248.4,727.7 249.4,725.6 250.5,723.5 C251.5,721.4 252.6,719.4 253.7,717.3 C254.7,715.2 255.8,713.1 256.9,711.0 C257.9,708.9 259.0,706.9 260.1,704.8 C261.2,702.7 262.3,700.6 263.4,698.6 C264.5,696.5 265.6,694.4 266.7,692.4 C267.8,690.3 268.9,688.3 270.1,686.2 C271.2,684.2 272.3,682.1 273.5,680.1 C274.6,678.0 275.7,676.0 276.9,673.9 C278.0,671.9 279.2,669.9 280.4,667.8 C281.5,665.8 282.7,663.8 283.9,661.7 C285.1,659.7 286.3,657.7 287.5,655.7 C288.7,653.7 289.9,651.7 291.1,649.7 C292.3,647.7 293.5,645.7 294.8,643.7 C296.0,641.7 297.3,639.7 298.5,637.8 C299.8,635.8 301.1,633.8 302.4,631.9 C303.7,629.9 305.0,628.0 306.4,626.1 C307.7,624.2 309.1,622.3 310.5,620.4 C312.0,618.6 313.4,616.7 314.9,614.9 C316.4,613.1 317.9,611.3 319.5,609.6 C321.1,607.9 322.7,606.2 324.4,604.6 C326.2,603.1 327.9,601.5 329.8,600.1 C331.7,598.7 333.7,597.4 335.7,596.3 C337.8,595.3 340.0,594.4 342.2,593.7 C344.5,593.1 346.8,592.8 349.2,592.6 C351.5,592.5 353.9,592.6 356.2,592.8 C358.5,593.1 360.8,593.5 363.1,594.0 C365.4,594.4 367.7,595.0 369.9,595.6 C372.2,596.2 374.5,596.9 376.7,597.6 C378.9,598.3 381.2,599.0 383.4,599.8 C385.6,600.6 387.8,601.4 390.0,602.2 C392.1,603.1 394.3,604.0 396.5,604.9 C398.6,605.8 400.8,606.8 402.9,607.7 C405.0,608.7 407.1,609.7 409.2,610.7 C411.3,611.8 413.4,612.8 415.5,613.9 C417.6,615.0 419.7,616.0 421.7,617.2 C423.8,618.3 425.8,619.5 427.8,620.7 C429.8,621.9 431.8,623.1 433.7,624.4 C435.7,625.7 437.6,627.1 439.5,628.5 C441.3,629.9 443.2,631.4 445.0,632.9 C446.7,634.4 448.5,636.0 450.2,637.6 C451.8,639.2 453.5,640.9 455.1,642.6 C456.7,644.3 458.2,646.1 459.7,647.9 C461.2,649.7 462.7,651.5 464.1,653.4 C465.5,655.2 466.9,657.1 468.3,659.0 C469.7,660.9 471.0,662.9 472.3,664.8 C473.6,666.7 474.9,668.7 476.2,670.6 C477.5,672.6 478.7,674.6 480.0,676.6 C481.2,678.5 482.5,680.5 483.7,682.5 C484.9,684.5 486.1,686.5 487.3,688.5 C488.6,690.5 489.8,692.5 491.0,694.6 C492.2,696.6 493.3,698.6 494.5,700.6 C495.7,702.6 496.9,704.6 498.1,706.7 C499.3,708.7 500.5,710.7 501.7,712.7 C502.9,714.7 504.1,716.7 505.3,718.8 C506.5,720.8 507.6,722.8 508.9,724.8 C510.1,726.8 511.3,728.8 512.5,730.8 C513.7,732.8 514.9,734.8 516.1,736.8 C517.3,738.8 518.5,740.8 519.8,742.8 C521.0,744.8 522.2,746.8 523.4,748.8 C524.7,750.8 525.9,752.8 527.1,754.8 C528.4,756.8 529.6,758.8 530.9,760.7 C532.1,762.7 533.4,764.7 534.6,766.7 C535.9,768.6 537.2,770.6 538.4,772.6 C539.7,774.6 541.0,776.5 542.3,778.5 C543.6,780.4 544.8,782.4 546.1,784.3 C547.4,786.3 548.7,788.2 550.0,790.2 C551.4,792.1 552.7,794.0 554.0,796.0 C555.3,797.9 556.7,799.8 558.0,801.8 C559.3,803.7 560.7,805.6 562.0,807.5 C563.4,809.4 564.7,811.3 566.1,813.2 C567.5,815.1 568.9,817.0 570.2,818.9 C571.6,820.8 573.0,822.7 574.4,824.6 C575.8,826.4 577.2,828.3 578.7,830.2 C580.1,832.0 581.5,833.9 583.0,835.7 C584.4,837.6 585.9,839.4 587.3,841.2 C588.8,843.1 590.2,844.9 591.7,846.7 C593.2,848.5 594.7,850.3 596.2,852.1 C597.7,853.9 599.2,855.7 600.7,857.5 C602.3,859.3 603.8,861.0 605.4,862.8 C606.9,864.5 608.5,866.3 610.0,868.0 C611.6,869.7 613.2,871.5 614.8,873.2 C616.4,874.9 618.0,876.6 619.7,878.3 C621.3,879.9 622.9,881.6 624.6,883.3 C626.3,884.9 627.9,886.5 629.6,888.2 C631.3,889.8 633.0,891.4 634.8,893.0 C636.5,894.6 638.2,896.1 640.0,897.7 C641.7,899.2 643.5,900.7 645.3,902.2 C647.1,903.7 648.9,905.2 650.8,906.7 C652.6,908.1 654.5,909.6 656.3,911.0 C658.2,912.4 660.1,913.7 662.0,915.1 C663.9,916.4 665.9,917.7 667.9,919.0 C669.8,920.3 671.8,921.5 673.8,922.7 C675.8,923.9 677.8,925.1 679.9,926.2 C682.0,927.4 684.0,928.4 686.1,929.5 C688.2,930.5 690.4,931.5 692.5,932.4 C694.6,933.4 696.8,934.3 699.0,935.1 C701.2,935.9 703.4,936.7 705.6,937.4 C707.9,938.1 710.1,938.7 712.4,939.3 C714.7,939.9 717.0,940.4 719.3,940.8 C721.6,941.3 723.9,941.6 726.2,941.9 C728.5,942.2 732.0,942.4 733.2,942.5" stroke="#997300" clip-path="url(#p2)"/>
<path d="M61.2,952.0 C62.4,952.2 65.8,952.7 68.1,953.0 C70.5,953.3 72.8,953.6 75.1,953.8 C77.4,954.0 79.8,954.2 82.1,954.4 C84.4,954.5 86.8,954.6 89.1,954.7 C91.5,954.7 93.8,954.8 96.1,954.8 C98.5,954.8 100.8,954.7 103.1,954.6 C105.5,954.6 107.8,954.5 110.2,954.3 C112.5,954.2 114.8,954.0 117.1,953.8 C119.5,953.6 121.8,953.3 124.1,953.0 C126.4,952.8 128.8,952.5 131.1,952.1 C133.4,951.8 135.7,951.4 138.0,951.0 C140.3,950.6 142.6,950.2 144.9,949.7 C147.2,949.3 149.5,948.9 151.8,948.3 C154.0,947.6 156.3,946.9 158.3,945.7 C160.2,944.5 161.9,942.8 163.4,941.0 C164.9,939.2 166.0,937.1 167.1,935.0 C168.2,933.0 169.1,930.8 169.9,928.6 C170.8,926.5 171.6,924.2 172.3,922.0 C173.0,919.8 173.6,917.5 174.2,915.3 C174.7,913.0 175.2,910.7 175.7,908.4 C176.2,906.1 176.6,903.8 177.0,901.5 C177.4,899.2 177.8,896.9 178.2,894.6 C178.5,892.3 178.9,890.0 179.2,887.7 C179.6,885.4 179.9,883.0 180.2,880.7 C180.5,878.4 180.9,876.1 181.2,873.8 C181.5,871.5 181.8,869.1 182.1,866.8 C182.4,864.5 182.7,862.2 183.0,859.9 C183.3,857.6 183.6,855.2 183.9,852.9 C184.2,850.6 184.5,848.3 184.8,846.0 C185.1,843.6 185.4,841.3 185.7,839.0 C186.1,836.7 186.4,834.4 186.7,832.1 C187.0,829.7 187.3,827.4 187.6,825.1 C187.9,822.8 188.3,820.5 188.6,818.2 C188.9,815.8 189.3,813.5 189.6,811.2 C190.0,808.9 190.3,806.6 190.7,804.3 C191.1,802.0 191.4,799.7 191.8,797.4 C192.2,795.0 192.6,792.7 193.0,790.4 C193.4,788.1 193.7,785.8 194.1,783.5 C194.5,781.2 194.9,778.9 195.4,776.6 C195.8,774.3 196.2,772.0 196.6,769.7 C197.0,767.4 197.4,765.1 197.8,762.8 C198.2,760.5 198.6,758.2 199.0,755.9 C199.4,753.6 199.8,751.3 200.2,749.0 C200.6,746.7 201.0,744.4 201.4,742.1 C201.7,739.7 202.1,737.4 202.5,735.1 C202.9,732.8 203.3,730.5 203.7,728.2 C204.0,725.9 204.4,723.6 204.8,721.3 C205.2,719.0 205.6,716.7 206.0,714.4 C206.4,712.1 206.8,709.8 207.2,707.5 C207.7,705.2 208.1,702.9 208.5,700.6 C209.0,698.3 209.4,696.0 209.9,693.7 C210.4,691.4 210.8,689.1 211.3,686.8 C211.8,684.5 212.3,682.3 212.9,680.0 C213.4,677.7 213.9,675.4 214.5,673.2 C215.0,670.9 215.6,668.6 216.2,666.4 C216.8,664.1 217.4,661.8 218.0,659.6 C218.6,657.3 219.2,655.1 219.9,652.8 C220.6,650.6 221.2,648.3 222.0,646.1 C222.7,643.9 223.4,641.7 224.2,639.5 C225.0,637.3 225.9,635.1 226.8,633.0 C227.7,630.8 228.7,628.7 229.8,626.6 C231.0,624.6 232.1,622.5 233.6,620.7 C235.1,619.0 236.8,617.0 238.8,616.1 C240.8,615.3 243.4,615.2 245.6,615.6 C247.8,616.0 249.8,618.0 252.0,618.5 C254.2,619.0 256.7,619.2 258.8,618.6 C260.9,618.0 262.9,616.3 264.7,614.8 C266.5,613.4 268.0,611.6 269.5,609.8 C271.1,608.1 272.5,606.2 273.9,604.3 C275.4,602.5 276.7,600.6 278.2,598.8 C279.7,597.0 281.1,594.9 283.0,593.7 C284.9,592.5 287.5,591.2 289.4,591.6 C291.3,592.0 293.2,594.4 294.5,596.2 C295.9,598.0 296.8,600.3 297.7,602.4 C298.7,604.5 299.4,606.8 300.2,609.0 C301.0,611.2 301.8,613.4 302.5,615.6 C303.3,617.8 304.0,620.0 304.7,622.3 C305.4,624.5 306.2,626.7 306.9,628.9 C307.7,631.1 308.4,633.3 309.2,635.5 C310.0,637.7 310.8,640.0 311.5,642.2 C312.3,644.4 313.1,646.6 313.9,648.8 C314.7,651.0 315.5,653.2 316.2,655.4 C317.0,657.6 317.8,659.8 318.6,662.0 C319.3,664.2 320.1,666.4 320.9,668.6 C321.6,670.8 322.3,673.1 323.1,675.3 C323.8,677.5 324.5,679.7 325.2,682.0 C326.0,684.2 326.6,686.4 327.3,688.6 C328.0,690.9 328.7,693.1 329.4,695.4 C330.0,697.6 330.7,699.8 331.4,702.1 C332.1,704.3 332.8,706.6 333.5,708.8 C334.2,711.0 334.9,713.2 335.6,715.5 C336.4,717.7 337.2,719.9 338.0,722.0 C338.9,724.2 339.8,726.4 340.9,728.5 C342.0,730.5 343.2,732.5 344.7,734.4 C346.1,736.2 347.9,737.7 349.6,739.3 C351.3,740.9 353.3,742.2 355.0,743.7 C356.8,745.3 358.6,746.8 360.3,748.4 C361.9,750.1 363.5,751.8 364.9,753.7 C366.4,755.5 367.7,757.5 368.9,759.4 C370.1,761.4 371.2,763.5 372.3,765.6 C373.4,767.6 374.4,769.8 375.4,771.9 C376.4,774.0 377.4,776.1 378.3,778.2 C379.3,780.4 380.3,782.5 381.3,784.6 C382.3,786.7 383.3,788.8 384.3,790.9 C385.3,793.0 386.4,795.1 387.4,797.2 C388.5,799.3 389.5,801.4 390.6,803.4 C391.7,805.5 392.8,807.6 394.0,809.6 C395.1,811.7 396.2,813.7 397.4,815.7 C398.6,817.8 399.8,819.8 401.0,821.8 C402.2,823.8 403.4,825.8 404.7,827.7 C405.9,829.7 407.2,831.7 408.5,833.6 C409.8,835.5 411.2,837.4 412.6,839.3 C413.9,841.2 415.3,843.1 416.8,845.0 C418.2,846.8 419.7,848.6 421.1,850.4 C422.6,852.2 424.2,854.0 425.7,855.8 C427.3,857.5 428.9,859.2 430.5,860.9 C432.1,862.6 433.7,864.3 435.4,865.9 C437.1,867.5 438.8,869.2 440.5,870.7 C442.2,872.3 444.0,873.9 445.7,875.4 C447.5,876.9 449.3,878.4 451.1,879.9 C452.9,881.4 454.7,882.9 456.5,884.4 C458.3,885.8 460.2,887.3 462.0,888.7 C463.9,890.1 465.7,891.6 467.6,893.0 C469.4,894.4 471.3,895.8 473.2,897.2 C475.0,898.7 476.9,900.1 478.8,901.4 C480.7,902.8 482.6,904.2 484.5,905.6 C486.4,906.9 488.3,908.3 490.2,909.6 C492.1,910.9 494.1,912.2 496.0,913.5 C498.0,914.8 499.9,916.1 501.9,917.3 C503.9,918.5 505.9,919.7 507.9,920.9 C510.0,922.1 512.0,923.2 514.0,924.4 C516.1,925.5 518.2,926.6 520.3,927.6 C522.4,928.7 524.5,929.7 526.6,930.7 C528.7,931.6 530.8,932.6 533.0,933.5 C535.1,934.4 537.3,935.3 539.5,936.2 C541.7,937.0 543.8,937.8 546.0,938.6 C548.2,939.4 550.5,940.2 552.7,940.9 C554.9,941.6 557.1,942.3 559.4,942.9 C561.6,943.6 563.9,944.2 566.2,944.8 C568.4,945.4 570.7,946.0 573.0,946.5 C575.2,947.0 577.5,947.5 579.8,948.0 C582.1,948.4 584.4,948.9 586.7,949.3 C589.0,949.7 591.3,950.1 593.6,950.4 C596.0,950.8 598.3,951.1 600.6,951.4 C602.9,951.7 605.2,952.0 607.5,952.2 C609.9,952.5 612.2,952.7 614.5,952.9 C616.9,953.2 619.2,953.3 621.5,953.5 C623.9,953.7 626.2,953.9 628.5,954.0 C630.9,954.1 633.2,954.3 635.5,954.4 C637.9,954.5 640.2,954.6 642.5,954.6 C644.9,954.7 647.2,954.8 649.5,954.9 C651.9,954.9 654.2,955.0 656.6,955.0 C658.9,955.1 661.2,955.1 663.6,955.1 C665.9,955.2 668.3,955.2 670.6,955.2 C672.9,955.2 675.3,955.2 677.6,955.3 C679.9,955.3 682.3,955.3 684.6,955.3 C687.0,955.3 689.3,955.3 691.6,955.4 C694.0,955.4 696.3,955.4 698.6,955.5 C701.0,955.5 703.3,955.5 705.7,955.6 C708.0,955.6 710.3,955.7 712.7,955.7 C715.0,955.8 717.4,955.9 719.7,956.0 C722.0,956.0 724.4,956.1 726.7,956.3 C729.0,956.4 732.5,956.6 733.7,956.6" stroke="#255E91" clip-path="url(#p2)"/>
<path d="M61.2,855.5 C62.3,856.0 65.5,857.4 67.6,858.3 C69.8,859.2 71.9,860.2 74.1,861.0 C76.3,861.8 78.5,862.7 80.8,863.2 C83.0,863.8 85.4,864.3 87.7,864.3 C90.0,864.4 92.4,864.2 94.6,863.6 C96.9,863.1 99.1,862.1 101.1,860.9 C103.1,859.7 104.9,858.1 106.6,856.5 C108.3,854.9 109.8,853.1 111.2,851.3 C112.6,849.4 113.9,847.4 115.1,845.5 C116.3,843.5 117.5,841.4 118.5,839.3 C119.6,837.2 120.6,835.1 121.6,833.0 C122.5,830.9 123.4,828.7 124.3,826.5 C125.2,824.4 126.0,822.2 126.8,820.0 C127.7,817.8 128.4,815.6 129.2,813.4 C130.0,811.2 130.7,808.9 131.5,806.7 C132.2,804.5 132.9,802.3 133.6,800.0 C134.3,797.8 135.0,795.6 135.6,793.3 C136.3,791.1 137.0,788.8 137.6,786.6 C138.3,784.3 138.9,782.1 139.5,779.8 C140.2,777.6 140.8,775.3 141.4,773.1 C142.0,770.8 142.6,768.6 143.3,766.3 C143.9,764.0 144.5,761.8 145.1,759.5 C145.7,757.3 146.3,755.0 146.9,752.7 C147.5,750.5 148.1,748.2 148.7,745.9 C149.3,743.7 149.9,741.4 150.5,739.2 C151.2,736.9 151.8,734.7 152.4,732.4 C153.0,730.2 153.7,727.9 154.3,725.7 C155.0,723.4 155.7,721.2 156.3,718.9 C157.0,716.7 157.7,714.4 158.4,712.2 C159.1,710.0 159.8,707.7 160.5,705.5 C161.2,703.3 161.9,701.0 162.6,698.8 C163.3,696.6 164.1,694.4 164.8,692.1 C165.5,689.9 166.3,687.7 167.0,685.5 C167.8,683.3 168.5,681.1 169.3,678.8 C170.0,676.6 170.8,674.4 171.5,672.2 C172.3,670.0 173.1,667.8 173.8,665.6 C174.6,663.4 175.4,661.2 176.2,659.0 C177.0,656.8 177.8,654.6 178.6,652.4 C179.4,650.2 180.3,648.0 181.1,645.8 C182.0,643.6 182.8,641.5 183.7,639.3 C184.6,637.1 185.5,635.0 186.4,632.8 C187.4,630.7 188.3,628.5 189.3,626.4 C190.3,624.3 191.3,622.2 192.4,620.1 C193.5,618.0 194.5,615.9 195.7,613.9 C196.9,611.9 198.0,609.9 199.3,607.9 C200.6,606.0 202.0,604.0 203.5,602.2 C204.9,600.4 206.5,598.6 208.3,597.1 C210.0,595.6 212.0,594.1 214.1,593.3 C216.3,592.6 218.8,592.3 221.0,592.7 C223.2,593.0 225.4,594.3 227.4,595.5 C229.4,596.7 231.1,598.3 232.9,599.9 C234.6,601.4 236.2,603.2 237.7,604.9 C239.3,606.7 240.8,608.5 242.3,610.3 C243.8,612.1 245.2,613.9 246.7,615.7 C248.1,617.6 249.6,619.4 251.1,621.2 C252.5,623.0 254.0,624.9 255.5,626.7 C257.0,628.4 258.5,630.2 260.1,631.9 C261.7,633.7 263.3,635.4 265.1,636.9 C266.8,638.5 268.6,640.1 270.5,641.3 C272.5,642.6 274.5,643.8 276.7,644.6 C278.9,645.4 281.2,646.0 283.5,646.3 C285.8,646.6 288.2,646.6 290.5,646.5 C292.8,646.3 295.1,645.9 297.4,645.4 C299.7,645.0 302.0,644.3 304.2,643.7 C306.5,643.1 308.7,642.3 311.0,641.7 C313.2,641.0 315.5,640.4 317.7,639.8 C320.0,639.2 322.3,638.6 324.6,638.2 C326.9,637.7 329.2,637.3 331.5,637.1 C333.8,636.8 336.2,636.6 338.5,636.7 C340.8,636.7 343.2,636.8 345.5,637.2 C347.8,637.5 350.1,638.1 352.3,638.8 C354.5,639.5 356.7,640.4 358.8,641.4 C360.9,642.5 362.9,643.7 364.9,645.0 C366.8,646.3 368.7,647.7 370.5,649.1 C372.4,650.6 374.1,652.1 375.9,653.6 C377.7,655.2 379.4,656.7 381.1,658.3 C382.8,659.9 384.5,661.5 386.2,663.2 C387.9,664.8 389.6,666.4 391.3,668.0 C393.0,669.6 394.7,671.2 396.4,672.9 C398.0,674.5 399.7,676.1 401.4,677.7 C403.1,679.3 404.8,681.0 406.5,682.6 C408.2,684.2 409.8,685.9 411.5,687.5 C413.2,689.1 414.8,690.8 416.5,692.5 C418.1,694.1 419.7,695.8 421.4,697.5 C423.0,699.2 424.6,700.9 426.2,702.6 C427.8,704.3 429.3,706.0 430.9,707.8 C432.5,709.5 434.0,711.3 435.5,713.1 C437.1,714.8 438.6,716.6 440.0,718.4 C441.5,720.3 443.0,722.1 444.4,723.9 C445.9,725.8 447.3,727.6 448.7,729.5 C450.1,731.4 451.5,733.2 452.9,735.1 C454.2,737.0 455.6,739.0 456.9,740.9 C458.2,742.8 459.5,744.8 460.8,746.7 C462.1,748.7 463.4,750.6 464.6,752.6 C465.9,754.6 467.1,756.6 468.3,758.6 C469.5,760.6 470.7,762.6 472.0,764.6 C473.2,766.6 474.4,768.6 475.6,770.6 C476.8,772.6 478.1,774.6 479.3,776.6 C480.6,778.5 481.8,780.5 483.1,782.4 C484.4,784.4 485.8,786.3 487.1,788.2 C488.5,790.1 489.9,792.0 491.3,793.9 C492.7,795.7 494.2,797.5 495.7,799.4 C497.1,801.2 498.6,803.0 500.1,804.8 C501.7,806.5 503.2,808.3 504.7,810.1 C506.3,811.8 507.9,813.6 509.4,815.3 C511.0,817.0 512.6,818.7 514.2,820.4 C515.8,822.1 517.4,823.8 519.0,825.5 C520.7,827.2 522.3,828.9 524.0,830.5 C525.6,832.2 527.3,833.8 529.0,835.5 C530.6,837.1 532.3,838.7 534.0,840.3 C535.7,841.9 537.4,843.5 539.2,845.1 C540.9,846.7 542.7,848.2 544.4,849.8 C546.2,851.3 547.9,852.8 549.7,854.4 C551.5,855.9 553.3,857.4 555.1,858.9 C556.9,860.3 558.7,861.8 560.6,863.3 C562.4,864.7 564.3,866.1 566.1,867.6 C568.0,869.0 569.9,870.4 571.8,871.7 C573.7,873.1 575.6,874.5 577.5,875.8 C579.4,877.2 581.3,878.5 583.3,879.8 C585.2,881.1 587.2,882.4 589.1,883.7 C591.1,884.9 593.1,886.2 595.1,887.4 C597.0,888.6 599.1,889.9 601.1,891.0 C603.1,892.2 605.1,893.4 607.1,894.5 C609.2,895.7 611.2,896.8 613.3,897.9 C615.4,899.0 617.4,900.1 619.5,901.2 C621.6,902.3 623.7,903.3 625.8,904.3 C627.9,905.4 630.0,906.4 632.1,907.4 C634.2,908.4 636.4,909.3 638.5,910.3 C640.7,911.2 642.8,912.1 645.0,913.0 C647.1,913.9 649.3,914.8 651.5,915.7 C653.6,916.5 655.8,917.4 658.0,918.2 C660.2,919.0 662.4,919.8 664.6,920.5 C666.9,921.3 669.1,922.0 671.3,922.7 C673.5,923.4 675.8,924.1 678.0,924.8 C680.3,925.4 682.5,926.1 684.8,926.6 C687.1,927.2 689.3,927.8 691.6,928.4 C693.9,928.9 696.2,929.4 698.5,929.9 C700.7,930.4 703.0,930.8 705.3,931.2 C707.6,931.6 710.0,932.0 712.3,932.4 C714.6,932.7 716.9,933.1 719.2,933.3 C721.5,933.6 723.9,933.9 726.2,934.1 C728.5,934.3 732.0,934.6 733.2,934.7" stroke="#43682B" clip-path="url(#p2)"/>
<path d="M61.2,934.8 C62.3,935.2 65.5,936.6 67.7,937.5 C69.9,938.3 72.0,939.2 74.3,940.0 C76.5,940.8 78.7,941.5 81.0,942.1 C83.2,942.7 85.5,943.3 87.8,943.6 C90.2,943.9 92.5,944.0 94.8,943.9 C97.2,943.8 99.5,943.5 101.8,943.0 C104.1,942.4 106.3,941.6 108.4,940.7 C110.6,939.8 112.7,938.6 114.6,937.4 C116.6,936.2 118.5,934.8 120.4,933.3 C122.2,931.9 124.0,930.3 125.7,928.7 C127.4,927.1 129.0,925.4 130.6,923.7 C132.2,922.0 133.7,920.2 135.2,918.4 C136.7,916.6 138.1,914.7 139.5,912.8 C140.9,910.9 142.3,909.0 143.6,907.1 C144.9,905.1 146.2,903.2 147.4,901.2 C148.6,899.2 149.8,897.2 151.0,895.1 C152.1,893.1 153.2,891.0 154.3,888.9 C155.4,886.8 156.4,884.7 157.4,882.6 C158.4,880.5 159.4,878.4 160.3,876.2 C161.2,874.1 162.2,871.9 163.0,869.7 C163.9,867.6 164.8,865.4 165.6,863.2 C166.4,861.0 167.2,858.8 168.0,856.6 C168.8,854.4 169.6,852.2 170.3,849.9 C171.0,847.7 171.7,845.5 172.4,843.2 C173.2,841.0 173.8,838.8 174.5,836.5 C175.2,834.3 175.8,832.0 176.4,829.8 C177.1,827.5 177.7,825.2 178.3,823.0 C178.9,820.7 179.5,818.4 180.1,816.2 C180.7,813.9 181.3,811.6 181.9,809.4 C182.4,807.1 183.0,804.8 183.6,802.5 C184.2,800.3 184.7,798.0 185.3,795.7 C185.9,793.5 186.4,791.2 187.0,788.9 C187.6,786.6 188.1,784.4 188.7,782.1 C189.2,779.8 189.8,777.5 190.4,775.3 C191.0,773.0 191.5,770.7 192.1,768.4 C192.7,766.2 193.3,763.9 193.9,761.6 C194.5,759.4 195.1,757.1 195.7,754.8 C196.3,752.6 196.9,750.3 197.5,748.0 C198.1,745.8 198.8,743.5 199.4,741.3 C200.1,739.0 200.7,736.8 201.4,734.5 C202.1,732.3 202.7,730.0 203.4,727.8 C204.1,725.5 204.8,723.3 205.5,721.1 C206.2,718.8 206.9,716.6 207.7,714.4 C208.4,712.2 209.1,709.9 209.9,707.7 C210.7,705.5 211.4,703.3 212.2,701.1 C213.0,698.9 213.8,696.7 214.6,694.5 C215.5,692.3 216.3,690.1 217.2,687.9 C218.0,685.7 218.9,683.5 219.8,681.4 C220.7,679.2 221.6,677.1 222.5,674.9 C223.5,672.8 224.4,670.6 225.4,668.5 C226.4,666.4 227.4,664.2 228.4,662.1 C229.4,660.0 230.5,657.9 231.6,655.9 C232.6,653.8 233.8,651.7 234.9,649.7 C236.1,647.6 237.2,645.6 238.4,643.6 C239.7,641.6 240.9,639.6 242.2,637.6 C243.5,635.7 244.8,633.7 246.2,631.8 C247.5,629.9 249.0,628.1 250.4,626.2 C251.9,624.4 253.4,622.6 254.9,620.9 C256.5,619.1 258.1,617.4 259.8,615.7 C261.4,614.1 263.2,612.5 265.0,611.0 C266.7,609.5 268.6,608.0 270.5,606.7 C272.4,605.3 274.4,604.0 276.4,602.9 C278.4,601.7 280.5,600.6 282.7,599.7 C284.8,598.8 287.0,598.0 289.3,597.3 C291.5,596.6 293.8,596.0 296.1,595.6 C298.4,595.2 300.7,594.9 303.1,594.7 C305.4,594.5 307.8,594.5 310.1,594.5 C312.4,594.5 314.8,594.7 317.1,594.9 C319.5,595.2 321.8,595.5 324.1,595.9 C326.4,596.3 328.7,596.7 331.0,597.2 C333.3,597.7 335.6,598.3 337.8,598.8 C340.1,599.4 342.4,600.0 344.6,600.6 C346.9,601.2 349.2,601.8 351.4,602.4 C353.7,603.0 356.0,603.6 358.2,604.2 C360.5,604.8 362.8,605.3 365.1,605.8 C367.4,606.3 369.7,606.8 372.0,607.2 C374.3,607.6 376.6,608.0 378.9,608.3 C381.2,608.6 383.6,608.9 385.9,609.1 C388.2,609.4 390.6,609.6 392.9,609.9 C395.2,610.1 397.6,610.3 399.9,610.6 C402.2,610.8 404.6,611.1 406.9,611.3 C409.2,611.6 411.5,611.9 413.9,612.3 C416.2,612.6 418.5,613.0 420.8,613.5 C423.1,614.0 425.4,614.5 427.6,615.1 C429.9,615.8 432.1,616.5 434.3,617.3 C436.5,618.2 438.7,619.1 440.8,620.1 C442.9,621.2 444.9,622.3 446.9,623.5 C448.9,624.8 450.8,626.1 452.7,627.5 C454.6,628.9 456.4,630.4 458.1,632.0 C459.9,633.5 461.5,635.2 463.2,636.9 C464.8,638.6 466.3,640.3 467.9,642.1 C469.4,643.9 470.8,645.8 472.2,647.6 C473.6,649.5 475.0,651.4 476.3,653.3 C477.7,655.2 479.0,657.2 480.3,659.2 C481.6,661.1 482.8,663.1 484.1,665.0 C485.4,667.0 486.6,669.0 487.9,671.0 C489.2,672.9 490.4,674.9 491.7,676.9 C492.9,678.9 494.2,680.9 495.4,682.9 C496.6,684.8 497.9,686.8 499.1,688.8 C500.4,690.8 501.6,692.8 502.8,694.8 C504.1,696.8 505.3,698.8 506.6,700.8 C507.8,702.8 509.0,704.7 510.3,706.7 C511.5,708.7 512.8,710.7 514.0,712.7 C515.3,714.7 516.5,716.7 517.7,718.7 C519.0,720.6 520.2,722.6 521.5,724.6 C522.8,726.6 524.0,728.6 525.3,730.5 C526.5,732.5 527.8,734.5 529.1,736.4 C530.3,738.4 531.6,740.4 532.9,742.4 C534.2,744.3 535.5,746.3 536.7,748.2 C538.0,750.2 539.3,752.2 540.6,754.1 C541.9,756.1 543.2,758.0 544.5,760.0 C545.8,761.9 547.1,763.9 548.4,765.8 C549.7,767.8 551.0,769.7 552.3,771.7 C553.6,773.6 554.9,775.5 556.3,777.5 C557.6,779.4 558.9,781.4 560.2,783.3 C561.6,785.2 562.9,787.1 564.2,789.1 C565.6,791.0 566.9,792.9 568.3,794.8 C569.6,796.8 571.0,798.7 572.3,800.6 C573.7,802.5 575.0,804.4 576.4,806.3 C577.7,808.2 579.1,810.1 580.5,812.0 C581.8,813.9 583.2,815.8 584.6,817.7 C586.0,819.6 587.3,821.5 588.7,823.4 C590.1,825.3 591.5,827.2 592.9,829.1 C594.3,831.0 595.7,832.9 597.1,834.7 C598.5,836.6 599.9,838.5 601.3,840.4 C602.7,842.2 604.1,844.1 605.5,846.0 C606.9,847.9 608.4,849.7 609.8,851.6 C611.2,853.4 612.7,855.3 614.1,857.1 C615.5,859.0 617.0,860.8 618.4,862.7 C619.9,864.5 621.3,866.4 622.8,868.2 C624.3,870.0 625.8,871.8 627.3,873.6 C628.8,875.4 630.3,877.2 631.8,879.0 C633.3,880.8 634.8,882.6 636.4,884.3 C638.0,886.1 639.5,887.8 641.1,889.5 C642.7,891.3 644.3,893.0 646.0,894.6 C647.6,896.3 649.2,898.0 650.9,899.6 C652.6,901.2 654.3,902.8 656.1,904.4 C657.8,905.9 659.6,907.5 661.4,908.9 C663.3,910.4 665.1,911.9 667.0,913.2 C668.9,914.6 670.9,915.9 672.9,917.1 C674.8,918.4 676.9,919.5 679.0,920.6 C681.1,921.6 683.2,922.6 685.4,923.4 C687.6,924.3 689.8,925.0 692.1,925.7 C694.3,926.3 696.6,926.9 698.9,927.4 C701.2,927.9 703.5,928.3 705.8,928.8 C708.1,929.2 710.4,929.6 712.7,930.0 C715.0,930.4 717.3,930.8 719.6,931.3 C721.9,931.8 724.2,932.3 726.5,932.9 C728.7,933.5 732.1,934.6 733.2,934.9" stroke="#698ED0" clip-path="url(#p2)"/>
</g>
<!-- frame chart 1 -->
<g stroke="#333333" stroke-width="1.5" fill="none">
<rect x="68.4" y="17.7" width="639" height="335.9"/>
<path d="M68.4,353.6 v5.4 M281.4,353.6 v5.4 M494.2,353.6 v5.4 M707.4,353.6 v5.4"/>
</g>
<!-- frame chart 2 -->
<g stroke="#333333" stroke-width="1.5" fill="none">
<path d="M62.2,957.6 V586.5 H732.6 V957.6"/>
<path d="M56,957.6 H62.2 M56,594 H62.2 M62.2,957.6 v6 M196.3,957.6 v6 M330.4,957.6 v6 M464.5,957.6 v6 M598.5,957.6 v6 M732.6,957.6 v6"/>
</g>
<g font-family="'Liberation Serif', serif" fill="#595959">
<text transform="translate(46 25.8) scale(1.06 1)" text-anchor="middle" font-size="17.5">1</text>
<text transform="translate(45.9 357.6) scale(1.06 1)" text-anchor="middle" font-size="17.5">0</text>
<text transform="translate(68.3 380.6) scale(1.06 1)" text-anchor="middle" font-size="18">300</text>
<text transform="translate(281.3 380.6) scale(1.06 1)" text-anchor="middle" font-size="18">350</text>
<text transform="translate(494.3 380.6) scale(1.06 1)" text-anchor="middle" font-size="18">400</text>
<text transform="translate(707.1 380.6) scale(1.06 1)" text-anchor="middle" font-size="18">450</text>
<text transform="translate(39.6 598.3) scale(1.06 1)" text-anchor="middle" font-size="17.5">1</text>
<text transform="translate(39.8 962.8) scale(1.06 1)" text-anchor="middle" font-size="17.5">0</text>
<text transform="translate(62.2 985.6) scale(1.06 1)" text-anchor="middle" font-size="18">350</text>
<text transform="translate(196.3 985.6) scale(1.06 1)" text-anchor="middle" font-size="18">400</text>
<text transform="translate(330.4 985.6) scale(1.06 1)" text-anchor="middle" font-size="18">450</text>
<text transform="translate(464.5 985.6) scale(1.06 1)" text-anchor="middle" font-size="18">500</text>
<text transform="translate(598.5 985.6) scale(1.06 1)" text-anchor="middle" font-size="18">550</text>
<text transform="translate(732.6 985.6) scale(1.06 1)" text-anchor="middle" font-size="18">600</text>
<text transform="translate(370 403.3) scale(1.077 1)" text-anchor="middle" font-size="20">Wavelength (nm)</text>
<text transform="translate(51.0 183.1) rotate(-90) scale(1.055 1)" text-anchor="middle" font-size="20.5">Normalized Absorbance</text>
<text transform="translate(393.4 1013.8) scale(1.06 1)" text-anchor="middle" font-size="20">Wavelength (nm)</text>
<text transform="translate(48.7 758.7) rotate(-90) scale(1.026 1)" text-anchor="middle" font-size="20.5">Normalized Intensity</text>
<line x1="65.1" y1="428.2" x2="107" y2="428.2" stroke="#4472C4" stroke-width="2.4"/>
<text transform="translate(109 433.6) scale(1.07 1)" text-anchor="start" font-size="18">DMSO</text>
<line x1="298.6" y1="428.2" x2="337.8" y2="428.2" stroke="#ED7D31" stroke-width="2.4"/>
<text transform="translate(341.4 433.6) scale(1.07 1)" text-anchor="start" font-size="18">DMF</text>
<line x1="531.9" y1="428.2" x2="572.9" y2="428.2" stroke="#A5A5A5" stroke-width="2.4"/>
<text transform="translate(576.4 433.6) scale(1.07 1)" text-anchor="start" font-size="18">Methanol</text>
<line x1="65.1" y1="446.8" x2="107" y2="446.8" stroke="#FFC000" stroke-width="2.4"/>
<text transform="translate(109 452.2) scale(1.07 1)" text-anchor="start" font-size="18">Ethanol</text>
<line x1="298.6" y1="446.8" x2="337.8" y2="446.8" stroke="#5B9BD5" stroke-width="2.4"/>
<text transform="translate(341.4 452.2) scale(1.07 1)" text-anchor="start" font-size="18">Acetone</text>
<line x1="531.9" y1="446.8" x2="572.9" y2="446.8" stroke="#70AD47" stroke-width="2.4"/>
<text transform="translate(576.4 452.2) scale(1.07 1)" text-anchor="start" font-size="18">1-Propanol</text>
<line x1="65.1" y1="465.4" x2="107" y2="465.4" stroke="#264478" stroke-width="2.4"/>
<text transform="translate(109 470.8) scale(1.07 1)" text-anchor="start" font-size="18">1-Butanol</text>
<line x1="298.6" y1="465.4" x2="337.8" y2="465.4" stroke="#9E480E" stroke-width="2.4"/>
<text transform="translate(341.4 470.8) scale(1.07 1)" text-anchor="start" font-size="18">1-Hexanol</text>
<line x1="531.9" y1="465.4" x2="572.9" y2="465.4" stroke="#636363" stroke-width="2.4"/>
<text transform="translate(576.4 470.8) scale(1.07 1)" text-anchor="start" font-size="18">Dichloromethane</text>
<line x1="65.1" y1="484.0" x2="107" y2="484.0" stroke="#997300" stroke-width="2.4"/>
<text transform="translate(109 489.4) scale(1.07 1)" text-anchor="start" font-size="18">Diethyl ether</text>
<line x1="298.6" y1="484.0" x2="337.8" y2="484.0" stroke="#255E91" stroke-width="2.4"/>
<text transform="translate(341.4 489.4) scale(1.07 1)" text-anchor="start" font-size="18">Benzene</text>
<line x1="531.9" y1="484.0" x2="572.9" y2="484.0" stroke="#43682B" stroke-width="2.4"/>
<text transform="translate(576.4 489.4) scale(1.07 1)" text-anchor="start" font-size="18">1,4-Dioxane</text>
<line x1="65.1" y1="502.6" x2="107" y2="502.6" stroke="#698ED0" stroke-width="2.4"/>
<text transform="translate(109 508.0) scale(1.07 1)" text-anchor="start" font-size="18">Cyclohexane</text>
<line x1="67.8" y1="1038.3" x2="109.7" y2="1038.3" stroke="#4472C4" stroke-width="2.4"/>
<text transform="translate(113.2 1044.0) scale(1.065 1)" text-anchor="start" font-size="18">DMSO</text>
<line x1="303.3" y1="1038.3" x2="344.3" y2="1038.3" stroke="#ED7D31" stroke-width="2.4"/>
<text transform="translate(347.5 1044.0) scale(1.065 1)" text-anchor="start" font-size="18">DMF</text>
<line x1="536.5" y1="1038.3" x2="577.1" y2="1038.3" stroke="#A5A5A5" stroke-width="2.4"/>
<text transform="translate(580.9 1044.0) scale(1.065 1)" text-anchor="start" font-size="18">Methanol</text>
<line x1="67.8" y1="1060.4" x2="109.7" y2="1060.4" stroke="#FFC000" stroke-width="2.4"/>
<text transform="translate(113.2 1066.1) scale(1.065 1)" text-anchor="start" font-size="18">Ethanol</text>
<line x1="303.3" y1="1060.4" x2="344.3" y2="1060.4" stroke="#5B9BD5" stroke-width="2.4"/>
<text transform="translate(347.5 1066.1) scale(1.065 1)" text-anchor="start" font-size="18">Acetone</text>
<line x1="536.5" y1="1060.4" x2="577.1" y2="1060.4" stroke="#70AD47" stroke-width="2.4"/>
<text transform="translate(580.9 1066.1) scale(1.065 1)" text-anchor="start" font-size="18">2-propanol</text>
<line x1="67.8" y1="1082.5" x2="109.7" y2="1082.5" stroke="#264478" stroke-width="2.4"/>
<text transform="translate(113.2 1088.2) scale(1.065 1)" text-anchor="start" font-size="18">1-Butanol</text>
<line x1="303.3" y1="1082.5" x2="344.3" y2="1082.5" stroke="#9E480E" stroke-width="2.4"/>
<text transform="translate(347.5 1088.2) scale(1.065 1)" text-anchor="start" font-size="18">1-Hexanol</text>
<line x1="536.5" y1="1082.5" x2="577.1" y2="1082.5" stroke="#636363" stroke-width="2.4"/>
<text transform="translate(580.9 1088.2) scale(1.065 1)" text-anchor="start" font-size="18">Dichloromethane</text>
<line x1="67.8" y1="1104.7" x2="109.7" y2="1104.7" stroke="#997300" stroke-width="2.4"/>
<text transform="translate(113.2 1110.4) scale(1.065 1)" text-anchor="start" font-size="18">Diethyl ether</text>
<line x1="303.3" y1="1104.7" x2="344.3" y2="1104.7" stroke="#255E91" stroke-width="2.4"/>
<text transform="translate(347.5 1110.4) scale(1.065 1)" text-anchor="start" font-size="18">Benzene</text>
<line x1="536.5" y1="1104.7" x2="577.1" y2="1104.7" stroke="#43682B" stroke-width="2.4"/>
<text transform="translate(580.9 1110.4) scale(1.065 1)" text-anchor="start" font-size="18">1,4-Dioxane</text>
<line x1="67.8" y1="1126.8" x2="109.7" y2="1126.8" stroke="#698ED0" stroke-width="2.4"/>
<text transform="translate(113.2 1132.5) scale(1.065 1)" text-anchor="start" font-size="18">Cyclohexane</text>
</g>
<g font-family="'Liberation Serif', serif" fill="#000">
<text transform="translate(379.2 557.2) scale(1.06 1)" text-anchor="middle" font-size="20">a)</text>
<text transform="translate(378.9 1177.7) scale(1.06 1)" text-anchor="middle" font-size="20">b)</text>
</g>
</svg></body></html>
